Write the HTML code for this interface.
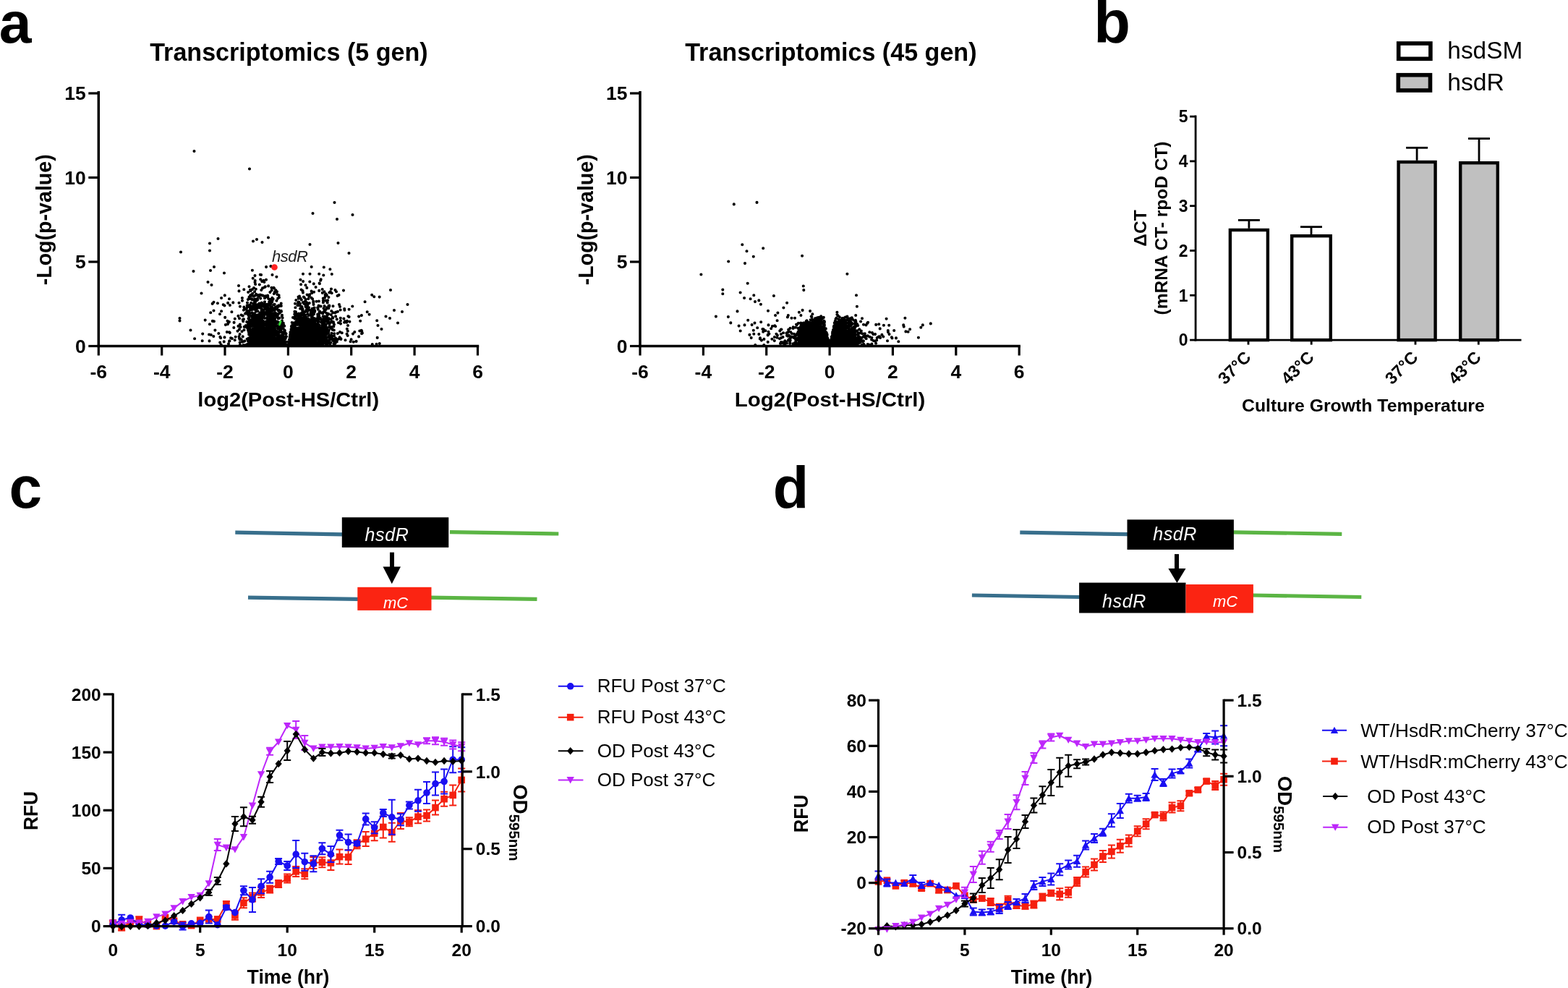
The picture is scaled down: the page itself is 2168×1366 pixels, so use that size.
<!DOCTYPE html>
<html><head><meta charset="utf-8"><style>
html,body{margin:0;padding:0;background:#fff;overflow:hidden;width:2168px;height:1366px;}
svg{display:block;font-family:"Liberation Sans",Arial,sans-serif;}
</style></head><body>
<svg width="2168" height="1366" viewBox="0 0 2168 1366">
<rect width="2168" height="1366" fill="#fff"/>
<text x="-1.2" y="58.8" font-size="80.5" font-weight="bold"  text-anchor="start" fill="#000" >a</text>
<text x="1512.2" y="58.6" font-size="83" font-weight="bold"  text-anchor="start" fill="#000" >b</text>
<text x="12.6" y="702.2" font-size="82" font-weight="bold"  text-anchor="start" fill="#000" >c</text>
<text x="1068.8" y="702.0" font-size="81" font-weight="bold"  text-anchor="start" fill="#000" >d</text>
<path d="M279.7 471.3h0M440.5 444.4h0M366.0 417.3h0M429.0 460.6h0M359.0 436.2h0M348.2 413.9h0M425.6 453.6h0M361.6 453.6h0M425.3 442.5h0M353.0 425.3h0M404.4 464.4h0M423.4 460.4h0M335.0 415.7h0M424.2 470.1h0M398.1 477.0h0M371.4 447.7h0M383.8 477.0h0M391.9 459.1h0M323.3 453.0h0M352.3 450.3h0M453.8 441.9h0M370.3 409.9h0M358.7 452.5h0M424.1 468.1h0M445.5 456.1h0M408.4 452.9h0M421.4 463.6h0M366.6 477.0h0M373.6 460.7h0M447.2 460.0h0M394.5 468.7h0M377.7 433.0h0M459.8 438.6h0M455.4 404.5h0M440.6 434.9h0M413.2 465.2h0M369.8 446.8h0M422.9 457.0h0M347.1 467.3h0M366.0 412.2h0M446.9 418.2h0M455.1 463.4h0M432.1 413.3h0M367.4 463.2h0M409.9 461.7h0M385.6 474.7h0M393.7 466.1h0M414.5 458.5h0M383.9 471.9h0M440.9 416.5h0M401.1 463.5h0M422.9 449.3h0M383.0 427.5h0M456.2 466.0h0M379.2 464.5h0M387.1 467.9h0M411.6 435.9h0M407.4 430.9h0M426.6 469.2h0M380.0 442.5h0M346.1 469.9h0M354.5 425.1h0M457.0 453.0h0M414.4 459.3h0M417.7 462.9h0M388.7 419.5h0M371.8 476.0h0M435.1 450.3h0M437.1 454.1h0M449.4 455.0h0M362.0 462.8h0M372.9 462.5h0M427.3 472.4h0M357.4 408.1h0M423.3 449.7h0M393.2 450.7h0M423.1 441.6h0M442.3 430.8h0M444.0 452.9h0M406.9 446.3h0M429.0 473.5h0M376.0 459.5h0M405.7 472.0h0M356.4 458.5h0M406.2 471.0h0M353.1 464.3h0M401.8 460.0h0M353.9 467.3h0M353.5 457.6h0M374.2 466.5h0M416.0 450.8h0M306.1 412.0h0M362.9 448.6h0M378.1 456.6h0M390.1 476.1h0M378.1 421.5h0M353.5 438.1h0M434.2 458.1h0M362.9 473.6h0M497.3 457.5h0M446.8 415.7h0M370.2 458.7h0M449.6 473.2h0M443.0 459.4h0M438.9 441.1h0M387.0 469.6h0M427.4 407.7h0M381.1 427.4h0M437.2 442.3h0M345.7 468.7h0M365.7 397.2h0M343.5 440.8h0M372.0 458.7h0M479.9 443.7h0M444.1 472.8h0M387.2 474.0h0M353.2 442.2h0M352.1 469.3h0M414.4 468.5h0M365.5 468.2h0M413.9 448.3h0M455.0 466.6h0M432.4 469.3h0M364.3 445.3h0M345.0 453.8h0M355.7 477.0h0M377.3 442.8h0M348.2 456.9h0M353.5 462.8h0M378.7 475.8h0M365.4 472.2h0M446.3 455.1h0M416.1 470.4h0M433.3 418.4h0M415.9 456.1h0M450.5 408.9h0M431.5 470.9h0M451.9 408.1h0M409.1 432.6h0M362.5 461.4h0M370.8 449.0h0M365.6 462.4h0M345.0 446.4h0M377.1 465.1h0M378.2 465.9h0M434.1 403.7h0M360.5 474.1h0M445.8 404.9h0M412.6 453.3h0M351.4 461.7h0M408.0 446.6h0M367.3 409.4h0M391.2 466.5h0M424.7 423.3h0M369.7 458.1h0M422.5 460.0h0M373.4 472.6h0M361.4 473.9h0M346.0 427.1h0M425.4 471.2h0M373.7 463.4h0M450.0 449.4h0M445.1 473.8h0M414.1 474.1h0M412.7 469.9h0M380.4 454.7h0M371.9 476.2h0M432.7 439.2h0M373.4 473.5h0M406.9 472.7h0M407.9 475.4h0M387.0 450.5h0M416.9 457.6h0M352.2 440.5h0M344.4 468.4h0M386.8 456.1h0M363.1 457.9h0M356.2 448.4h0M422.2 452.8h0M351.1 436.5h0M441.3 473.2h0M380.8 445.2h0M362.3 434.9h0M427.8 419.0h0M369.2 448.9h0M369.9 431.1h0M434.2 426.9h0M383.1 468.4h0M423.1 449.9h0M461.5 475.3h0M406.7 469.4h0M410.8 466.7h0M419.0 378.7h0M362.9 462.3h0M289.5 471.4h0M346.7 426.9h0M369.9 468.4h0M345.3 467.0h0M371.8 446.4h0M443.6 423.5h0M365.1 468.1h0M407.2 465.8h0M444.5 454.3h0M414.0 471.3h0M399.7 475.4h0M448.0 468.1h0M348.0 457.1h0M430.6 455.8h0M370.1 473.8h0M356.5 477.0h0M446.7 473.4h0M421.1 474.1h0M420.6 439.0h0M402.7 476.3h0M447.0 461.5h0M345.8 462.0h0M356.6 444.9h0M419.8 467.8h0M408.7 477.0h0M373.5 467.8h0M422.4 460.4h0M352.6 427.9h0M365.8 457.8h0M446.8 449.3h0M359.2 468.4h0M345.2 456.7h0M317.0 471.7h0M352.6 437.0h0M363.8 462.1h0M446.8 451.3h0M356.1 472.2h0M413.9 477.0h0M426.2 461.4h0M402.5 455.2h0M440.4 463.5h0M420.9 469.0h0M410.9 474.0h0M381.3 474.4h0M383.9 438.6h0M334.9 412.0h0M354.6 475.5h0M420.9 467.7h0M359.4 446.3h0M388.7 452.5h0M352.1 452.4h0M360.4 445.5h0M440.7 475.9h0M411.4 455.1h0M441.1 471.5h0M331.9 423.7h0M346.5 402.2h0M422.5 468.4h0M349.3 448.4h0M365.6 460.8h0M348.9 426.5h0M351.0 447.4h0M360.8 447.1h0M377.1 464.5h0M343.1 456.8h0M441.4 459.4h0M371.6 442.8h0M360.1 475.4h0M451.5 444.6h0M354.0 456.5h0M365.3 436.5h0M423.3 458.0h0M443.2 387.7h0M365.5 453.3h0M393.0 470.4h0M297.4 456.6h0M372.7 432.1h0M417.5 456.7h0M373.7 469.4h0M390.8 449.5h0M431.7 436.8h0M428.4 466.0h0M359.1 466.6h0M361.2 469.6h0M387.5 465.5h0M343.6 467.9h0M498.2 443.7h0M461.2 447.1h0M361.9 427.3h0M407.0 461.2h0M430.7 477.0h0M403.1 472.7h0M464.1 467.6h0M445.0 475.1h0M379.1 459.9h0M343.2 404.0h0M349.4 434.5h0M449.1 411.5h0M422.5 424.1h0M417.7 455.0h0M348.5 442.2h0M467.0 430.7h0M348.0 476.0h0M382.6 459.0h0M372.9 442.2h0M409.8 445.6h0M438.8 476.9h0M378.8 473.2h0M358.5 473.1h0M427.1 425.3h0M439.2 458.1h0M374.8 459.9h0M406.8 461.4h0M376.2 417.7h0M344.3 469.7h0M445.9 465.6h0M405.9 465.6h0M347.8 458.8h0M315.5 446.7h0M482.6 438.1h0M414.6 471.0h0M466.3 469.6h0M352.2 473.2h0M371.7 460.4h0M382.9 469.0h0M375.2 456.4h0M418.4 457.2h0M339.6 477.0h0M316.9 445.0h0M346.1 461.9h0M420.1 438.5h0M387.8 469.5h0M365.6 472.7h0M387.0 455.3h0M371.9 442.1h0M436.2 462.6h0M416.8 414.5h0M366.0 467.7h0M389.4 473.3h0M426.4 475.6h0M424.4 426.9h0M375.9 427.6h0M424.3 397.9h0M457.4 473.7h0M342.9 455.1h0M416.5 464.2h0M379.1 455.8h0M388.8 473.8h0M353.4 473.1h0M416.2 463.3h0M373.2 458.0h0M416.3 438.9h0M342.7 471.2h0M417.5 462.9h0M374.0 441.0h0M422.7 452.6h0M370.0 442.5h0M364.0 450.8h0M358.8 460.8h0M375.5 428.0h0M377.0 472.5h0M452.1 477.0h0M384.2 454.6h0M472.8 460.2h0M380.0 403.4h0M445.4 449.7h0M414.4 457.7h0M408.8 463.2h0M399.8 477.0h0M351.4 457.2h0M346.2 462.9h0M351.3 446.0h0M412.6 439.1h0M356.5 430.3h0M446.5 464.4h0M364.4 456.1h0M357.2 424.7h0M410.0 463.4h0M348.6 432.2h0M357.4 457.5h0M415.7 468.4h0M445.0 466.6h0M424.2 458.3h0M343.4 435.6h0M411.7 460.3h0M400.9 470.4h0M402.8 471.4h0M365.1 435.9h0M359.4 425.3h0M344.0 471.7h0M414.7 454.8h0M372.7 460.4h0M352.4 467.8h0M353.8 426.7h0M419.3 454.4h0M369.7 459.8h0M420.4 464.9h0M358.2 435.7h0M360.4 447.9h0M439.2 425.4h0M365.8 468.0h0M356.3 408.1h0M369.8 440.4h0M479.6 461.8h0M441.4 451.8h0M428.1 407.2h0M358.1 425.4h0M425.0 451.9h0M347.4 445.9h0M370.3 445.5h0M435.2 452.5h0M373.3 457.8h0M354.2 438.9h0M437.3 448.4h0M386.2 477.0h0M408.4 425.3h0M362.2 408.4h0M359.6 423.3h0M392.0 448.8h0M417.6 424.9h0M452.4 470.7h0M419.6 465.2h0M392.1 474.2h0M434.1 444.5h0M368.7 470.1h0M377.3 452.4h0M418.7 432.9h0M390.9 447.7h0M348.3 448.5h0M340.0 450.1h0M349.7 423.0h0M420.5 466.4h0M346.0 442.5h0M360.2 412.6h0M386.3 439.7h0M356.4 425.3h0M425.2 462.3h0M437.0 452.2h0M418.6 474.6h0M409.5 473.6h0M364.2 474.5h0M350.5 450.5h0M346.8 409.5h0M381.3 447.0h0M447.4 453.7h0M431.2 467.6h0M354.7 463.6h0M427.1 448.7h0M408.8 473.7h0M354.0 421.4h0M416.4 460.1h0M423.9 471.2h0M393.6 456.5h0M343.8 458.3h0M449.9 442.8h0M373.5 466.8h0M428.8 460.4h0M344.2 422.9h0M349.3 433.5h0M458.2 463.7h0M446.4 461.8h0M358.5 434.1h0M344.1 460.0h0M423.4 428.9h0M347.4 443.0h0M359.7 477.0h0M436.2 449.4h0M353.2 467.8h0M453.4 475.0h0M414.3 434.5h0M423.6 438.6h0M418.6 427.7h0M422.7 476.7h0M411.4 422.1h0M349.6 473.9h0M445.5 450.0h0M429.3 461.9h0M416.0 454.7h0M420.9 469.5h0M458.0 399.5h0M369.5 472.4h0M369.0 449.2h0M375.7 462.2h0M458.0 467.8h0M350.9 464.2h0M331.9 476.9h0M350.7 448.3h0M374.2 420.6h0M414.1 469.4h0M365.8 460.6h0M377.6 446.6h0M355.2 426.1h0M431.2 474.5h0M384.5 466.2h0M433.4 466.8h0M367.7 433.4h0M413.2 437.5h0M446.5 455.1h0M445.8 443.5h0M411.0 447.1h0M362.0 474.6h0M454.3 460.6h0M412.5 465.5h0M365.5 463.3h0M379.8 404.7h0M413.3 467.5h0M351.7 476.8h0M364.6 472.1h0M370.1 472.9h0M451.3 455.4h0M341.6 422.2h0M356.4 471.6h0M356.2 475.7h0M348.0 407.4h0M499.7 456.7h0M352.1 403.2h0M416.5 464.0h0M408.9 458.9h0M459.0 444.2h0M417.7 476.8h0M377.3 464.7h0M357.7 454.2h0M356.9 465.3h0M429.9 462.7h0M350.9 469.7h0M386.9 458.0h0M440.7 460.2h0M361.7 441.9h0M412.2 474.0h0M383.3 407.0h0M366.4 477.0h0M429.5 450.8h0M374.4 368.1h0M459.4 464.8h0M414.3 464.7h0M345.6 421.6h0M280.2 461.6h0M400.3 474.0h0M411.5 467.8h0M447.8 442.4h0M391.5 460.7h0M438.6 462.2h0M500.1 461.2h0M443.6 476.6h0M438.8 440.3h0M412.4 459.9h0M400.6 466.1h0M504.6 417.3h0M425.0 451.8h0M315.1 418.9h0M397.1 477.0h0M354.2 447.1h0M412.5 470.7h0M436.1 467.9h0M362.0 452.1h0M431.1 456.4h0M367.2 465.2h0M441.1 463.2h0M355.4 464.1h0M364.0 467.3h0M346.8 469.9h0M352.5 390.3h0M355.0 423.1h0M369.8 436.4h0M343.8 451.8h0M429.2 435.8h0M349.2 458.2h0M392.1 475.3h0M413.1 433.9h0M481.4 437.2h0M347.1 469.8h0M351.5 418.4h0M427.9 471.4h0M344.1 474.0h0M392.6 473.0h0M415.1 467.2h0M380.6 477.0h0M462.4 472.8h0M393.0 469.8h0M408.3 473.8h0M289.9 448.2h0M431.6 426.8h0M377.4 472.6h0M435.5 441.0h0M411.2 458.1h0M450.8 473.6h0M448.3 443.7h0M425.1 468.2h0M476.4 428.7h0M409.9 453.6h0M348.3 462.9h0M442.7 477.0h0M291.8 463.0h0M344.4 458.0h0M333.8 469.7h0M433.1 458.1h0M364.5 460.8h0M426.6 445.2h0M357.4 477.0h0M346.5 449.3h0M348.1 457.9h0M380.7 467.8h0M375.9 440.8h0M412.7 455.0h0M438.5 457.6h0M330.9 455.4h0M372.1 469.2h0M356.0 471.6h0M354.3 415.7h0M436.1 472.3h0M370.1 455.4h0M419.2 430.6h0M439.3 474.2h0M459.1 467.8h0M455.1 464.6h0M401.5 459.3h0M419.8 475.1h0M383.5 476.2h0M331.0 440.2h0M360.9 467.9h0M420.7 444.2h0M402.9 451.6h0M376.4 462.7h0M344.2 438.9h0M305.7 476.5h0M427.5 447.9h0M369.4 426.6h0M385.2 477.0h0M372.1 450.8h0M455.7 468.4h0M423.0 457.5h0M351.6 471.8h0M404.6 449.9h0M471.1 468.3h0M363.0 476.1h0M433.4 448.0h0M415.5 439.5h0M386.5 458.7h0M363.6 455.7h0M371.4 454.4h0M356.4 472.8h0M422.5 441.7h0M450.5 406.2h0M372.1 417.6h0M356.5 460.6h0M464.1 437.4h0M300.9 419.2h0M366.9 456.0h0M446.2 467.9h0M425.0 431.0h0M416.1 462.5h0M445.3 445.5h0M376.2 467.9h0M369.0 424.6h0M344.2 445.6h0M371.1 467.8h0M418.3 470.7h0M343.8 477.0h0M416.0 447.9h0M431.1 405.2h0M355.4 474.1h0M430.6 432.0h0M411.8 469.5h0M431.2 465.9h0M361.3 475.7h0M407.3 434.4h0M447.5 460.4h0M356.1 439.3h0M377.1 464.9h0M445.7 400.0h0M357.9 454.9h0M370.7 453.8h0M418.9 465.0h0M354.5 459.9h0M355.1 426.7h0M345.0 460.6h0M431.5 441.1h0M449.1 429.6h0M441.1 466.5h0M392.3 469.3h0M425.1 477.0h0M480.8 457.7h0M438.5 451.2h0M304.2 473.6h0M455.2 464.8h0M359.3 451.5h0M359.6 459.9h0M420.4 477.0h0M463.5 401.1h0M470.8 439.7h0M384.5 476.8h0M373.0 464.6h0M432.1 471.0h0M462.0 448.8h0M424.1 448.8h0M304.4 465.9h0M447.5 426.3h0M370.1 445.7h0M354.0 476.4h0M358.6 421.6h0M409.2 476.0h0M418.4 477.0h0M353.4 468.6h0M348.3 449.8h0M424.6 474.1h0M373.0 461.7h0M343.8 422.4h0M362.3 453.3h0M463.4 474.9h0M385.4 471.9h0M391.7 464.6h0M448.9 448.2h0M345.0 452.9h0M422.8 442.7h0M346.2 408.2h0M384.8 429.6h0M364.9 459.2h0M370.2 466.5h0M380.1 467.1h0M430.2 457.8h0M441.4 451.5h0M365.9 448.8h0M428.9 464.1h0M450.5 475.3h0M412.1 461.5h0M433.5 459.8h0M362.9 476.9h0M366.9 474.0h0M452.7 453.2h0M418.3 467.1h0M356.2 443.4h0M443.1 468.8h0M507.7 431.3h0M373.9 460.4h0M380.8 474.0h0M354.7 467.7h0M368.5 468.3h0M375.1 457.4h0M500.9 460.6h0M420.4 470.0h0M449.7 408.5h0M362.3 469.3h0M455.4 448.3h0M424.4 465.5h0M390.5 467.9h0M411.3 462.4h0M419.9 474.2h0M371.1 471.2h0M438.5 476.8h0M453.9 472.6h0M405.5 451.6h0M448.6 423.1h0M384.6 454.6h0M404.4 462.8h0M458.3 430.1h0M330.5 418.8h0M413.7 454.8h0M353.6 423.9h0M430.4 475.0h0M411.5 455.1h0M479.2 445.7h0M356.7 477.0h0M364.8 470.3h0M448.2 469.6h0M373.7 441.7h0M362.7 438.0h0M425.3 472.3h0M424.9 420.4h0M357.7 470.5h0M434.7 425.5h0M379.5 447.4h0M424.1 452.3h0M414.6 471.4h0M320.9 468.1h0M371.5 457.2h0M340.4 451.3h0M439.3 463.0h0M425.5 464.8h0M337.9 427.1h0M412.5 443.2h0M353.3 427.6h0M357.0 450.8h0M374.0 426.2h0M430.5 411.8h0M434.0 434.3h0M364.3 471.2h0M371.9 456.7h0M428.3 447.2h0M366.0 440.0h0M359.0 421.6h0M351.7 433.5h0M433.9 466.4h0M433.7 459.2h0M310.5 466.4h0M425.7 465.6h0M428.8 466.7h0M362.1 440.9h0M430.7 453.4h0M444.6 443.5h0M416.8 475.4h0M375.5 437.5h0M358.7 472.2h0M454.4 458.5h0M521.7 466.9h0M358.8 474.8h0M368.1 421.5h0M428.7 450.2h0M460.5 432.3h0M349.0 477.0h0M356.5 463.5h0M476.2 427.0h0M432.9 432.7h0M423.5 476.9h0M361.2 469.6h0M375.7 466.4h0M386.1 467.3h0M451.4 457.2h0M372.4 420.9h0M369.1 454.3h0M386.7 468.6h0M408.9 472.7h0M463.3 432.4h0M366.7 447.9h0M401.3 462.2h0M342.9 414.1h0M448.2 469.3h0M432.5 464.1h0M371.0 454.8h0M361.4 461.9h0M421.7 473.8h0M432.3 451.8h0M426.7 436.3h0M436.7 450.4h0M435.2 429.4h0M433.8 462.4h0M350.3 465.7h0M373.1 448.3h0M377.4 474.6h0M374.5 427.0h0M363.2 445.2h0M366.5 433.9h0M330.5 465.2h0M359.3 441.9h0M354.8 465.2h0M416.6 400.5h0M447.8 441.4h0M414.5 459.7h0M372.4 433.6h0M449.9 461.1h0M443.8 461.6h0M358.1 472.2h0M381.2 462.7h0M418.4 447.2h0M371.6 460.2h0M309.7 472.4h0M347.1 444.4h0M373.8 440.6h0M380.6 473.9h0M357.6 471.7h0M348.8 468.1h0M357.4 468.5h0M379.2 463.4h0M348.6 444.5h0M385.0 471.0h0M442.7 455.8h0M390.6 453.4h0M415.4 449.4h0M405.1 448.0h0M388.7 471.1h0M359.4 460.3h0M418.5 469.7h0M348.7 436.7h0M381.0 471.1h0M442.1 463.1h0M415.5 474.3h0M362.2 448.1h0M393.6 471.7h0M435.3 467.3h0M416.6 470.9h0M350.5 466.0h0M421.1 462.0h0M435.8 463.8h0M399.2 476.8h0M346.7 451.6h0M372.5 474.0h0M435.9 463.4h0M414.6 462.9h0M415.0 449.9h0M418.4 457.1h0M481.0 450.0h0M388.4 471.5h0M452.3 453.3h0M403.4 461.1h0M467.9 468.7h0M434.3 473.3h0M344.8 475.9h0M454.8 456.5h0M361.3 421.8h0M362.1 457.2h0M342.2 423.1h0M417.8 444.3h0M365.2 434.6h0M441.0 452.9h0M370.2 466.9h0M356.6 455.2h0M426.9 459.4h0M358.3 460.9h0M428.2 461.7h0M403.4 476.9h0M347.0 423.2h0M354.2 455.7h0M375.2 477.0h0M417.6 472.6h0M394.3 473.8h0M383.7 444.8h0M329.5 450.9h0M421.2 431.8h0M371.3 437.7h0M387.6 476.2h0M442.9 473.7h0M407.6 440.6h0M353.8 399.7h0M370.8 466.3h0M342.3 476.1h0M369.1 475.4h0M440.6 422.6h0M414.0 468.7h0M422.9 477.0h0M462.3 461.3h0M412.7 468.4h0M412.7 474.2h0M430.9 461.6h0M425.0 473.6h0M379.0 448.7h0M451.2 432.8h0M351.4 421.3h0M470.0 424.0h0M372.8 459.8h0M367.9 462.7h0M433.5 421.1h0M376.8 459.4h0M421.4 420.6h0M370.9 463.5h0M376.2 463.1h0M454.2 472.1h0M404.5 450.6h0M389.4 475.7h0M360.1 436.6h0M408.8 436.7h0M426.3 440.5h0M419.0 453.3h0M374.3 458.9h0M343.4 422.8h0M412.5 410.6h0M417.1 464.8h0M406.4 458.4h0M354.2 467.2h0M389.6 444.5h0M448.2 448.8h0M353.5 440.1h0M435.7 467.4h0M356.1 463.6h0M412.1 465.1h0M352.0 414.1h0M364.1 431.4h0M433.6 426.4h0M368.6 460.5h0M329.4 436.9h0M415.5 461.9h0M429.0 461.4h0M422.9 440.0h0M386.0 463.5h0M404.9 451.8h0M357.1 469.9h0M291.2 432.3h0M457.3 465.8h0M411.8 463.6h0M360.9 433.7h0M373.6 428.6h0M364.0 466.5h0M419.1 439.2h0M350.6 477.0h0M389.4 449.3h0M411.1 470.6h0M350.6 477.0h0M499.9 436.1h0M406.7 462.4h0M370.2 421.0h0M373.8 470.7h0M416.2 453.4h0M357.4 464.7h0M351.0 469.4h0M412.6 466.9h0M415.1 426.7h0M349.1 448.0h0M464.7 431.5h0M411.3 469.6h0M428.6 463.8h0M428.8 444.2h0M440.9 464.7h0M455.3 422.6h0M372.7 466.5h0M380.1 476.1h0M412.3 459.9h0M345.3 474.3h0M418.2 472.5h0M356.4 455.0h0M445.8 448.9h0M410.6 457.5h0M360.1 455.7h0M337.3 400.3h0M365.1 471.2h0M374.4 465.6h0M471.0 447.6h0M410.2 455.0h0M424.9 468.0h0M434.6 461.9h0M375.5 426.5h0M423.0 468.0h0M373.0 459.9h0M380.0 442.6h0M436.3 468.6h0M378.4 397.9h0M392.0 467.6h0M421.2 472.1h0M351.2 421.4h0M358.1 471.9h0M420.3 436.5h0M368.0 386.8h0M470.0 459.1h0M393.1 477.0h0M346.0 400.7h0M372.2 455.9h0M348.2 438.2h0M413.8 453.2h0M423.3 467.6h0M341.2 445.1h0M412.7 447.2h0M386.5 449.2h0M429.9 472.2h0M354.4 451.6h0M412.6 458.0h0M402.3 466.6h0M412.5 446.1h0M363.2 475.6h0M368.2 458.4h0M373.4 468.6h0M453.2 415.2h0M432.9 443.5h0M409.9 475.4h0M351.9 427.1h0M431.2 469.2h0M414.5 469.7h0M391.9 471.3h0M358.7 464.5h0M364.6 430.3h0M431.3 474.3h0M355.5 435.6h0M451.2 442.4h0M440.9 467.8h0M427.5 456.3h0M428.5 472.7h0M374.1 431.9h0M370.1 408.6h0M346.9 469.4h0M342.1 475.9h0M349.8 465.0h0M466.8 461.1h0M367.9 467.0h0M385.8 449.6h0M353.1 393.0h0M378.1 471.6h0M461.0 445.2h0M402.9 467.1h0M343.7 477.0h0M360.3 474.5h0M380.7 432.5h0M403.7 467.6h0M432.1 470.3h0M426.7 459.9h0M434.1 463.9h0M521.2 443.3h0M432.9 440.0h0M389.6 463.4h0M366.1 427.5h0M422.5 472.5h0M415.6 476.3h0M357.2 454.0h0M422.9 448.5h0M439.9 477.0h0M368.9 430.5h0M412.7 417.5h0M357.7 461.7h0M343.4 448.0h0M365.2 477.0h0M433.5 449.8h0M423.9 464.9h0M439.2 434.6h0M366.8 396.4h0M425.8 454.6h0M393.6 460.1h0M349.2 470.3h0M423.8 470.6h0M470.9 443.6h0M438.4 462.8h0M430.5 442.6h0M429.6 470.8h0M434.7 463.9h0M410.0 469.2h0M420.7 466.7h0M372.1 453.8h0M404.0 457.4h0M371.3 445.0h0M425.2 459.5h0M355.6 466.9h0M423.8 474.5h0M363.1 467.0h0M354.9 425.9h0M391.5 454.6h0M389.0 430.7h0M348.5 469.2h0M374.6 469.4h0M447.7 464.1h0M451.6 455.2h0M388.9 466.9h0M371.1 470.9h0M363.3 473.9h0M430.0 444.2h0M430.5 462.7h0M375.3 461.9h0M450.9 460.8h0M406.8 458.5h0M359.7 407.6h0M444.6 458.8h0M375.9 451.8h0M425.7 426.2h0M421.8 435.7h0M372.6 437.8h0M409.5 444.4h0M462.1 470.5h0M416.5 467.9h0M369.5 434.6h0M420.6 475.2h0M390.3 477.0h0M366.2 477.0h0M456.6 466.1h0M365.0 445.1h0M372.4 457.7h0M355.1 415.2h0M375.8 424.4h0M345.3 469.3h0M374.9 470.8h0M483.4 444.7h0M449.8 472.5h0M367.5 470.4h0M364.5 461.3h0M423.6 448.0h0M377.2 475.6h0M488.0 461.6h0M423.7 455.6h0M334.5 458.3h0M367.8 421.2h0M351.5 456.6h0M347.0 472.0h0M433.5 472.2h0M404.5 468.2h0M415.9 442.7h0M351.0 446.5h0M356.9 408.9h0M364.4 461.6h0M415.6 473.9h0M446.8 437.6h0M452.6 442.2h0M460.5 423.2h0M449.7 469.1h0M352.9 418.0h0M378.1 438.2h0M482.6 427.8h0M440.7 474.1h0M395.2 476.3h0M431.8 462.7h0M449.6 463.5h0M385.5 475.2h0M269.1 468.2h0M436.8 463.6h0M434.3 455.5h0M350.1 450.7h0M403.7 446.0h0M411.0 474.7h0M417.8 460.1h0M454.8 440.3h0M295.9 444.3h0M387.6 446.1h0M417.6 476.0h0M423.0 471.0h0M433.0 474.5h0M353.1 408.4h0M348.8 476.4h0M370.6 470.4h0M410.0 472.5h0M355.5 469.1h0M432.9 464.2h0M421.5 457.7h0M458.7 405.3h0M430.9 447.3h0M365.2 473.2h0M331.5 469.3h0M437.9 467.2h0M356.0 467.4h0M374.2 452.1h0M368.4 464.8h0M419.8 453.3h0M448.4 403.2h0M369.8 436.7h0M342.7 449.4h0M447.8 431.0h0M358.4 409.6h0M374.5 463.7h0M377.6 467.3h0M366.8 455.7h0M393.2 460.9h0M398.5 477.0h0M420.7 454.5h0M405.4 453.1h0M407.1 462.8h0M431.0 438.0h0M363.1 431.1h0M436.0 470.6h0M435.9 450.2h0M377.7 460.9h0M413.2 433.5h0M370.3 450.4h0M414.8 447.9h0M475.0 401.6h0M422.4 475.3h0M450.3 449.0h0M415.3 475.0h0M415.6 442.5h0M413.8 436.8h0M416.2 446.6h0M456.6 465.7h0M384.5 463.4h0M365.6 460.3h0M362.1 465.1h0M353.3 467.0h0M386.2 451.4h0M435.0 453.9h0M357.6 456.3h0M431.0 453.4h0M447.9 449.8h0M416.8 470.9h0M426.5 442.8h0M374.0 475.0h0M426.6 463.3h0M414.4 469.3h0M387.0 475.3h0M370.0 466.1h0M377.5 443.3h0M401.4 470.6h0M378.5 443.6h0M417.8 452.6h0M392.1 476.7h0M310.5 422.5h0M433.9 473.8h0M360.0 456.4h0M383.3 423.2h0M344.4 424.1h0M353.4 449.3h0M347.8 443.4h0M385.6 450.1h0M358.0 468.0h0M361.4 460.9h0M371.6 473.8h0M358.7 471.5h0M363.8 423.8h0M360.3 459.1h0M355.3 466.7h0M418.5 450.6h0M428.3 389.5h0M346.9 457.6h0M344.3 469.3h0M352.2 446.9h0M366.8 465.0h0M395.0 465.3h0M471.4 469.0h0M418.7 468.8h0M432.7 472.8h0M446.5 476.3h0M402.0 467.0h0M427.0 469.9h0M428.2 461.9h0M369.4 452.1h0M336.9 428.7h0M389.1 476.4h0M431.6 466.7h0M443.8 459.9h0M349.5 414.3h0M418.9 430.5h0M415.1 420.1h0M369.9 463.1h0M419.1 389.1h0M408.1 465.5h0M366.9 470.0h0M358.2 476.4h0M350.5 434.7h0M377.1 433.2h0M366.1 474.6h0M345.1 413.0h0M364.9 476.1h0M399.8 473.7h0M413.6 448.9h0M417.7 441.2h0M433.3 467.0h0M439.2 451.3h0M430.9 477.0h0M408.0 419.8h0M362.1 441.0h0M378.8 452.6h0M343.3 430.5h0M360.5 432.8h0M302.3 461.0h0M439.5 469.7h0M422.3 443.2h0M431.2 451.8h0M350.6 472.1h0M379.2 459.2h0M364.7 446.6h0M388.8 429.9h0M428.8 457.7h0M278.5 405.5h0M437.1 463.0h0M308.7 421.3h0M356.1 414.6h0M374.8 451.6h0M450.9 454.2h0M422.0 451.9h0M469.6 466.2h0M433.5 458.5h0M393.3 470.1h0M419.9 410.6h0M451.7 472.1h0M345.7 477.0h0M354.2 471.7h0M351.2 462.5h0M418.1 401.8h0M403.7 458.1h0M449.3 438.5h0M437.0 475.7h0M345.7 471.3h0M383.3 450.2h0M434.0 470.4h0M380.3 476.4h0M460.5 470.9h0M381.3 461.7h0M378.0 474.2h0M436.8 443.1h0M441.6 449.8h0M520.6 475.7h0M383.1 427.4h0M344.7 432.1h0M345.9 409.7h0M353.2 470.6h0M376.8 468.5h0M344.3 451.4h0M423.3 463.0h0M368.9 475.4h0M362.2 451.2h0M341.1 431.6h0M422.8 469.2h0M468.0 446.2h0M439.7 452.7h0M347.0 460.5h0M364.2 457.4h0M423.4 468.4h0M438.0 466.6h0M402.4 463.8h0M369.5 440.6h0M349.4 465.8h0M351.3 450.3h0M317.1 459.3h0M386.0 468.7h0M451.2 469.6h0M355.2 443.3h0M353.7 454.3h0M363.6 450.1h0M376.0 474.5h0M369.2 420.9h0M428.2 455.9h0M374.3 453.1h0M293.7 419.9h0M452.7 418.5h0M477.1 444.4h0M344.5 476.6h0M407.0 461.5h0M432.3 459.0h0M390.0 435.8h0M387.1 453.4h0M441.2 435.8h0M412.5 456.9h0M346.9 469.3h0M408.4 434.3h0M382.4 382.7h0M435.1 463.2h0M430.1 468.7h0M379.3 453.9h0M365.6 435.5h0M337.5 456.2h0M411.0 442.6h0M359.5 469.9h0M447.1 468.5h0M405.3 477.0h0M413.1 448.2h0M379.7 469.8h0M412.0 469.0h0M379.0 464.9h0M378.0 426.2h0M477.5 470.3h0M357.9 440.6h0M410.3 463.4h0M351.9 459.6h0M423.3 477.0h0M345.5 433.4h0M373.0 446.0h0M353.7 424.2h0M420.9 473.6h0M404.4 457.2h0M351.8 418.6h0M443.7 386.3h0M387.3 475.4h0M363.8 457.5h0M401.2 466.2h0M344.5 410.9h0M440.3 471.9h0M387.3 456.5h0M349.2 457.0h0M435.2 430.8h0M364.1 453.8h0M417.9 458.0h0M381.4 445.1h0M380.8 445.0h0M377.6 413.4h0M436.9 463.1h0M378.8 467.0h0M374.6 440.3h0M341.6 468.7h0M461.3 451.4h0M364.9 456.1h0M366.0 432.6h0M430.1 445.9h0M369.7 454.7h0M488.8 472.7h0M393.1 472.5h0M461.8 456.5h0M349.9 448.9h0M362.4 452.9h0M383.8 464.4h0M427.3 409.6h0M479.8 454.7h0M421.3 447.4h0M449.6 456.3h0M374.9 435.5h0M431.8 476.2h0M387.4 476.5h0M365.8 457.7h0M372.3 453.7h0M432.6 452.9h0M383.8 434.0h0M450.9 452.5h0M355.1 461.1h0M451.1 467.7h0M368.1 467.0h0M428.7 458.1h0M465.8 441.4h0M358.9 457.9h0M414.1 440.6h0M514.8 476.0h0M373.4 434.4h0M448.7 451.8h0M295.5 429.5h0M369.4 475.1h0M484.6 472.2h0M422.5 394.3h0M345.2 470.5h0M347.0 475.1h0M424.4 456.1h0M434.4 432.2h0M372.4 449.0h0M435.7 474.5h0M428.9 473.1h0M419.3 470.1h0M450.5 475.2h0M439.4 450.8h0M442.1 470.4h0M438.2 466.6h0M361.4 419.7h0M407.2 460.1h0M462.0 464.4h0M415.1 444.6h0M355.4 472.6h0M432.9 435.1h0M412.1 472.5h0M336.2 444.3h0M359.2 469.6h0M365.2 472.1h0M386.0 458.9h0M354.0 456.0h0M355.1 455.4h0M446.4 457.6h0M448.7 444.6h0M372.0 471.9h0M359.7 473.2h0M351.8 436.1h0M354.5 448.1h0M360.1 454.7h0M425.6 448.8h0M403.8 471.1h0M350.3 420.6h0M427.8 472.1h0M386.5 459.5h0M444.4 443.1h0M420.3 453.3h0M439.7 439.5h0M428.4 448.6h0M435.6 447.4h0M380.5 450.1h0M408.2 459.8h0M360.2 386.3h0M450.8 471.5h0M319.1 467.3h0M442.2 432.0h0M389.8 473.0h0M385.7 473.9h0M374.6 443.5h0M418.6 464.9h0M403.5 470.1h0M369.4 474.6h0M372.1 469.9h0M413.3 458.5h0M348.7 463.4h0M384.2 412.6h0M373.4 472.6h0M500.3 458.0h0M421.5 457.2h0M441.9 473.1h0M343.7 454.9h0M344.5 396.3h0M391.7 450.5h0M415.3 456.3h0M375.1 464.3h0M386.0 449.8h0M374.5 423.8h0M368.7 451.6h0M436.2 449.1h0M354.0 446.3h0M356.7 421.0h0M417.9 469.5h0M444.1 432.3h0M363.0 439.2h0M435.4 473.9h0M432.6 471.5h0M440.6 458.3h0M430.9 477.0h0M435.2 475.3h0M348.0 467.5h0M371.3 428.2h0M361.8 418.5h0M437.0 458.6h0M408.0 448.2h0M454.4 411.0h0M353.3 468.7h0M413.5 471.8h0M426.2 476.1h0M401.8 458.9h0M415.1 453.4h0M432.2 459.4h0M402.3 458.7h0M345.0 475.3h0M345.6 466.8h0M417.1 455.6h0M415.4 386.7h0M496.1 465.4h0M417.1 432.6h0M348.9 373.7h0M419.3 476.3h0M343.1 451.0h0M295.5 417.8h0M415.3 446.6h0M344.7 441.9h0M453.4 446.4h0M448.5 474.2h0M368.5 450.7h0M355.0 477.0h0M438.9 450.7h0M392.1 476.6h0M351.0 398.0h0M368.1 474.0h0M362.2 477.0h0M433.1 449.2h0M357.4 474.9h0M452.1 437.0h0M377.4 441.0h0M415.6 473.1h0M371.9 474.5h0M352.5 413.5h0M384.9 466.9h0M369.2 462.4h0M347.9 464.0h0M441.2 378.8h0M441.5 455.5h0M361.4 464.9h0M389.2 451.4h0M388.1 456.2h0M351.8 477.0h0M359.2 452.4h0M356.9 448.9h0M368.0 432.7h0M361.5 466.2h0M369.8 449.2h0M443.7 471.1h0M373.5 438.8h0M469.0 421.1h0M332.7 468.7h0M438.0 467.2h0M428.1 465.4h0M440.2 452.7h0M434.5 449.7h0M414.2 422.5h0M440.6 437.6h0M418.5 427.2h0M353.9 468.6h0M397.4 477.0h0M357.3 460.1h0M361.5 427.3h0M378.4 466.0h0M363.9 420.6h0M425.6 475.5h0M451.9 442.6h0M451.2 471.5h0M424.7 463.5h0M427.3 461.8h0M374.8 453.5h0M436.4 472.6h0M399.9 469.6h0M358.4 446.3h0M387.9 475.9h0M431.1 428.6h0M364.3 475.7h0M457.8 435.1h0M355.8 445.6h0M426.1 470.7h0M410.2 471.9h0M400.9 467.1h0M380.6 462.5h0M420.7 431.1h0M379.3 447.8h0M406.9 464.6h0M352.2 463.7h0M348.9 466.5h0M524.8 475.0h0M356.2 460.1h0M360.9 449.8h0M465.2 470.6h0M422.3 449.5h0M386.1 471.3h0M387.0 464.8h0M425.7 476.6h0M466.6 409.0h0M459.7 468.2h0M389.3 459.2h0M417.5 460.3h0M387.1 471.6h0M421.4 459.6h0M357.2 457.8h0M359.8 464.6h0M367.8 476.0h0M414.4 467.3h0M446.8 456.1h0M371.6 430.1h0M451.2 462.4h0M360.1 466.3h0M429.1 458.6h0M371.7 463.6h0M373.1 416.7h0M374.5 418.0h0M375.8 460.4h0M375.1 460.6h0M437.1 443.7h0M335.8 436.6h0M423.7 460.3h0M320.4 431.3h0M376.5 415.6h0M438.3 476.8h0M378.4 470.0h0M388.7 454.4h0M313.8 459.1h0M348.9 441.2h0M351.2 433.6h0M402.4 470.4h0M358.3 468.5h0M385.5 428.8h0M410.8 436.9h0M345.4 477.0h0M408.9 465.5h0M431.9 472.0h0M421.0 461.4h0M448.6 429.0h0M317.4 471.4h0M339.0 433.6h0M371.1 453.4h0M371.7 453.9h0M368.9 476.9h0M418.8 458.6h0M344.5 471.1h0M382.4 470.1h0M412.8 412.7h0M348.6 465.8h0M454.6 474.1h0M356.9 444.6h0M351.2 464.0h0M351.9 453.1h0M379.1 398.6h0M429.6 461.5h0M361.3 423.1h0M375.1 465.7h0M367.9 473.7h0M417.5 465.5h0M456.4 477.0h0M405.0 471.4h0M353.4 463.5h0M354.5 455.2h0M485.6 469.4h0M342.0 418.5h0M413.0 470.3h0M426.4 413.1h0M455.2 475.0h0M454.3 426.2h0M422.6 455.2h0M425.2 455.3h0M369.2 423.6h0M358.7 452.8h0M447.8 369.5h0M380.9 424.8h0M407.4 477.0h0M358.7 459.2h0M374.8 459.7h0M372.7 468.0h0M344.1 436.4h0M385.0 445.7h0M414.4 446.0h0M423.5 459.2h0M378.8 476.7h0M441.9 392.3h0M423.8 441.3h0M447.8 458.9h0M348.6 426.3h0M330.5 402.4h0M424.5 445.2h0M456.8 403.2h0M413.5 417.9h0M350.6 463.9h0M283.7 442.6h0M355.8 464.4h0M359.7 454.4h0M449.5 460.4h0M347.8 463.4h0M449.6 450.6h0M370.8 475.1h0M417.5 466.4h0M370.7 458.7h0M453.3 440.0h0M450.8 449.0h0M370.8 470.5h0M432.1 469.1h0M331.7 469.0h0M428.6 474.0h0M331.6 462.1h0M328.5 457.8h0M364.1 457.1h0M413.6 473.1h0M461.8 476.9h0M381.0 477.0h0M430.6 402.6h0M430.8 461.5h0M458.6 460.7h0M354.5 462.4h0M352.1 415.8h0M418.1 429.0h0M448.8 466.7h0M368.7 476.8h0M374.2 462.5h0M405.3 459.9h0M385.0 464.6h0M410.8 460.2h0M311.9 449.1h0M449.8 463.9h0M387.2 465.7h0M440.8 449.0h0M374.1 445.5h0M348.3 460.1h0M451.8 458.3h0M450.4 449.8h0M355.0 475.6h0M363.7 475.0h0M455.3 469.1h0M423.2 473.9h0M374.2 464.2h0M367.5 466.5h0M352.4 456.8h0M348.1 413.3h0M452.1 466.3h0M426.0 462.1h0M426.3 476.0h0M423.5 468.2h0M362.5 477.0h0M375.4 397.8h0M413.5 471.0h0M434.8 472.1h0M459.8 455.9h0M355.7 466.8h0M351.4 448.4h0M450.6 462.4h0M356.8 477.0h0M386.5 471.6h0M366.8 432.7h0M365.4 466.4h0M436.6 397.0h0M355.0 463.8h0M444.0 467.6h0M453.3 425.6h0M447.0 431.7h0M348.6 467.3h0M412.8 447.3h0M363.7 443.9h0M358.1 463.4h0M370.2 424.3h0M443.2 470.3h0M403.1 451.7h0M433.2 416.6h0M429.7 442.0h0M454.0 433.9h0M425.9 425.7h0M385.0 476.7h0M380.0 451.0h0M355.6 456.9h0M363.9 471.3h0M413.7 477.0h0M349.3 472.1h0M356.8 474.1h0M343.0 470.6h0M414.3 473.7h0M431.5 475.2h0M375.2 447.4h0M437.5 462.9h0M363.2 473.5h0M436.6 476.5h0M349.2 458.7h0M447.7 470.8h0M434.6 463.3h0M293.9 443.9h0M438.7 467.6h0M380.8 458.9h0M361.3 452.6h0M411.8 461.3h0M419.2 477.0h0M350.9 462.8h0M386.8 467.9h0M448.6 458.8h0M370.1 472.4h0M424.9 472.9h0M385.0 466.6h0M446.2 466.0h0M376.5 440.9h0M354.9 460.2h0M435.5 454.7h0M402.7 459.2h0M377.9 444.4h0M457.2 441.5h0M450.4 441.5h0M378.6 434.3h0M427.9 467.6h0M424.4 466.6h0M417.9 463.8h0M350.2 460.0h0M356.4 460.5h0M405.5 463.9h0M384.8 440.5h0M373.9 468.2h0M517.3 410.2h0M379.3 470.0h0M352.7 443.1h0M422.2 465.7h0M354.1 460.4h0M349.5 471.0h0M448.6 429.3h0M417.4 474.6h0M395.2 461.5h0M433.5 463.7h0M374.2 414.5h0M450.0 442.1h0M347.1 458.0h0M421.3 445.1h0M425.2 461.0h0M393.9 457.5h0M430.4 446.4h0M374.0 423.3h0M372.6 467.2h0M405.3 455.7h0M453.8 434.8h0M430.9 476.0h0M425.0 472.5h0M496.2 437.6h0M366.5 465.1h0M332.6 452.1h0M373.8 428.9h0M381.9 450.7h0M380.9 472.7h0M362.8 474.1h0M409.1 431.4h0M335.7 442.1h0M419.7 462.1h0M434.5 461.3h0M465.8 472.4h0M336.5 477.0h0M384.7 424.0h0M359.8 438.2h0M425.5 421.4h0M419.7 476.6h0M353.4 468.5h0M439.4 455.7h0M437.3 474.5h0M417.1 471.8h0M436.0 455.5h0M369.2 461.7h0M311.2 438.9h0M369.6 469.7h0M396.0 465.3h0M430.5 463.4h0M366.8 475.1h0M441.7 431.6h0M430.0 430.6h0M363.8 408.7h0M403.3 450.4h0M432.0 463.2h0M376.9 448.9h0M448.6 447.9h0M360.6 456.8h0M346.7 455.6h0M382.9 461.3h0M420.8 411.5h0M350.8 459.7h0M371.5 456.8h0M436.4 460.4h0M426.0 449.9h0M490.3 459.0h0M437.5 416.8h0M363.7 420.7h0M323.6 445.9h0M371.0 459.4h0M411.0 434.3h0M429.6 464.9h0M417.5 470.9h0M362.2 464.5h0M350.6 469.2h0M475.4 440.6h0M419.0 418.0h0M383.0 403.3h0M357.7 474.9h0M424.7 474.5h0M450.1 415.6h0M367.2 474.4h0M364.3 387.8h0M349.1 473.6h0M354.5 447.6h0M430.2 462.1h0M351.3 476.8h0M350.7 409.8h0M421.2 476.0h0M374.4 472.0h0M411.5 457.7h0M439.7 446.2h0M422.2 437.1h0M356.9 444.7h0M367.9 467.1h0M369.5 410.6h0M442.0 423.5h0M416.4 451.7h0M418.3 444.2h0M367.0 475.1h0M357.0 450.7h0M407.8 448.4h0M416.9 458.3h0M371.0 473.8h0M386.1 473.8h0M372.1 457.7h0M368.0 469.3h0M384.5 476.4h0M342.3 432.7h0M420.8 443.1h0M377.0 429.5h0M385.3 465.1h0M358.9 463.2h0M417.0 423.8h0M444.1 456.5h0M378.4 466.7h0M441.5 463.1h0M417.1 473.3h0M430.3 470.4h0M364.6 469.4h0M359.4 471.5h0M376.8 451.7h0M452.7 434.8h0M429.2 461.7h0M407.1 459.4h0M362.8 464.0h0M354.6 407.7h0M409.6 446.4h0M455.3 452.1h0M350.4 446.8h0M362.3 449.1h0M447.9 469.3h0M421.7 470.2h0M361.3 401.0h0M376.7 442.7h0M350.7 414.2h0M449.0 459.5h0M415.2 439.1h0M449.5 457.6h0M373.2 415.7h0M382.6 473.0h0M383.1 444.5h0M365.2 434.2h0M428.8 471.1h0M424.6 407.5h0M344.9 447.7h0M426.6 473.0h0M385.2 468.9h0M408.2 449.0h0M388.0 454.3h0M446.2 433.5h0M344.4 477.0h0M360.1 472.7h0M423.4 450.7h0M389.7 436.9h0M365.4 446.8h0M379.6 420.7h0M380.0 475.9h0M357.6 449.0h0M437.2 458.0h0M379.7 428.9h0M432.7 442.9h0M371.0 437.4h0M433.5 460.3h0M375.4 447.0h0M354.1 406.7h0M459.3 469.7h0M384.7 445.9h0M445.2 453.5h0M355.5 463.8h0M460.9 468.9h0M445.2 472.2h0M347.8 474.3h0M423.5 461.9h0M380.5 474.0h0M364.2 449.7h0M391.8 454.6h0M418.1 475.7h0M420.8 472.8h0M468.5 407.9h0M351.1 463.5h0M376.1 476.5h0M428.6 475.5h0M371.5 431.8h0M353.7 469.5h0M382.0 461.1h0M349.1 464.7h0M424.2 418.3h0M376.3 411.9h0M420.0 474.8h0M385.6 460.2h0M427.7 459.7h0M369.7 452.3h0M440.9 475.7h0M360.7 475.0h0M476.1 445.8h0M431.0 461.5h0M400.0 472.2h0M443.4 461.5h0M382.2 473.9h0M420.0 419.6h0M375.0 465.5h0M317.9 422.0h0M374.4 418.8h0M353.7 456.7h0M365.3 459.1h0M424.9 455.9h0M434.8 441.7h0M374.5 465.0h0M375.4 448.1h0M432.0 468.4h0M438.6 459.0h0M364.5 434.8h0M390.9 447.0h0M353.3 471.2h0M354.5 455.8h0M364.7 473.4h0M388.2 454.4h0M444.1 445.7h0M352.5 381.1h0M349.4 469.9h0M317.0 413.3h0M380.7 469.3h0M363.0 398.4h0M363.6 463.9h0M405.2 472.9h0M425.9 450.5h0M448.4 465.2h0M414.0 465.1h0M454.3 444.9h0M416.7 462.2h0M448.8 459.8h0M374.5 413.8h0M439.4 475.8h0M431.4 443.9h0M364.5 467.3h0M362.8 466.4h0M431.9 429.2h0M359.2 450.2h0M365.9 464.8h0M350.9 473.8h0M357.7 468.5h0M432.9 470.9h0M426.0 468.9h0M356.6 462.3h0M348.5 461.7h0M357.5 474.7h0M386.9 449.0h0M377.3 477.0h0M388.0 473.3h0M347.2 418.8h0M382.6 451.1h0M340.7 428.0h0M346.8 446.3h0M431.5 473.0h0M360.7 465.2h0M382.2 471.7h0M414.2 459.3h0M436.5 457.2h0M443.8 463.9h0M348.1 446.8h0M371.8 477.0h0M353.6 448.5h0M344.2 462.6h0M358.8 393.5h0M337.3 424.5h0M435.5 475.6h0M331.7 473.5h0M382.9 472.5h0M348.0 461.4h0M426.4 427.2h0M403.1 455.8h0M410.1 455.8h0M363.7 458.9h0M434.2 476.0h0M346.6 428.5h0M408.4 449.4h0M436.8 457.7h0M420.1 465.9h0M373.7 458.3h0M428.0 408.6h0M360.6 470.2h0M445.6 461.6h0M446.8 412.5h0M402.6 457.7h0M369.8 477.0h0M369.6 476.1h0M434.7 470.5h0M359.3 454.5h0M361.5 465.7h0M385.6 408.2h0M404.1 452.5h0M418.9 404.6h0M412.0 418.7h0M420.7 451.7h0M422.7 451.8h0M460.2 439.8h0M429.3 473.9h0M450.9 444.6h0M359.7 444.9h0M420.0 468.5h0M343.5 450.8h0M425.8 474.6h0M414.5 477.0h0M377.4 435.5h0M366.7 427.2h0M470.7 428.5h0M352.1 434.3h0M414.0 466.3h0M347.5 459.9h0M403.0 454.5h0M431.2 450.6h0M363.3 469.6h0M492.6 471.9h0M420.3 469.9h0M343.7 454.9h0M410.0 459.4h0M429.4 433.1h0M429.9 458.2h0M353.4 457.7h0M361.5 446.2h0M385.6 422.3h0M353.9 430.7h0M304.0 434.3h0M355.7 450.6h0M351.6 444.0h0M373.8 467.4h0M349.0 455.3h0M385.1 450.0h0M397.2 472.7h0M351.9 469.4h0M416.4 472.9h0M362.2 465.4h0M425.1 451.5h0M415.8 439.8h0M447.0 454.6h0M434.8 465.6h0M451.1 471.5h0M446.2 471.0h0M350.6 425.8h0M366.0 412.0h0M372.6 452.7h0M404.2 464.5h0M395.2 466.6h0M375.0 472.7h0M361.1 380.0h0M401.5 459.9h0M437.4 451.2h0M423.5 462.1h0M427.8 461.8h0M324.7 470.2h0M408.7 436.4h0M352.7 453.5h0M346.6 456.6h0M428.6 457.6h0M427.8 471.8h0M433.6 442.5h0M445.3 476.8h0M382.3 475.0h0M349.0 400.0h0M419.8 475.2h0M427.8 468.9h0M432.7 456.2h0M351.4 469.0h0M428.6 464.4h0M425.0 471.0h0M355.1 440.2h0M424.7 466.8h0M433.3 460.7h0M452.1 460.1h0M426.7 471.9h0M431.2 464.6h0M341.2 452.8h0M449.7 407.4h0M445.7 450.9h0M366.9 457.0h0M310.8 408.4h0M364.0 472.3h0M405.4 475.2h0M411.4 449.0h0M365.7 423.6h0M356.5 448.2h0M433.8 392.4h0M425.3 466.3h0M360.7 463.3h0M514.2 407.8h0M371.2 413.1h0M377.6 441.7h0M377.3 476.0h0M364.7 450.1h0M433.6 470.0h0M389.5 445.9h0M457.4 445.8h0M444.5 469.5h0M362.4 476.8h0M352.4 423.2h0M366.6 464.3h0M354.6 468.7h0M391.8 446.8h0M446.6 444.2h0M373.2 467.5h0M425.6 467.4h0M407.1 457.0h0M409.2 467.3h0M432.6 440.3h0M442.2 467.3h0M362.6 453.9h0M392.8 474.9h0M388.8 453.7h0M351.6 453.7h0M380.0 464.6h0M376.2 470.0h0M306.1 430.3h0M354.9 442.7h0M367.5 473.4h0M352.5 468.8h0M348.7 460.3h0M343.1 445.3h0M388.6 469.1h0M369.8 449.8h0M377.3 368.9h0M422.1 416.2h0M439.4 438.0h0M407.4 473.7h0M420.7 471.2h0M455.6 450.9h0M386.2 423.3h0M422.5 448.3h0M363.5 454.9h0M471.4 468.3h0M371.1 395.4h0M401.1 472.3h0M420.2 465.5h0M357.0 455.2h0M348.3 414.3h0M378.1 467.3h0M394.7 460.7h0M354.9 474.8h0M337.8 451.9h0M377.1 470.7h0M335.3 472.6h0M439.8 427.8h0M382.1 474.3h0M366.7 460.4h0M432.9 458.6h0M434.5 471.0h0M356.0 412.7h0M424.3 473.2h0M431.5 457.2h0M455.8 470.1h0M368.6 468.7h0M390.6 439.4h0M349.0 428.0h0M419.4 433.8h0M379.9 451.8h0M437.0 448.0h0M305.1 467.3h0M295.3 465.0h0M378.1 448.1h0M289.1 462.5h0M430.7 439.5h0M370.3 473.4h0M365.4 390.0h0M351.6 451.3h0M352.3 439.2h0M361.7 419.3h0M417.3 465.1h0M428.5 477.0h0M425.5 473.5h0M345.1 445.9h0M338.3 471.6h0M353.4 422.9h0M433.4 472.6h0M355.4 469.2h0M375.4 472.7h0M389.9 443.6h0M453.1 471.7h0M455.1 445.3h0M388.8 422.9h0M352.0 456.8h0M345.0 462.6h0M434.5 442.3h0M389.1 465.5h0M364.3 438.9h0M444.0 441.4h0M351.5 442.9h0M337.3 472.0h0M362.0 442.0h0M407.3 448.1h0M341.4 425.4h0M385.9 411.3h0M382.9 473.9h0M448.8 437.6h0M371.7 458.3h0M416.0 446.9h0M412.1 477.0h0M422.2 454.2h0M457.2 453.7h0M374.5 463.1h0M417.3 468.6h0M364.8 455.2h0M372.9 452.5h0M360.3 470.9h0M421.9 473.3h0M360.7 456.3h0M440.3 456.6h0M402.7 462.5h0M420.6 441.8h0M356.2 442.2h0M345.7 477.0h0M335.7 465.4h0M415.1 471.0h0M360.1 460.4h0M428.5 378.7h0M434.5 467.8h0M380.0 472.1h0M409.3 415.0h0M360.7 455.8h0M428.1 472.4h0M375.6 401.4h0M450.7 428.0h0M412.9 460.2h0M417.8 465.0h0M370.7 464.0h0M351.2 445.0h0M430.0 449.8h0M413.5 473.5h0M358.5 419.6h0M411.0 461.6h0M450.5 451.9h0M359.0 471.3h0M420.1 463.3h0M440.0 473.8h0M351.3 462.5h0M420.2 437.2h0M419.5 474.5h0M351.2 420.6h0M353.0 426.8h0M337.0 441.2h0M414.1 470.5h0M409.5 440.7h0M369.6 458.4h0M371.8 441.7h0M456.4 372.2h0M428.7 451.3h0M425.3 434.3h0M367.4 444.5h0M388.7 458.4h0M353.4 450.9h0M352.9 468.0h0M429.5 435.5h0M361.6 429.6h0M416.9 471.6h0M409.4 471.6h0M386.6 458.1h0M324.8 440.8h0M442.8 439.6h0M357.4 463.9h0M380.3 440.0h0M394.7 461.1h0M379.0 473.3h0M374.2 441.9h0M418.6 402.6h0M367.3 446.5h0M346.6 464.3h0M361.5 423.1h0M524.7 410.6h0M377.1 445.9h0M369.8 472.5h0M448.7 470.3h0M379.4 468.2h0M439.4 435.8h0M395.6 461.3h0M380.8 433.4h0M363.6 459.0h0M367.5 423.2h0M413.2 464.4h0M373.2 444.5h0M366.9 476.7h0M423.3 476.8h0M435.3 467.6h0M431.9 452.4h0M376.0 458.4h0M388.0 471.2h0M450.3 438.5h0M384.5 434.9h0M316.0 475.4h0M416.5 461.9h0M363.6 455.0h0M375.2 461.7h0M425.0 451.5h0M440.9 463.8h0M314.5 443.8h0M349.9 454.6h0M428.5 476.8h0M454.5 422.7h0M384.3 459.0h0M366.1 455.7h0M442.1 457.7h0M371.5 426.9h0M441.3 463.3h0M403.7 473.4h0M418.5 469.7h0M450.8 473.0h0M347.6 451.3h0M350.4 449.2h0M348.5 459.4h0M435.0 440.2h0M374.8 454.5h0M389.3 463.7h0M440.9 459.9h0M480.7 464.0h0M372.5 455.7h0M349.2 406.1h0M437.7 462.8h0M361.9 433.5h0M347.2 465.5h0M439.4 467.6h0M369.9 470.3h0M433.2 470.5h0M354.3 424.3h0M344.9 459.5h0M350.4 460.1h0M369.5 427.4h0M445.9 404.9h0M426.8 467.8h0M366.3 425.4h0M352.8 461.6h0M349.9 476.0h0M427.5 428.5h0M375.6 456.6h0M375.5 439.2h0M438.5 450.6h0M364.2 469.4h0M347.8 436.8h0M510.6 434.7h0M432.8 464.5h0M376.7 440.4h0M331.8 448.6h0M351.5 436.8h0M430.4 471.8h0M408.3 456.7h0M450.4 453.9h0M352.3 447.5h0M440.1 469.8h0M348.0 470.2h0M414.5 442.6h0M352.3 474.8h0M364.4 452.6h0M412.0 467.6h0M384.0 452.8h0M407.6 438.0h0M446.6 441.2h0M443.5 467.5h0M410.8 466.8h0M357.3 439.6h0M375.4 450.7h0M363.3 429.8h0M352.7 472.6h0M322.3 418.4h0M420.9 475.9h0M333.6 435.6h0M341.6 433.8h0M447.3 380.5h0M420.8 450.8h0M375.6 453.7h0M352.8 447.1h0M420.8 476.3h0M348.8 455.5h0M370.6 462.5h0M433.6 475.6h0M434.3 462.6h0M430.7 369.0h0M358.8 458.8h0M449.5 459.2h0M349.7 384.7h0M401.4 475.0h0M409.3 465.1h0M414.3 456.9h0M405.3 451.8h0M407.2 465.3h0M362.8 430.5h0M421.4 440.4h0M345.3 470.3h0M421.9 452.1h0M411.7 461.1h0M465.0 403.2h0M447.2 473.6h0M416.2 441.8h0M358.1 472.8h0M416.8 473.7h0M354.2 447.0h0M381.9 467.9h0M421.4 458.2h0M357.4 424.7h0M330.9 467.5h0M380.8 436.1h0M431.3 467.4h0M428.7 477.0h0M434.9 457.7h0M419.0 471.2h0M368.0 474.7h0M379.4 421.2h0M378.8 406.1h0M416.1 393.2h0M380.3 433.3h0M439.8 476.4h0M422.8 470.8h0M402.8 466.7h0M421.9 464.3h0M384.2 470.7h0M352.5 441.2h0M357.8 476.7h0M382.5 437.3h0M358.0 446.6h0M346.7 457.2h0M376.8 438.5h0M450.7 475.6h0M417.5 456.0h0M359.7 432.6h0M355.4 447.0h0M366.7 449.1h0M314.8 448.3h0M377.8 468.6h0M377.0 467.3h0M381.4 401.4h0M427.4 443.4h0M451.7 425.4h0M438.1 469.1h0M445.7 473.3h0M362.7 428.0h0M434.1 460.7h0M350.4 473.7h0M371.1 474.7h0M446.0 454.2h0M428.6 465.8h0M362.6 458.6h0M393.6 466.1h0M369.2 439.6h0M371.1 474.6h0M383.0 467.7h0M417.0 473.3h0M369.6 445.8h0M441.2 401.9h0M390.7 472.3h0M352.7 388.1h0M413.7 466.9h0M353.4 455.1h0M462.0 472.1h0M362.8 436.4h0M359.8 379.8h0M405.0 439.0h0M415.3 467.1h0M418.9 451.5h0M401.9 476.0h0M437.8 464.9h0M351.4 475.4h0M375.8 450.9h0M349.0 477.0h0M370.7 435.3h0M455.3 423.6h0M414.1 448.1h0M403.9 466.8h0M440.6 441.6h0M354.7 471.8h0M438.1 457.8h0M348.9 470.1h0M415.5 412.4h0M451.2 469.0h0M360.5 456.9h0M344.6 468.1h0M416.5 436.0h0M409.9 468.0h0M349.2 476.2h0M423.5 472.6h0M428.5 453.4h0M354.6 466.3h0M379.1 459.5h0M347.1 473.0h0M427.1 459.5h0M369.7 434.4h0M412.3 465.9h0M378.0 477.0h0M382.4 415.8h0M362.4 452.3h0M407.6 440.7h0M449.7 469.9h0M437.8 448.8h0M375.3 443.7h0M376.6 413.5h0M416.5 446.0h0M440.9 472.4h0M487.3 423.5h0M357.1 476.4h0M376.5 380.0h0M349.7 457.4h0M407.7 456.6h0M408.4 466.4h0M430.6 475.2h0M411.4 474.1h0M373.4 404.1h0M369.5 472.2h0M388.9 473.8h0M354.7 462.1h0M378.2 439.0h0M458.8 379.0h0M378.4 467.4h0M317.8 460.1h0M386.8 432.7h0M439.7 465.5h0M355.0 467.7h0M349.6 472.4h0M372.2 475.4h0M459.3 452.1h0M417.5 474.9h0M374.1 425.5h0M408.6 458.4h0M409.3 463.4h0M369.4 468.3h0M366.0 420.1h0M415.6 473.2h0M408.6 477.0h0M354.9 437.3h0M441.6 391.5h0M422.8 414.1h0M414.3 477.0h0M436.9 454.6h0M438.7 466.7h0M422.6 450.7h0M414.0 409.6h0M366.1 470.4h0M368.1 369.1h0M361.2 440.8h0M382.4 458.0h0M348.5 439.3h0M381.8 447.3h0M362.2 389.1h0M373.3 454.9h0M369.7 440.9h0M344.3 429.9h0M441.2 467.3h0M325.7 465.8h0M446.9 472.7h0M421.7 470.7h0M268.5 209.0h0M345.0 233.5h0M462.5 280.0h0M432.5 295.0h0M487.5 297.0h0M466.0 303.0h0M371.0 328.5h0M350.0 333.5h0M355.0 331.0h0M362.5 335.0h0M428.5 338.0h0M467.5 336.0h0M301.5 330.0h0M290.0 336.5h0M290.0 346.5h0M250.0 348.5h0M482.5 350.0h0M267.5 375.0h0M291.0 374.0h0M296.0 369.0h0M310.0 377.5h0M248.5 443.5h0M248.5 440.0h0M263.5 456.5h0M287.5 390.0h0M292.5 394.0h0M330.0 395.0h0M540.0 401.0h0M563.5 421.0h0M545.0 429.0h0M556.0 431.0h0M533.5 437.5h0M539.0 440.0h0M550.0 446.5h0M527.5 455.0h0M522.5 450.0h0" stroke="#000" stroke-width="4.1" stroke-linecap="round" fill="none"/>
<line x1="136.3" y1="126.0" x2="136.3" y2="480.0" stroke="#000" stroke-width="3.5" />
<line x1="134.6" y1="478.5" x2="662.2" y2="478.5" stroke="#000" stroke-width="3.5" />
<line x1="122.3" y1="478.5" x2="136.3" y2="478.5" stroke="#000" stroke-width="3.2" />
<text x="118.8" y="487.8" font-size="26.5" font-weight="bold"  text-anchor="end" fill="#000" >0</text>
<line x1="122.3" y1="362.0" x2="136.3" y2="362.0" stroke="#000" stroke-width="3.2" />
<text x="118.8" y="371.3" font-size="26.5" font-weight="bold"  text-anchor="end" fill="#000" >5</text>
<line x1="122.3" y1="245.5" x2="136.3" y2="245.5" stroke="#000" stroke-width="3.2" />
<text x="118.8" y="254.8" font-size="26.5" font-weight="bold"  text-anchor="end" fill="#000" >10</text>
<line x1="122.3" y1="129.0" x2="136.3" y2="129.0" stroke="#000" stroke-width="3.2" />
<text x="118.8" y="138.3" font-size="26.5" font-weight="bold"  text-anchor="end" fill="#000" >15</text>
<line x1="136.3" y1="478.5" x2="136.3" y2="491.5" stroke="#000" stroke-width="3.2" />
<text x="136.3" y="522.5" font-size="26.5" font-weight="bold"  text-anchor="middle" fill="#000" >-6</text>
<line x1="223.7" y1="478.5" x2="223.7" y2="491.5" stroke="#000" stroke-width="3.2" />
<text x="223.7" y="522.5" font-size="26.5" font-weight="bold"  text-anchor="middle" fill="#000" >-4</text>
<line x1="311.0" y1="478.5" x2="311.0" y2="491.5" stroke="#000" stroke-width="3.2" />
<text x="311.0" y="522.5" font-size="26.5" font-weight="bold"  text-anchor="middle" fill="#000" >-2</text>
<line x1="398.4" y1="478.5" x2="398.4" y2="491.5" stroke="#000" stroke-width="3.2" />
<text x="398.4" y="522.5" font-size="26.5" font-weight="bold"  text-anchor="middle" fill="#000" >0</text>
<line x1="485.7" y1="478.5" x2="485.7" y2="491.5" stroke="#000" stroke-width="3.2" />
<text x="485.7" y="522.5" font-size="26.5" font-weight="bold"  text-anchor="middle" fill="#000" >2</text>
<line x1="573.1" y1="478.5" x2="573.1" y2="491.5" stroke="#000" stroke-width="3.2" />
<text x="573.1" y="522.5" font-size="26.5" font-weight="bold"  text-anchor="middle" fill="#000" >4</text>
<line x1="660.5" y1="478.5" x2="660.5" y2="491.5" stroke="#000" stroke-width="3.2" />
<text x="660.5" y="522.5" font-size="26.5" font-weight="bold"  text-anchor="middle" fill="#000" >6</text>
<text x="207.2" y="83.6" font-size="35.6" font-weight="bold" textLength="384.4" lengthAdjust="spacingAndGlyphs">Transcriptomics (5 gen)</text>
<text x="273.3" y="561.7" font-size="27.5" font-weight="bold" textLength="250.8" lengthAdjust="spacingAndGlyphs">log2(Post-HS/Ctrl)</text>
<text transform="translate(71.00000000000001,303.8) rotate(-90)" font-size="28.6" font-weight="bold" text-anchor="middle">-Log(p-value)</text>
<circle cx="379.5" cy="369.5" r="4.3" fill="#f22"/>
<ellipse cx="387.2" cy="446.6" rx="1.6" ry="4" transform="rotate(20 387.2 446.6)" fill="#33d433"/>
<text x="376.0" y="362.0" font-size="22"  font-style="italic" text-anchor="start" fill="#222" letter-spacing="-0.5">hsdR</text>
<path d="M1123.5 447.1h0M1138.8 471.1h0M1154.0 469.5h0M1111.6 468.2h0M1182.1 465.6h0M1186.6 461.4h0M1119.0 474.5h0M1109.8 459.4h0M1140.0 474.9h0M1191.6 477.0h0M1172.8 469.1h0M1118.0 473.2h0M1123.8 444.0h0M1167.1 472.9h0M1120.0 475.9h0M1167.9 473.4h0M1165.4 473.2h0M1169.3 448.6h0M1106.4 468.2h0M1124.8 463.7h0M1115.8 469.7h0M1155.4 475.9h0M1166.0 444.5h0M1161.9 455.5h0M1097.9 461.7h0M1169.0 448.8h0M1087.4 460.6h0M1181.6 471.9h0M1123.0 462.9h0M1115.3 463.0h0M1114.8 461.9h0M1150.2 476.8h0M1166.0 450.5h0M1166.6 463.1h0M1165.4 460.3h0M1115.3 475.9h0M1157.9 470.4h0M1165.0 465.2h0M1155.7 465.5h0M1141.8 454.4h0M1150.5 474.1h0M1172.5 472.1h0M1151.0 468.9h0M1128.2 467.1h0M1154.8 468.9h0M1126.6 458.4h0M1181.4 464.7h0M1119.7 469.9h0M1103.9 446.9h0M1118.7 455.8h0M1175.3 457.1h0M1142.3 472.3h0M1169.7 469.5h0M1167.1 467.0h0M1127.5 449.6h0M1149.1 472.7h0M1162.9 465.9h0M1171.0 446.7h0M1126.8 476.9h0M1125.1 471.6h0M1127.4 471.7h0M1146.5 476.3h0M1160.9 455.6h0M1061.7 463.5h0M1128.4 471.3h0M1158.6 464.5h0M1129.8 471.0h0M1132.1 451.9h0M1115.6 477.0h0M1161.8 472.7h0M1172.8 466.1h0M1159.8 459.9h0M1179.1 463.3h0M1150.2 471.2h0M1161.2 470.4h0M1159.7 476.5h0M1165.0 476.4h0M1116.0 468.2h0M1166.2 475.7h0M1152.2 467.3h0M1123.1 476.6h0M1117.6 472.8h0M1153.2 454.8h0M1178.8 454.9h0M1126.9 458.1h0M1117.9 460.4h0M1145.8 474.7h0M1156.8 469.4h0M1138.4 472.6h0M1114.1 477.0h0M1172.7 453.2h0M1116.4 461.9h0M1116.6 455.9h0M1116.9 475.5h0M1122.0 472.1h0M1133.8 466.7h0M1156.8 440.3h0M1123.1 441.9h0M1125.4 466.2h0M1114.1 465.3h0M1107.4 457.3h0M1126.7 474.0h0M1159.5 460.6h0M1121.0 446.2h0M1159.5 467.1h0M1158.3 462.1h0M1115.0 470.9h0M1126.5 475.3h0M1151.4 467.5h0M1173.9 472.2h0M1112.3 464.4h0M1141.3 473.8h0M1144.1 467.3h0M1169.7 467.0h0M1162.2 448.0h0M1162.9 458.0h0M1148.3 477.0h0M1131.2 471.1h0M1154.6 463.6h0M1174.0 464.9h0M1131.2 457.3h0M1122.0 450.8h0M1155.6 469.7h0M1128.8 473.0h0M1146.0 474.2h0M1179.7 473.4h0M1157.1 476.5h0M1164.3 475.9h0M1159.9 470.8h0M1131.0 475.4h0M1153.0 450.9h0M1155.8 472.3h0M1152.1 461.8h0M1137.9 466.6h0M1163.4 472.5h0M1161.8 457.9h0M1170.3 470.6h0M1134.2 477.0h0M1157.4 469.2h0M1121.2 458.8h0M1132.4 460.8h0M1134.8 467.6h0M1193.9 471.4h0M1164.7 446.2h0M1139.8 448.5h0M1124.6 458.0h0M1143.6 469.0h0M1166.0 476.3h0M1120.6 477.0h0M1151.5 465.2h0M1175.0 455.0h0M1143.5 464.1h0M1169.2 466.1h0M1139.2 459.0h0M1172.9 470.5h0M1114.6 475.8h0M1141.3 466.5h0M1178.9 447.6h0M1181.6 476.5h0M1167.2 455.5h0M1167.0 460.8h0M1115.8 463.4h0M1121.2 466.9h0M1131.1 470.8h0M1167.1 467.1h0M1164.2 465.3h0M1150.2 471.8h0M1163.2 445.6h0M1168.5 474.5h0M1130.0 449.4h0M1112.7 466.9h0M1124.4 464.7h0M1092.3 473.5h0M1165.3 453.2h0M1173.6 475.4h0M1119.8 459.0h0M1160.1 469.7h0M1169.0 463.6h0M1114.4 447.8h0M1153.4 460.9h0M1207.4 462.1h0M1185.3 475.4h0M1090.8 463.5h0M1111.8 455.3h0M1118.5 467.6h0M1175.0 463.3h0M1176.7 455.9h0M1096.4 475.4h0M1165.0 474.6h0M1166.2 469.0h0M1151.1 477.0h0M1098.1 467.2h0M1158.5 477.0h0M1125.6 465.6h0M1144.5 469.8h0M1153.6 467.1h0M1126.9 459.5h0M1182.2 470.6h0M1126.0 468.2h0M1120.8 460.2h0M1190.1 444.5h0M1099.8 452.8h0M1117.0 470.3h0M1123.2 471.7h0M1132.3 458.4h0M1136.0 463.5h0M1114.9 466.0h0M1165.5 460.0h0M1158.1 473.4h0M1115.5 443.4h0M1150.3 465.4h0M1111.0 459.2h0M1156.1 465.4h0M1170.7 458.7h0M1136.3 470.9h0M1144.4 474.7h0M1162.5 472.9h0M1182.9 442.9h0M1108.1 456.5h0M1112.4 460.6h0M1126.2 467.3h0M1155.9 470.7h0M1148.7 475.3h0M1160.7 463.8h0M1157.5 455.6h0M1063.4 461.6h0M1172.9 476.2h0M1120.9 451.9h0M1138.0 476.3h0M1104.4 470.8h0M1118.0 474.1h0M1126.8 475.0h0M1125.5 459.8h0M1138.7 462.3h0M1121.7 463.4h0M1154.3 468.1h0M1134.2 467.8h0M1143.1 471.4h0M1148.2 475.6h0M1138.0 452.0h0M1171.0 475.5h0M1173.9 471.9h0M1111.3 461.8h0M1159.7 459.3h0M1120.9 475.2h0M1161.9 458.3h0M1152.0 456.0h0M1138.1 439.6h0M1116.9 465.2h0M1133.0 468.9h0M1130.7 463.9h0M1136.4 469.5h0M1173.6 468.1h0M1144.9 473.3h0M1128.8 465.8h0M1061.7 462.8h0M1090.3 458.0h0M1150.0 467.4h0M1139.0 459.4h0M1129.8 465.3h0M1135.4 451.2h0M1117.1 467.3h0M1170.3 476.5h0M1115.3 475.9h0M1085.1 476.8h0M1112.4 448.6h0M1171.9 467.8h0M1141.0 463.7h0M1155.8 460.6h0M1133.1 448.2h0M1109.9 464.4h0M1134.4 463.4h0M1158.5 468.8h0M1155.8 475.3h0M1135.7 477.0h0M1155.5 454.2h0M1092.7 467.8h0M1167.0 468.3h0M1122.0 475.9h0M1142.0 459.8h0M1106.7 475.4h0M1147.4 477.0h0M1055.7 455.3h0M1149.9 469.7h0M1127.4 462.6h0M1115.4 470.2h0M1130.4 469.9h0M1162.2 471.0h0M1129.3 462.4h0M1136.3 475.5h0M1110.1 475.0h0M1127.4 463.4h0M1149.3 476.9h0M1142.1 471.9h0M1144.4 469.2h0M1129.3 469.1h0M1125.6 461.1h0M1121.0 466.8h0M1165.5 468.2h0M1180.3 466.7h0M1129.1 475.8h0M1138.1 468.5h0M1172.3 446.6h0M1166.2 461.2h0M1192.9 472.1h0M1162.2 474.2h0M1120.5 462.0h0M1161.5 470.2h0M1151.1 469.4h0M1125.4 454.3h0M1132.5 467.2h0M1160.7 472.8h0M1183.0 451.6h0M1158.1 448.0h0M1116.3 463.3h0M1167.4 464.3h0M1154.4 468.8h0M1142.9 471.6h0M1149.1 474.0h0M1157.0 472.6h0M1159.3 465.0h0M1127.5 475.7h0M1111.1 461.0h0M1137.0 472.3h0M1110.9 469.0h0M1126.0 456.3h0M1164.3 474.1h0M1151.6 477.0h0M1173.2 474.8h0M1175.6 443.7h0M1155.7 467.2h0M1101.1 448.5h0M1168.6 450.9h0M1136.2 446.3h0M1162.3 459.8h0M1138.7 454.7h0M1132.6 458.2h0M1158.0 473.6h0M1145.3 474.9h0M1200.1 445.7h0M1134.9 452.9h0M1148.9 471.1h0M1135.3 443.4h0M1157.1 449.9h0M1189.6 473.4h0M1115.6 448.6h0M1178.7 458.6h0M1107.8 461.0h0M1133.8 447.1h0M1121.1 464.1h0M1150.3 470.2h0M1116.5 466.9h0M1119.5 461.3h0M1179.2 469.3h0M1149.7 477.0h0M1129.9 476.7h0M1108.6 456.6h0M1158.2 477.0h0M1134.1 446.8h0M1120.9 473.7h0M1147.3 477.0h0M1124.8 458.6h0M1169.1 472.2h0M1154.8 468.5h0M1183.4 444.8h0M1155.3 472.2h0M1168.6 474.1h0M1172.1 465.0h0M1179.4 468.7h0M1124.2 463.0h0M1134.5 446.7h0M1170.1 473.6h0M1112.2 473.7h0M1127.1 462.3h0M1168.3 450.9h0M1185.7 473.3h0M1252.4 458.4h0M1188.5 469.2h0M1121.0 469.8h0M1172.4 473.0h0M1171.8 473.2h0M1161.0 474.2h0M1110.7 464.5h0M1106.5 452.6h0M1117.0 461.3h0M1176.4 455.2h0M1072.2 451.3h0M1117.5 453.9h0M1175.9 472.8h0M1127.1 468.8h0M1180.7 464.8h0M1176.8 446.3h0M1154.1 450.9h0M1137.6 447.7h0M1168.7 474.7h0M1117.1 466.5h0M1184.0 469.6h0M1111.3 466.3h0M1173.4 443.0h0M1121.1 456.0h0M1154.3 474.8h0M1153.7 473.9h0M1166.2 458.8h0M1139.8 464.3h0M1166.1 460.3h0M1173.6 477.0h0M1164.3 453.9h0M1143.4 477.0h0M1058.4 457.3h0M1126.5 460.6h0M1161.9 462.1h0M1115.6 464.5h0M1102.8 467.4h0M1182.5 472.3h0M1176.7 466.2h0M1143.2 474.3h0M1167.0 475.8h0M1129.6 453.1h0M1132.6 452.6h0M1132.6 477.0h0M1136.8 457.4h0M1144.5 468.2h0M1106.7 471.7h0M1168.4 475.4h0M1162.2 456.5h0M1110.9 460.9h0M1115.8 464.9h0M1199.8 464.4h0M1116.8 463.4h0M1111.1 470.3h0M1130.1 439.3h0M1157.3 465.5h0M1163.2 469.2h0M1159.7 459.9h0M1094.4 465.6h0M1157.2 448.2h0M1171.2 475.8h0M1158.0 451.4h0M1160.9 461.2h0M1106.9 460.4h0M1125.8 459.3h0M1178.9 456.0h0M1116.4 466.7h0M1136.9 467.5h0M1123.7 465.1h0M1109.7 451.3h0M1137.4 454.4h0M1160.1 459.8h0M1128.2 443.0h0M1153.5 466.8h0M1164.0 462.7h0M1128.3 471.0h0M1123.4 473.1h0M1157.6 472.2h0M1157.3 467.0h0M1118.6 448.9h0M1152.1 471.6h0M1143.3 474.3h0M1109.9 474.1h0M1169.9 457.0h0M1166.4 466.2h0M1179.9 463.2h0M1155.2 467.2h0M1134.4 463.4h0M1161.1 471.8h0M1117.1 463.3h0M1165.4 466.9h0M1113.2 452.1h0M1180.2 472.8h0M1169.1 457.1h0M1133.3 452.3h0M1100.6 471.5h0M1155.5 441.1h0M1164.3 446.5h0M1111.3 460.7h0M1153.8 470.0h0M1117.3 472.8h0M1168.0 454.6h0M1125.7 443.0h0M1138.1 476.8h0M1166.4 444.9h0M1171.1 477.0h0M1150.7 464.4h0M1157.4 474.2h0M1156.8 472.1h0M1153.9 460.7h0M1126.2 466.9h0M1169.3 474.8h0M1120.6 471.5h0M1172.5 460.6h0M1131.8 447.1h0M1179.1 467.4h0M1116.5 459.3h0M1159.0 475.5h0M1166.4 454.6h0M1167.3 455.4h0M1126.4 449.7h0M1162.0 474.6h0M1123.3 464.8h0M1114.4 471.6h0M1166.0 471.6h0M1162.6 459.2h0M1120.6 464.8h0M1110.7 468.0h0M1174.3 465.4h0M1119.6 462.0h0M1169.9 468.3h0M1148.4 475.9h0M1107.8 466.6h0M1139.2 460.3h0M1128.4 445.8h0M1110.3 474.6h0M1149.7 468.5h0M1122.4 459.2h0M1085.3 471.2h0M1128.5 473.1h0M1150.0 465.6h0M1124.5 467.5h0M1141.3 460.9h0M1121.0 474.4h0M1166.4 450.7h0M1112.9 466.1h0M1187.0 473.6h0M1137.8 465.1h0M1126.7 477.0h0M1107.0 459.1h0M1159.0 462.8h0M1158.5 436.3h0M1156.4 464.7h0M1140.6 460.0h0M1161.1 460.6h0M1148.5 477.0h0M1169.1 465.0h0M1156.0 463.2h0M1154.0 474.4h0M1122.9 463.6h0M1121.8 459.2h0M1150.3 470.5h0M1165.4 453.5h0M1173.0 474.4h0M1164.1 476.6h0M1107.3 446.6h0M1168.5 461.7h0M1161.3 457.4h0M1113.2 476.2h0M1207.8 471.1h0M1156.7 462.7h0M1134.5 462.1h0M1172.6 468.8h0M1177.2 475.4h0M1108.6 466.9h0M1109.1 457.3h0M1138.0 455.9h0M1162.3 475.2h0M1115.5 464.1h0M1169.7 464.9h0M1195.8 461.4h0M1121.1 475.3h0M1114.6 456.5h0M1091.5 464.6h0M1153.4 473.9h0M1119.9 456.9h0M1119.2 460.7h0M1165.2 456.2h0M1157.1 470.6h0M1081.9 473.4h0M1169.5 447.7h0M1159.7 470.6h0M1113.0 461.9h0M1127.5 477.0h0M1165.3 450.6h0M1125.0 471.9h0M1160.8 447.7h0M1181.9 476.0h0M1194.5 476.6h0M1153.1 460.6h0M1156.6 445.1h0M1044.3 477.0h0M1147.5 477.0h0M1138.9 470.2h0M1181.4 460.4h0M1161.3 459.6h0M1134.6 469.0h0M1114.3 470.2h0M1167.0 466.9h0M1161.7 469.3h0M1134.6 472.3h0M1180.4 469.7h0M1139.4 476.4h0M1135.9 470.9h0M1150.3 477.0h0M1160.2 447.5h0M1160.2 464.2h0M1120.0 463.7h0M1163.9 471.5h0M1181.1 468.3h0M1132.1 438.8h0M1126.0 456.9h0M1142.1 477.0h0M1155.7 455.6h0M1108.9 465.3h0M1131.5 461.6h0M1167.6 461.3h0M1178.1 466.4h0M1158.0 473.9h0M1116.6 456.3h0M1172.7 446.0h0M1150.3 468.2h0M1212.1 470.4h0M1164.2 476.1h0M1164.0 461.4h0M1158.8 451.1h0M1158.7 469.5h0M1119.9 475.3h0M1125.1 462.4h0M1159.2 453.7h0M1153.2 474.1h0M1169.7 457.1h0M1129.9 457.1h0M1087.9 474.5h0M1155.9 446.4h0M1170.2 476.6h0M1166.1 457.5h0M1138.1 469.2h0M1175.5 471.2h0M1152.9 465.8h0M1151.8 465.2h0M1122.0 454.9h0M1163.1 458.4h0M1113.0 458.5h0M1160.5 447.8h0M1160.4 473.2h0M1163.2 470.4h0M1159.8 462.2h0M1140.7 463.7h0M1148.8 476.0h0M1123.0 463.9h0M1154.5 472.3h0M1154.1 474.3h0M1110.1 462.3h0M1130.2 469.7h0M1159.8 477.0h0M1156.1 458.6h0M1139.5 475.3h0M1110.4 471.0h0M1163.0 466.3h0M1106.7 465.7h0M1158.8 460.0h0M1151.7 472.7h0M1159.3 464.0h0M1182.0 477.0h0M1126.8 469.6h0M1186.4 474.8h0M1169.3 452.3h0M1090.2 455.9h0M1156.0 459.1h0M1156.2 476.8h0M1126.4 471.5h0M1113.5 470.4h0M1132.8 467.4h0M1158.0 461.3h0M1113.6 466.9h0M1108.7 475.8h0M1117.7 473.8h0M1112.5 468.9h0M1170.6 466.5h0M1172.1 467.1h0M1116.1 457.6h0M1169.0 444.2h0M1166.5 466.3h0M1140.6 461.8h0M1111.4 477.0h0M1169.4 469.9h0M1121.7 474.7h0M1132.4 470.1h0M1152.5 473.2h0M1174.4 447.7h0M1122.3 471.8h0M1106.4 474.9h0M1166.8 451.7h0M1129.1 474.8h0M1113.9 476.1h0M1166.2 448.2h0M1171.3 468.2h0M1140.6 469.8h0M1117.9 459.5h0M1151.5 472.8h0M1147.9 476.6h0M1186.9 464.3h0M1185.1 458.2h0M1151.9 470.2h0M1113.1 458.9h0M1078.3 457.4h0M1133.7 462.7h0M1127.3 470.2h0M1119.7 471.4h0M1155.8 444.8h0M1214.9 465.6h0M1135.5 477.0h0M1114.6 466.3h0M1167.4 447.8h0M1143.9 476.1h0M1129.7 468.5h0M1127.2 471.8h0M1161.0 474.4h0M1146.0 477.0h0M1181.1 467.1h0M1105.7 473.4h0M1151.5 465.1h0M1170.8 464.1h0M1135.0 469.1h0M1130.8 462.0h0M1140.3 467.4h0M1129.3 464.1h0M1136.6 472.1h0M1122.5 465.7h0M1181.5 447.8h0M1167.8 471.6h0M1115.7 462.1h0M1130.2 466.2h0M1151.0 460.4h0M1155.7 468.0h0M1136.6 441.0h0M1145.4 477.0h0M1110.3 463.4h0M1107.7 468.0h0M1121.1 453.1h0M1156.1 474.4h0M1156.0 471.2h0M1126.6 460.3h0M1157.2 450.2h0M1153.8 477.0h0M1164.9 442.5h0M1185.4 462.7h0M1149.2 471.5h0M1169.3 447.2h0M1123.3 470.3h0M1155.6 460.3h0M1171.9 476.2h0M1119.7 470.3h0M1121.9 460.3h0M1150.5 468.7h0M1127.1 456.8h0M1159.2 459.2h0M1127.0 464.4h0M1160.8 477.0h0M1182.7 477.0h0M1128.7 456.2h0M1129.6 477.0h0M1127.7 472.0h0M1119.3 474.1h0M1137.0 454.2h0M1108.1 475.0h0M1151.5 476.5h0M1138.6 468.1h0M1162.5 475.4h0M1080.4 455.5h0M1137.5 472.6h0M1122.3 450.0h0M1167.0 467.6h0M1139.0 476.8h0M1162.8 474.5h0M1159.3 470.8h0M1164.4 451.3h0M1162.1 456.5h0M1126.1 477.0h0M1109.4 452.7h0M1149.3 474.4h0M1166.9 469.3h0M1111.5 448.3h0M1052.9 470.6h0M1137.9 472.6h0M1142.3 474.1h0M1118.6 450.7h0M1181.6 443.8h0M1105.8 474.1h0M1113.5 456.8h0M1070.9 466.1h0M1127.9 466.3h0M1119.4 452.9h0M1153.1 477.0h0M1117.2 449.3h0M1084.6 476.2h0M1151.5 477.0h0M1149.5 469.7h0M1137.6 459.2h0M1192.3 461.2h0M1166.6 471.6h0M1166.0 467.6h0M1166.4 465.8h0M1183.5 474.8h0M1134.1 473.5h0M1167.7 463.7h0M1176.8 449.7h0M1114.9 469.7h0M1141.5 460.0h0M1158.5 472.9h0M1177.4 457.8h0M1111.6 455.8h0M1155.1 471.6h0M1149.5 475.8h0M1128.2 472.4h0M1136.8 469.6h0M1169.3 472.7h0M1126.4 477.0h0M1158.2 477.0h0M1112.6 454.4h0M1124.1 469.6h0M1151.7 472.9h0M1117.2 468.7h0M1161.5 467.7h0M1161.0 470.3h0M1149.9 473.4h0M1133.9 475.4h0M1117.2 448.4h0M1172.6 464.9h0M1161.1 463.8h0M1124.6 453.5h0M1156.0 461.3h0M1070.8 471.1h0M1116.4 445.1h0M1128.7 471.5h0M1154.9 446.3h0M1159.7 469.6h0M1171.7 461.7h0M1179.2 470.9h0M1147.3 477.0h0M1166.0 460.4h0M1122.4 473.7h0M1144.6 472.0h0M1122.0 464.3h0M1169.9 459.6h0M1088.0 464.0h0M1080.0 473.1h0M1164.1 471.5h0M1119.7 472.2h0M1108.5 475.5h0M1172.8 468.7h0M1151.3 476.5h0M1153.0 469.7h0M1156.6 439.5h0M1121.2 467.7h0M1158.3 464.5h0M1129.9 446.2h0M1135.9 446.6h0M1144.4 473.4h0M1108.7 471.7h0M1164.4 468.9h0M1108.3 467.3h0M1119.0 454.8h0M1066.2 454.3h0M1171.9 465.2h0M1152.8 457.4h0M1129.2 466.5h0M1163.2 471.5h0M1157.2 472.4h0M1122.3 468.1h0M1133.9 476.1h0M1160.4 474.4h0M1152.4 472.1h0M1137.0 472.4h0M1125.8 451.5h0M1174.1 464.1h0M1157.7 467.8h0M1183.8 467.4h0M1128.7 473.4h0M1157.4 475.9h0M1114.7 471.5h0M1161.1 463.2h0M1205.4 475.6h0M1162.3 467.2h0M1143.0 474.4h0M1167.1 477.0h0M1108.8 477.0h0M1119.6 472.6h0M1133.0 465.7h0M1166.7 472.2h0M1124.1 462.2h0M1130.5 464.6h0M1145.1 472.5h0M1211.1 474.7h0M1142.8 460.0h0M1168.0 473.8h0M1110.2 472.5h0M1148.6 472.2h0M1107.6 477.0h0M1188.2 471.8h0M1167.0 474.6h0M1111.5 473.6h0M1050.8 468.4h0M1117.2 470.4h0M1141.6 475.1h0M1174.9 444.3h0M1138.5 470.1h0M1166.7 465.8h0M1158.4 456.5h0M1112.2 471.0h0M1125.2 468.6h0M1166.1 477.0h0M1128.4 451.8h0M1079.0 474.9h0M1156.7 462.0h0M1158.1 448.0h0M1117.8 445.5h0M1164.6 464.6h0M1162.2 470.3h0M1151.0 472.2h0M1116.2 458.7h0M1162.1 453.7h0M1115.3 466.0h0M1158.4 464.7h0M1157.3 461.1h0M1109.8 470.7h0M1183.4 471.9h0M1151.1 462.1h0M1162.0 476.4h0M1178.3 468.6h0M1107.8 476.6h0M1165.2 470.0h0M1142.6 469.6h0M1196.0 466.4h0M1154.5 446.2h0M1153.1 458.0h0M1168.5 458.0h0M1168.7 472.9h0M1128.9 449.0h0M1137.4 472.8h0M1162.6 458.6h0M1125.5 467.2h0M1164.9 456.5h0M1130.5 456.4h0M1116.7 473.0h0M1117.5 465.7h0M1089.7 470.8h0M1116.2 470.2h0M1131.5 461.3h0M1132.2 462.0h0M1099.5 464.9h0M1124.7 464.1h0M1107.5 472.8h0M1089.3 464.7h0M1158.1 462.1h0M1118.3 464.2h0M1176.5 469.0h0M1169.6 465.8h0M1107.3 471.7h0M1126.6 470.4h0M1162.9 468.3h0M1163.2 459.4h0M1122.8 467.8h0M1183.4 476.6h0M1138.4 471.4h0M1183.6 473.5h0M1150.0 473.0h0M1132.9 465.1h0M1116.3 465.8h0M1144.4 468.1h0M1131.2 467.3h0M1162.9 444.3h0M1172.5 460.6h0M1156.0 472.0h0M1129.4 473.1h0M1171.9 466.6h0M1152.4 467.1h0M1109.4 459.4h0M1152.1 466.2h0M1168.8 447.9h0M1128.4 472.5h0M1138.1 460.6h0M1113.1 465.7h0M1121.8 446.3h0M1187.1 474.7h0M1104.9 476.5h0M1108.0 469.7h0M1177.2 472.8h0M1151.7 467.9h0M1092.5 453.9h0M1129.2 463.2h0M1083.0 460.3h0M1162.5 476.8h0M1127.1 473.4h0M1167.7 454.4h0M1183.8 475.6h0M1134.8 460.1h0M1114.0 473.9h0M1126.7 462.1h0M1132.1 465.2h0M1170.7 469.7h0M1147.6 477.0h0M1155.7 460.0h0M1121.0 457.6h0M1119.6 477.0h0M1143.8 467.0h0M1152.5 472.7h0M1115.7 452.2h0M1104.6 457.3h0M1160.4 475.1h0M1172.3 462.5h0M1205.4 467.1h0M1156.6 445.9h0M1153.8 446.4h0M1129.7 471.4h0M1118.3 464.6h0M1131.4 455.4h0M1158.3 469.3h0M1158.7 469.3h0M1153.5 451.5h0M1107.7 457.9h0M1178.4 474.2h0M1164.1 472.2h0M1150.8 468.5h0M1168.1 466.0h0M1178.4 471.6h0M1124.1 464.1h0M1169.1 456.7h0M1139.7 453.5h0M1159.2 471.1h0M1114.1 475.9h0M1177.7 474.1h0M1129.0 452.9h0M1174.6 474.0h0M1174.0 460.2h0M1124.5 475.2h0M1164.0 465.0h0M1135.3 456.1h0M1151.1 470.9h0M1166.3 472.6h0M1160.7 475.7h0M1124.1 456.3h0M1172.1 439.7h0M1154.5 463.7h0M1116.3 467.0h0M1160.5 460.5h0M1119.0 468.8h0M1115.2 476.8h0M1107.3 465.2h0M1163.9 475.0h0M1096.6 453.9h0M1136.9 473.6h0M1136.6 467.6h0M1114.7 444.0h0M1158.7 464.1h0M1111.3 472.9h0M1130.0 471.5h0M1155.1 464.5h0M1173.1 457.2h0M1169.3 467.8h0M1156.6 475.1h0M1147.5 477.0h0M1165.4 468.3h0M1176.9 469.7h0M1152.1 464.4h0M1139.5 443.7h0M1130.1 471.6h0M1149.3 469.7h0M1108.1 474.6h0M1134.0 472.7h0M1173.8 454.2h0M1124.4 470.8h0M1124.1 470.7h0M1141.7 461.0h0M1154.0 462.4h0M1124.5 468.7h0M1165.6 475.2h0M1181.0 451.7h0M1141.5 458.9h0M1128.4 472.2h0M1120.4 462.7h0M1132.0 468.5h0M1162.7 471.9h0M1156.3 447.1h0M1138.7 475.7h0M1149.2 475.2h0M1148.6 473.9h0M1165.8 464.1h0M1115.5 449.3h0M1233.5 467.5h0M1147.2 477.0h0M1130.3 466.6h0M1112.0 475.7h0M1106.3 465.5h0M1158.5 468.7h0M1133.9 472.2h0M1168.4 475.9h0M1117.2 461.0h0M1165.5 474.9h0M1130.6 465.6h0M1131.0 472.4h0M1125.0 468.5h0M1176.2 467.4h0M1110.5 466.9h0M1152.9 465.3h0M1158.3 472.8h0M1145.4 477.0h0M1162.6 473.3h0M1162.6 475.0h0M1151.1 470.8h0M1115.2 472.5h0M1120.7 442.3h0M1169.7 454.7h0M1135.7 470.4h0M1129.2 458.3h0M1166.0 454.5h0M1158.3 467.0h0M1186.2 466.4h0M1168.7 447.7h0M1119.1 473.9h0M1171.3 442.1h0M1117.8 460.9h0M1183.1 458.5h0M1167.0 473.0h0M1176.2 464.7h0M1174.4 472.0h0M1195.0 477.0h0M1128.2 469.7h0M1157.2 454.5h0M1112.3 477.0h0M1176.0 473.2h0M1151.4 466.8h0M1162.6 471.1h0M1137.7 468.4h0M1167.6 449.5h0M1162.7 471.6h0M1138.8 451.4h0M1123.4 463.6h0M1144.5 477.0h0M1138.4 471.8h0M1158.9 445.5h0M1129.9 462.3h0M1165.1 477.0h0M1157.8 467.2h0M1158.9 465.3h0M1120.5 473.1h0M1194.0 448.7h0M1201.3 476.5h0M1110.7 473.4h0M1140.4 467.9h0M1161.1 461.4h0M1130.7 442.4h0M1103.5 453.9h0M1125.9 473.5h0M1135.6 462.6h0M1150.3 472.3h0M1145.0 474.6h0M1197.7 468.3h0M1162.5 475.1h0M1152.2 460.3h0M1158.1 458.6h0M1125.8 466.6h0M1121.5 472.5h0M1129.7 476.6h0M1097.1 477.0h0M1157.3 466.3h0M1165.3 465.6h0M1128.8 474.8h0M1153.5 471.8h0M1169.8 462.1h0M1136.9 468.2h0M1184.1 467.8h0M1139.1 473.7h0M1172.4 475.5h0M1162.8 474.5h0M1122.5 446.5h0M1157.1 461.2h0M1151.2 471.7h0M1165.2 473.8h0M1155.5 471.2h0M1159.4 457.4h0M1155.7 462.1h0M1154.0 469.1h0M1180.8 473.1h0M1128.4 459.2h0M1121.8 464.0h0M1124.6 467.4h0M1122.7 460.5h0M1116.9 474.0h0M1156.7 475.5h0M1123.2 445.6h0M1108.4 466.8h0M1107.4 450.4h0M1157.3 462.7h0M1136.5 459.0h0M1132.5 462.9h0M1190.1 468.1h0M1174.7 467.7h0M1153.1 468.8h0M1130.4 477.0h0M1189.0 460.5h0M1110.4 470.7h0M1155.1 469.1h0M1161.0 462.7h0M1172.3 471.7h0M1127.5 471.5h0M1139.5 448.2h0M1136.1 459.7h0M1151.6 461.1h0M1125.6 468.5h0M1132.4 470.0h0M1172.1 474.6h0M1155.0 458.9h0M1108.6 461.8h0M1131.0 464.7h0M1171.1 474.5h0M1114.4 473.3h0M1131.7 472.3h0M1132.3 464.3h0M1108.4 468.8h0M1153.2 451.1h0M1148.0 477.0h0M1149.9 470.8h0M1174.8 462.3h0M1117.3 475.5h0M1102.1 461.4h0M1154.1 449.4h0M1118.9 473.7h0M1183.5 450.0h0M1171.1 473.5h0M1109.6 468.2h0M1106.4 468.1h0M1154.0 467.0h0M1142.6 469.1h0M1163.8 464.5h0M1177.5 469.0h0M1145.6 472.4h0M1116.7 476.2h0M1142.0 477.0h0M1108.3 451.4h0M1123.7 474.5h0M1151.1 472.1h0M1087.0 472.9h0M1160.7 450.7h0M1171.6 474.1h0M1164.7 469.1h0M1143.0 470.7h0M1136.7 464.8h0M1163.2 468.5h0M1109.8 466.8h0M1137.3 474.1h0M1202.3 459.3h0M1167.2 452.7h0M1139.2 473.9h0M1116.5 470.7h0M1177.0 472.6h0M1110.5 467.6h0M1137.1 472.4h0M1174.2 474.2h0M1134.6 450.9h0M1165.8 468.5h0M1110.8 466.5h0M1131.6 475.5h0M1141.1 471.0h0M1159.3 477.0h0M1158.1 466.7h0M1110.1 475.5h0M1124.9 475.6h0M1155.5 460.1h0M1151.5 472.4h0M1112.8 461.6h0M1124.9 471.3h0M1122.1 449.4h0M1136.5 463.6h0M1176.8 467.6h0M1168.5 447.7h0M1151.1 463.9h0M1159.4 475.2h0M1133.3 465.7h0M1106.9 471.0h0M1162.6 456.0h0M1166.7 469.7h0M1163.8 476.4h0M1130.2 452.0h0M1177.4 468.5h0M1110.9 446.6h0M1165.1 474.3h0M1154.2 457.5h0M1117.9 466.4h0M1117.6 457.6h0M1169.8 454.9h0M1148.6 474.1h0M1174.2 471.6h0M1133.2 441.9h0M1156.8 450.4h0M1179.0 460.9h0M1111.6 463.2h0M1125.7 474.4h0M1155.4 471.6h0M1154.6 469.3h0M1137.5 467.7h0M1128.1 451.5h0M1143.3 464.0h0M1180.3 472.0h0M1135.4 474.4h0M1151.3 471.5h0M1149.1 470.1h0M1149.5 470.1h0M1168.9 477.0h0M1122.8 456.5h0M1148.9 471.7h0M1159.1 448.9h0M1078.0 468.3h0M1149.4 472.2h0M1176.8 472.0h0M1151.7 473.7h0M1194.4 476.5h0M1141.3 475.7h0M1096.1 465.9h0M1130.7 452.8h0M1130.0 473.3h0M1113.0 477.0h0M1153.9 471.6h0M1119.6 465.5h0M1157.9 462.3h0M1173.2 471.1h0M1154.6 464.3h0M1173.1 464.6h0M1121.9 458.7h0M1140.2 460.4h0M1116.5 464.1h0M1153.1 473.9h0M1124.3 450.2h0M1129.2 475.6h0M1181.6 461.4h0M1185.9 471.2h0M1140.7 477.0h0M1116.0 470.6h0M1133.9 467.0h0M1174.9 477.0h0M1168.0 457.3h0M1136.5 454.6h0M1168.8 451.3h0M1153.2 475.7h0M1191.7 466.9h0M1171.3 466.4h0M1156.9 474.7h0M1168.8 459.8h0M1109.6 475.7h0M1111.1 453.6h0M1161.8 472.9h0M1128.9 457.9h0M1142.2 473.2h0M1178.4 473.1h0M1154.6 477.0h0M1121.8 457.6h0M1171.4 468.4h0M1167.7 467.5h0M1205.1 469.6h0M1124.1 466.2h0M1191.8 471.3h0M1122.2 463.1h0M1165.3 464.5h0M1156.9 461.6h0M1164.6 455.0h0M1127.9 476.0h0M1113.9 470.5h0M1123.1 468.9h0M1116.4 469.7h0M1153.2 467.0h0M1157.3 466.4h0M1135.9 460.1h0M1168.2 444.7h0M1126.5 477.0h0M1127.7 447.7h0M1143.6 462.7h0M1131.4 473.6h0M1103.1 462.7h0M1134.2 450.6h0M1136.8 474.5h0M1150.4 477.0h0M1129.7 472.2h0M1149.9 471.6h0M1157.9 458.8h0M1131.9 474.9h0M1114.2 445.6h0M1157.6 472.8h0M1182.5 457.1h0M1128.4 459.9h0M1176.9 445.7h0M1163.8 475.1h0M1159.3 469.5h0M1116.2 470.8h0M1121.1 465.8h0M1202.1 477.0h0M1164.0 471.4h0M1113.4 474.6h0M1113.8 468.7h0M1130.7 474.7h0M1123.2 469.7h0M1168.0 464.9h0M1150.3 477.0h0M1168.9 438.5h0M1155.3 461.2h0M1152.2 469.8h0M1128.8 441.5h0M1175.1 451.3h0M1153.6 469.1h0M1163.3 462.3h0M1118.6 476.4h0M1154.1 467.9h0M1123.6 465.5h0M1156.7 470.7h0M1130.6 476.8h0M1125.6 448.1h0M1172.0 470.3h0M1152.5 475.2h0M1150.0 476.6h0M1144.0 468.7h0M1119.3 462.0h0M1160.2 466.3h0M1148.3 477.0h0M1168.9 463.5h0M1135.5 474.4h0M1154.0 466.9h0M1111.2 467.7h0M1159.3 469.7h0M1154.2 447.2h0M1159.4 474.3h0M1143.8 467.5h0M1133.9 453.6h0M1185.1 448.1h0M1175.5 470.8h0M1153.3 459.3h0M1178.6 453.3h0M1152.4 477.0h0M1166.1 473.7h0M1163.2 454.2h0M1133.2 473.2h0M1166.8 473.7h0M1167.4 449.8h0M1117.8 475.6h0M1126.5 475.5h0M1154.5 462.2h0M1179.8 459.4h0M1150.7 474.0h0M1136.0 451.7h0M1123.1 467.9h0M1161.8 447.8h0M1112.5 459.8h0M1122.4 473.9h0M1130.4 462.2h0M1171.5 470.7h0M1109.6 458.8h0M1109.5 474.9h0M1171.7 464.9h0M1166.4 467.4h0M1124.4 445.2h0M1125.0 473.9h0M1123.1 466.7h0M1174.7 473.2h0M1109.5 467.5h0M1116.8 454.3h0M1160.4 460.2h0M1123.1 470.1h0M1180.5 456.5h0M1171.5 465.3h0M1151.2 458.7h0M1097.5 477.0h0M1132.0 459.1h0M1164.0 461.4h0M1163.9 444.2h0M1154.1 465.6h0M1166.7 473.9h0M1140.3 466.0h0M1166.2 462.4h0M1112.4 465.5h0M1126.8 474.3h0M1119.6 466.4h0M1155.8 464.0h0M1130.1 460.3h0M1127.4 465.7h0M1110.1 472.8h0M1117.9 470.3h0M1178.1 466.9h0M1107.8 460.8h0M1125.2 469.0h0M1143.1 473.1h0M1147.8 477.0h0M1147.7 476.1h0M1161.7 470.8h0M1154.8 459.2h0M1109.5 465.0h0M1177.8 439.4h0M1107.3 473.1h0M1113.3 474.1h0M1128.7 454.2h0M1167.6 470.4h0M1159.1 457.3h0M1171.5 472.3h0M1166.1 459.1h0M1170.4 476.4h0M1169.5 472.1h0M1167.8 475.8h0M1163.3 464.4h0M1147.6 477.0h0M1123.4 470.0h0M1123.9 460.8h0M1166.5 473.0h0M1150.9 473.5h0M1217.1 466.9h0M1129.5 461.1h0M1112.2 458.2h0M1167.2 471.6h0M1133.1 443.3h0M1175.1 475.7h0M1115.3 457.6h0M1113.6 474.5h0M1134.3 472.6h0M1137.9 472.4h0M1173.7 465.6h0M1126.4 471.6h0M1121.3 472.1h0M1169.2 472.3h0M1169.2 459.5h0M1160.8 451.5h0M1194.0 475.6h0M1122.1 476.3h0M1143.8 474.9h0M1163.4 446.5h0M1140.0 445.1h0M1118.6 462.1h0M1121.8 465.9h0M1137.6 460.0h0M1170.0 470.1h0M1116.4 463.2h0M1157.0 475.4h0M1112.9 475.4h0M1159.3 475.9h0M1159.1 476.6h0M1127.7 440.6h0M1109.0 453.5h0M1149.2 469.6h0M1133.8 469.3h0M1121.1 466.3h0M1173.1 460.2h0M1131.0 474.6h0M1118.7 470.9h0M1134.9 457.1h0M1176.3 457.7h0M1216.7 454.4h0M1135.3 451.3h0M1130.7 471.7h0M1130.5 457.0h0M1126.9 464.4h0M1172.6 464.0h0M1119.1 472.4h0M1143.7 471.9h0M1171.0 459.7h0M1123.9 466.4h0M1140.6 473.5h0M1186.8 465.3h0M1119.8 447.3h0M1105.6 476.4h0M1134.1 451.8h0M1165.3 473.5h0M1152.6 473.6h0M1126.4 468.4h0M1123.4 468.0h0M1129.7 477.0h0M1135.5 458.7h0M1129.0 474.1h0M1168.2 468.9h0M1156.7 470.3h0M1171.1 477.0h0M1138.8 454.7h0M1152.6 477.0h0M1116.6 467.6h0M1114.4 461.3h0M1139.9 450.2h0M1162.1 454.8h0M1128.4 473.3h0M1163.9 471.8h0M1168.2 465.5h0M1130.5 444.5h0M1167.7 472.7h0M1169.1 458.7h0M1162.3 450.2h0M1151.5 463.1h0M1134.1 456.6h0M1181.0 462.9h0M1101.6 474.5h0M1135.2 470.0h0M1147.3 477.0h0M1113.8 474.4h0M1094.7 465.9h0M1140.0 445.2h0M1125.7 460.2h0M1125.1 447.1h0M1128.5 460.2h0M1156.1 477.0h0M1128.6 462.4h0M1143.6 462.3h0M1173.7 477.0h0M1120.3 468.0h0M1170.4 457.7h0M1141.4 476.9h0M1161.9 464.3h0M1159.0 471.8h0M1172.3 475.3h0M1160.1 473.9h0M1172.2 473.9h0M1118.9 458.6h0M1150.3 467.6h0M1162.0 458.9h0M1134.8 465.4h0M1242.3 472.3h0M1128.4 477.0h0M1149.8 465.8h0M1154.8 457.2h0M1113.3 460.8h0M1135.0 440.5h0M1130.4 472.7h0M1119.4 456.9h0M1144.2 474.4h0M1174.8 456.6h0M1187.2 465.9h0M1126.1 467.7h0M1128.8 458.3h0M1160.9 472.8h0M1121.4 464.0h0M1132.6 456.6h0M1172.6 460.6h0M1130.7 447.3h0M1190.7 470.2h0M1150.1 472.3h0M1151.7 473.5h0M1188.2 455.4h0M1137.5 461.3h0M1175.7 476.3h0M1118.8 477.0h0M1159.9 474.9h0M1139.9 455.2h0M1136.4 445.0h0M1108.4 461.4h0M1187.3 460.5h0M1160.1 464.0h0M1175.3 455.2h0M1122.1 461.9h0M1128.1 465.4h0M1167.7 469.5h0M1132.0 472.1h0M1133.1 458.1h0M1135.7 474.7h0M1163.1 468.7h0M1138.5 471.2h0M1154.1 458.7h0M1168.2 470.9h0M1161.7 458.9h0M1123.4 472.7h0M1174.2 459.3h0M1113.2 471.0h0M1141.4 466.8h0M1164.7 447.5h0M1114.2 453.5h0M1176.3 470.6h0M1128.5 466.9h0M1118.0 446.4h0M1183.6 462.7h0M1124.8 466.2h0M1140.1 463.1h0M1133.0 440.2h0M1136.6 477.0h0M1155.2 473.6h0M1113.0 468.7h0M1123.9 477.0h0M1121.3 448.4h0M1169.0 476.7h0M1180.9 467.6h0M1152.8 475.3h0M1134.9 462.9h0M1178.6 468.5h0M1140.5 472.1h0M1128.7 476.6h0M1121.4 464.1h0M1121.5 468.8h0M1115.8 465.0h0M1179.9 477.0h0M1172.6 451.9h0M1073.4 461.7h0M1150.3 475.8h0M1102.1 475.7h0M1126.8 477.0h0M1109.2 468.3h0M1171.3 458.3h0M1149.8 471.7h0M1169.4 452.6h0M1108.1 460.7h0M1120.9 465.1h0M1124.8 473.3h0M1186.2 450.1h0M1147.6 477.0h0M1150.6 475.7h0M1186.1 462.7h0M1158.2 452.6h0M1152.8 462.6h0M1178.1 467.7h0M1122.0 473.4h0M1129.3 459.8h0M1138.3 471.7h0M1176.1 472.9h0M1150.4 469.7h0M1120.5 463.7h0M1139.1 474.2h0M1131.5 458.2h0M1170.1 464.2h0M1164.2 471.7h0M1171.8 450.5h0M1155.9 466.6h0M1123.4 449.7h0M1122.4 474.7h0M1144.3 468.0h0M1168.8 470.1h0M1172.0 460.6h0M1173.7 458.3h0M1107.5 463.9h0M1149.9 468.3h0M1173.7 443.0h0M1170.7 467.1h0M1111.5 465.1h0M1133.9 467.5h0M1171.0 466.3h0M1122.6 473.9h0M1171.1 472.7h0M1186.5 468.1h0M1154.2 470.5h0M1156.0 448.0h0M1166.8 475.4h0M1165.3 472.7h0M1147.7 476.9h0M1127.3 464.4h0M1105.6 472.3h0M1122.5 445.7h0M1133.6 475.8h0M1164.4 473.8h0M1111.9 448.6h0M1106.4 477.0h0M1125.0 456.5h0M1173.9 471.5h0M1167.0 474.1h0M1175.8 462.5h0M1169.7 457.0h0M1163.8 464.5h0M1176.8 477.0h0M1132.8 466.3h0M1056.4 468.9h0M1172.7 476.2h0M1130.2 449.0h0M1145.9 473.5h0M1186.1 466.7h0M1175.9 467.4h0M1112.3 460.1h0M1117.7 462.2h0M1156.0 445.5h0M1163.3 451.1h0M1121.5 449.1h0M1131.3 468.8h0M1119.4 468.0h0M1151.8 470.1h0M1148.9 473.0h0M1152.9 470.0h0M1114.8 475.6h0M1130.7 466.2h0M1175.9 464.4h0M1149.6 470.3h0M1107.4 456.1h0M1079.9 455.5h0M1188.3 465.7h0M1160.0 465.8h0M1168.9 444.0h0M1149.4 473.0h0M1108.9 460.7h0M1107.3 454.5h0M1154.1 458.5h0M1129.3 443.9h0M1176.7 468.3h0M1140.4 477.0h0M1163.7 448.7h0M1129.3 474.3h0M1156.3 440.2h0M1160.9 461.1h0M1165.4 459.2h0M1154.3 470.5h0M1171.4 476.4h0M1173.3 475.0h0M1122.8 462.1h0M1174.3 451.1h0M1136.8 463.0h0M1135.6 474.4h0M1160.0 468.0h0M1113.1 469.5h0M1134.5 447.7h0M1117.9 468.7h0M1161.5 459.8h0M1125.1 464.4h0M1182.2 471.9h0M1107.8 449.4h0M1158.6 471.2h0M1115.6 472.6h0M1159.1 462.5h0M1164.0 465.6h0M1159.3 468.6h0M1181.3 471.6h0M1149.5 469.0h0M1124.1 463.7h0M1120.9 450.8h0M1167.5 471.8h0M1170.1 446.3h0M1116.6 463.1h0M1136.7 472.8h0M1178.6 463.7h0M1145.0 471.5h0M1131.3 446.0h0M1096.7 452.4h0M1122.4 438.2h0M1169.6 468.6h0M1172.3 471.7h0M1153.0 455.6h0M1163.7 463.3h0M1151.2 475.8h0M1164.3 465.6h0M1155.5 471.3h0M1108.8 473.3h0M1106.8 464.7h0M1118.7 467.9h0M1157.0 477.0h0M1157.6 460.1h0M1180.9 469.3h0M1177.3 463.5h0M1155.8 465.4h0M1123.3 454.0h0M1141.4 464.9h0M1173.7 454.2h0M1119.7 446.1h0M1119.8 468.4h0M1151.4 470.9h0M1116.6 463.1h0M1137.7 467.8h0M1082.5 466.0h0M1133.6 442.0h0M1103.6 458.7h0M1127.6 462.0h0M1056.3 477.0h0M1155.0 453.3h0M1172.3 477.0h0M1175.8 470.5h0M1170.8 461.9h0M1137.1 457.8h0M1130.6 465.2h0M1151.5 475.9h0M1140.2 465.6h0M1113.1 466.6h0M1125.8 455.7h0M1165.8 473.4h0M1115.2 463.8h0M1106.4 477.0h0M1119.2 466.0h0M1160.7 438.3h0M1120.1 476.6h0M1155.9 464.0h0M1121.3 472.5h0M1120.3 462.8h0M1137.3 466.1h0M1122.9 452.1h0M1160.0 444.8h0M1141.3 470.0h0M1152.1 463.6h0M1132.5 447.0h0M1126.7 464.0h0M1135.3 473.8h0M1161.4 455.1h0M1139.0 467.6h0M1116.8 469.2h0M1113.1 474.1h0M1135.6 477.0h0M1151.7 473.2h0M1164.7 473.1h0M1119.9 464.6h0M1178.7 463.2h0M1121.9 452.6h0M1155.5 450.4h0M1125.0 468.1h0M1170.9 474.5h0M1119.2 458.6h0M1117.2 468.9h0M1119.7 472.2h0M1130.5 476.9h0M1174.2 474.0h0M1162.0 476.5h0M1110.5 469.7h0M1158.3 459.9h0M1152.5 469.1h0M1105.4 458.2h0M1132.9 450.3h0M1122.8 470.8h0M1183.8 448.5h0M1147.8 477.0h0M1163.7 476.5h0M1110.2 447.7h0M1106.2 473.9h0M1152.5 461.2h0M1111.3 446.5h0M1117.4 454.7h0M1164.5 441.1h0M1158.5 448.5h0M1164.6 474.3h0M1136.0 470.7h0M1138.5 470.7h0M1140.7 460.2h0M1164.3 440.0h0M1170.5 458.6h0M1181.9 473.0h0M1153.7 476.3h0M1085.2 473.2h0M1151.8 464.6h0M1174.6 464.4h0M1167.6 455.8h0M1116.1 476.5h0M1106.9 476.4h0M1118.4 461.9h0M1157.1 448.6h0M1131.1 467.1h0M1133.8 475.8h0M1161.8 462.4h0M1165.6 465.0h0M1067.4 468.7h0M1165.6 459.8h0M1138.8 469.6h0M1130.8 472.2h0M1143.5 470.9h0M1111.2 461.6h0M1168.3 454.1h0M1142.3 464.1h0M1134.8 455.8h0M1153.4 475.3h0M1154.8 468.9h0M1153.2 453.1h0M1151.2 464.2h0M1121.4 454.6h0M1120.4 460.1h0M1171.9 467.6h0M1092.7 470.5h0M1131.0 477.0h0M1171.9 452.2h0M1124.5 454.0h0M1118.4 467.2h0M1126.7 473.8h0M1126.1 473.4h0M1163.8 458.6h0M1115.2 445.7h0M1167.6 470.2h0M1155.3 466.7h0M1113.9 477.0h0M1156.5 471.3h0M1160.3 472.4h0M1140.9 468.9h0M1156.4 467.5h0M1160.4 473.9h0M1127.9 461.8h0M1154.3 468.8h0M1175.5 467.2h0M1107.3 465.2h0M1090.6 469.3h0M1132.4 439.5h0M1156.9 454.8h0M1094.8 461.1h0M1101.6 449.5h0M1118.6 477.0h0M1119.8 467.9h0M1162.4 469.3h0M1182.6 467.0h0M1183.1 447.3h0M1132.8 466.8h0M1112.0 470.8h0M1137.6 464.7h0M1170.0 469.1h0M1173.9 466.4h0M1117.1 454.9h0M1130.3 476.9h0M1159.0 469.5h0M1121.0 473.3h0M1129.9 464.4h0M1227.9 459.1h0M1166.1 473.9h0M1180.4 463.3h0M1173.0 463.9h0M1111.9 460.2h0M1135.4 457.8h0M1163.0 469.2h0M1183.5 462.5h0M1133.6 452.4h0M1177.3 468.8h0M1172.5 471.3h0M1128.8 463.4h0M1166.5 473.6h0M1147.6 477.0h0M1175.3 467.3h0M1160.2 477.0h0M1178.5 467.2h0M1126.6 468.6h0M1175.4 470.6h0M1187.1 465.3h0M1128.3 454.9h0M1174.9 477.0h0M1122.0 469.3h0M1129.4 469.1h0M1194.2 464.7h0M1117.5 474.9h0M1111.6 454.6h0M1156.4 460.3h0M1123.3 465.1h0M1109.6 454.6h0M1177.8 469.8h0M1158.8 463.6h0M1149.9 474.6h0M1093.1 459.1h0M1175.5 463.3h0M1116.5 468.3h0M1125.0 451.1h0M1153.9 473.2h0M1170.5 473.7h0M1152.0 466.1h0M1131.5 467.8h0M1116.0 448.1h0M1151.5 473.6h0M1151.9 464.5h0M1171.6 468.7h0M1168.1 472.7h0M1151.2 469.8h0M1171.6 462.5h0M1100.4 468.6h0M1164.4 452.5h0M1180.6 476.9h0M1136.1 473.9h0M1167.2 445.8h0M1148.0 474.9h0M1113.6 457.1h0M1149.4 469.9h0M1177.2 471.0h0M1178.2 475.8h0M1136.5 466.6h0M1122.1 470.0h0M1160.9 459.2h0M1124.8 458.8h0M1167.1 471.8h0M1173.3 470.1h0M1105.9 460.6h0M1176.5 475.8h0M1174.5 475.1h0M1155.3 457.1h0M1168.3 451.8h0M1154.9 473.0h0M1126.9 467.9h0M1111.2 467.7h0M1149.9 476.2h0M1174.3 475.0h0M1115.2 455.0h0M1124.0 467.2h0M1127.1 472.8h0M1169.5 468.3h0M1164.2 465.7h0M1138.8 438.9h0M1167.6 441.9h0M1129.8 470.9h0M1079.9 462.1h0M1106.4 474.5h0M1159.9 471.6h0M1135.5 467.8h0M1157.0 477.0h0M1172.2 453.1h0M1162.2 442.6h0M1165.0 453.0h0M1163.1 474.7h0M1171.4 462.4h0M1112.5 468.9h0M1136.6 467.9h0M1127.5 462.4h0M1138.0 460.6h0M1177.1 473.6h0M1125.1 465.1h0M1121.2 475.0h0M1108.9 467.7h0M1145.9 475.4h0M1116.6 475.3h0M1152.0 474.8h0M1139.0 477.0h0M1148.7 475.5h0M1104.7 473.8h0M1154.8 443.7h0M1097.6 477.0h0M1170.4 477.0h0M1164.5 462.4h0M1160.2 469.4h0M1163.1 468.2h0M1154.0 455.2h0M1221.3 465.5h0M1134.5 458.6h0M1108.3 476.0h0M1158.5 473.7h0M1116.6 459.4h0M1172.5 472.4h0M1143.8 477.0h0M1174.3 475.9h0M1099.8 477.0h0M1125.2 472.2h0M1135.8 452.5h0M1168.9 465.1h0M1130.4 461.3h0M1126.5 455.6h0M1109.6 459.7h0M1126.6 474.6h0M1170.9 461.1h0M1125.4 451.6h0M1164.3 463.9h0M1155.6 466.1h0M1169.9 469.5h0M1152.8 463.8h0M1174.0 467.0h0M1127.9 444.3h0M1159.6 441.8h0M1118.7 467.0h0M1135.4 443.8h0M1102.3 461.7h0M1165.6 469.2h0M1167.6 447.8h0M1168.0 473.7h0M1127.6 464.9h0M1155.0 472.4h0M1157.3 474.1h0M1107.3 476.0h0M1190.8 457.6h0M1139.9 475.5h0M1162.2 470.7h0M1129.6 465.5h0M1141.9 477.0h0M1181.6 475.6h0M1175.4 467.6h0M1129.2 477.0h0M1177.8 448.3h0M1124.8 474.0h0M1133.1 447.1h0M1089.2 459.6h0M1121.8 452.1h0M1154.7 457.2h0M1113.3 474.7h0M1153.2 451.5h0M1117.1 476.7h0M1107.8 471.1h0M1112.5 457.7h0M1128.0 474.1h0M1122.8 456.8h0M1180.0 473.2h0M1121.9 473.9h0M1179.0 465.5h0M1176.0 460.2h0M1150.1 470.4h0M1162.2 469.2h0M1116.9 473.0h0M1199.7 476.0h0M1124.7 460.3h0M1123.8 470.0h0M1119.0 457.7h0M1162.2 460.4h0M1154.8 466.3h0M1128.0 456.5h0M1158.1 470.3h0M1152.8 452.2h0M1179.4 453.7h0M1239.0 467.4h0M1127.9 476.9h0M1211.2 448.9h0M1120.7 459.5h0M1121.4 467.0h0M1156.6 468.2h0M1109.7 451.5h0M1111.7 460.5h0M1119.9 463.6h0M1150.5 472.5h0M1158.3 475.5h0M1148.7 474.8h0M1129.5 476.9h0M1136.1 469.9h0M1156.0 459.4h0M1134.0 452.9h0M1133.1 471.7h0M1153.4 467.2h0M1137.7 456.1h0M1202.4 465.8h0M1145.0 476.6h0M1155.5 467.5h0M1115.4 447.3h0M1170.1 462.0h0M1110.9 455.3h0M1120.3 472.5h0M1121.9 454.2h0M1131.3 444.4h0M1131.0 467.5h0M1142.1 468.4h0M1130.9 461.9h0M1074.9 463.5h0M1092.2 474.9h0M1164.7 455.6h0M1127.8 457.2h0M1154.5 473.3h0M1115.3 473.0h0M1158.8 474.9h0M1158.7 460.1h0M1118.9 465.6h0M1105.2 456.7h0M1126.2 468.3h0M1178.5 468.3h0M1153.2 455.1h0M1131.9 461.0h0M1124.9 462.4h0M1148.1 475.5h0M1151.7 469.2h0M1157.5 468.5h0M1166.7 439.7h0M1141.5 465.9h0M1183.2 472.0h0M1174.6 469.7h0M1106.9 477.0h0M1159.4 465.0h0M1152.8 466.5h0M1157.6 469.3h0M1122.7 452.4h0M1140.0 467.9h0M1132.2 461.1h0M1170.2 464.0h0M1114.9 468.7h0M1119.0 458.6h0M1158.3 474.0h0M1152.8 468.7h0M1115.8 460.8h0M1126.4 464.6h0M1128.6 455.5h0M1158.4 469.2h0M1143.5 467.5h0M1151.2 470.0h0M1166.5 463.1h0M1129.6 450.0h0M1153.1 474.3h0M1125.6 463.0h0M1109.0 471.5h0M1161.4 476.9h0M1148.4 473.1h0M1165.6 460.5h0M1116.4 449.2h0M1130.4 471.7h0M1164.3 466.5h0M1132.6 471.0h0M1158.7 469.6h0M1159.5 466.8h0M1151.8 473.2h0M1100.1 470.1h0M1116.6 474.3h0M1153.6 472.8h0M1122.5 474.4h0M1101.4 463.1h0M1151.3 477.0h0M1139.5 466.4h0M1116.1 469.5h0M1128.4 440.0h0M1106.0 462.7h0M1153.5 468.9h0M1123.4 460.5h0M1151.4 477.0h0M1138.2 457.8h0M1111.2 456.2h0M1154.3 456.1h0M1133.6 463.1h0M1127.0 474.4h0M1121.6 468.5h0M1131.6 463.8h0M1153.2 476.7h0M1151.4 459.7h0M1174.3 454.9h0M1154.4 466.7h0M1131.2 452.1h0M1117.2 464.3h0M1174.0 476.3h0M1109.1 476.4h0M1154.3 470.2h0M1129.3 463.7h0M1153.6 471.1h0M1162.0 444.4h0M1180.3 464.9h0M1182.4 468.0h0M1163.5 449.1h0M1158.0 458.0h0M1132.3 469.8h0M1155.5 474.1h0M1166.5 470.5h0M1126.0 452.6h0M1118.8 449.7h0M1159.6 444.7h0M1107.3 466.0h0M1149.5 474.8h0M1156.3 476.7h0M1175.3 473.8h0M1122.1 474.4h0M1159.2 477.0h0M1165.0 460.0h0M1118.8 460.6h0M1118.9 473.6h0M1147.8 477.0h0M1124.6 472.3h0M1152.0 475.7h0M1158.3 462.0h0M1108.8 471.6h0M1139.6 466.8h0M1171.3 462.9h0M1117.1 461.8h0M1164.7 460.0h0M1127.4 477.0h0M1151.5 476.0h0M1074.5 466.7h0M1124.0 470.6h0M1160.9 469.3h0M1121.0 471.5h0M1080.2 467.1h0M1143.3 469.0h0M1161.6 470.6h0M1142.3 472.1h0M1147.4 477.0h0M1134.2 444.2h0M1099.2 473.8h0M1154.3 469.4h0M1140.3 460.5h0M1126.7 465.3h0M1127.4 468.8h0M1118.7 469.7h0M1137.5 469.0h0M1166.5 457.2h0M1142.3 464.9h0M1104.0 470.0h0M1136.3 465.8h0M1118.6 462.4h0M1136.8 466.6h0M1164.8 476.3h0M1154.5 461.1h0M1172.4 474.9h0M1104.9 464.8h0M1163.9 460.7h0M1124.5 452.7h0M1149.2 471.7h0M1162.5 474.7h0M1153.8 450.8h0M1137.2 472.7h0M1171.6 476.4h0M1151.4 461.8h0M1185.2 457.4h0M1114.1 446.0h0M1177.0 456.2h0M1145.3 470.3h0M1127.4 462.1h0M1148.0 477.0h0M1170.9 474.5h0M1181.7 454.1h0M1111.4 468.3h0M1129.3 470.8h0M1163.7 462.7h0M1124.2 442.9h0M1165.1 455.8h0M1181.0 470.8h0M1132.2 472.2h0M1162.1 472.0h0M1163.8 473.3h0M1119.7 467.7h0M1126.9 440.2h0M1179.9 456.0h0M1081.1 474.5h0M1109.7 465.9h0M1061.7 472.9h0M1149.2 472.9h0M1129.0 471.6h0M1171.8 458.1h0M1159.9 473.1h0M1161.7 465.0h0M1120.3 471.4h0M1119.3 468.2h0M1178.3 472.3h0M1161.7 462.1h0M1131.3 448.2h0M1150.4 476.7h0M1110.0 449.5h0M1136.8 456.5h0M1125.8 471.3h0M1152.0 475.5h0M1115.1 462.6h0M1197.1 464.9h0M1140.7 455.5h0M1158.9 470.5h0M1156.6 475.0h0M1180.4 467.9h0M1172.4 471.1h0M1116.1 457.5h0M1123.0 476.3h0M1114.8 470.9h0M1159.0 472.9h0M1131.9 474.9h0M1164.6 464.7h0M1175.8 458.2h0M1118.6 468.3h0M1174.7 471.9h0M1133.2 471.5h0M1119.1 465.6h0M1161.5 457.5h0M1175.5 473.0h0M1119.0 461.7h0M1170.5 469.1h0M1129.3 454.3h0M1135.1 455.8h0M1164.3 473.2h0M1113.3 476.0h0M1168.9 465.5h0M1156.3 472.9h0M1130.0 473.0h0M1161.5 465.4h0M1150.8 476.4h0M1122.3 472.5h0M1115.9 449.8h0M1138.7 473.4h0M1156.8 458.0h0M1140.6 457.2h0M1118.3 474.7h0M1123.8 472.5h0M1142.8 472.9h0M1175.7 472.7h0M1164.7 463.5h0M1154.5 472.0h0M1122.2 467.7h0M1168.5 470.6h0M1161.2 458.9h0M1166.8 471.6h0M1132.0 451.7h0M1160.0 466.5h0M1122.9 477.0h0M1111.0 471.4h0M1111.9 470.2h0M1124.9 470.1h0M1192.2 477.0h0M1161.5 461.5h0M1141.6 471.9h0M1168.5 468.2h0M1155.9 462.0h0M1149.1 475.9h0M1112.7 453.9h0M1124.1 469.1h0M1166.0 471.5h0M1014.8 282.4h0M1046.5 279.9h0M1026.3 338.3h0M1055.2 343.3h0M1032.5 347.2h0M1041.8 354.8h0M1007.2 361.5h0M1030.0 364.1h0M1109.1 353.8h0M969.4 379.5h0M1171.4 378.7h0M1033.7 391.7h0M999.3 400.6h0M999.3 406.2h0M1023.6 404.5h0M1110.8 395.5h0M1111.3 401.1h0M1042.3 408.2h0M1029.1 412.0h0M1037.6 413.2h0M1069.9 409.0h0M1044.0 417.1h0M1049.3 415.4h0M1051.9 420.8h0M1088.1 418.8h0M1184.0 408.2h0M1184.9 423.8h0M1083.4 425.5h0M1019.5 430.4h0M1062.0 429.7h0M989.9 437.6h0M1006.9 438.1h0M1010.3 446.4h0M1034.2 442.7h0M1021.6 450.6h0M1029.5 449.4h0M1023.7 457.5h0M1075.4 432.6h0M1072.1 436.0h0M1074.6 443.2h0M1043.5 446.6h0M1039.6 449.1h0M1052.2 445.2h0M1047.2 453.3h0M1041.8 456.7h0M1054.4 455.0h0M1055.2 458.7h0M1062.5 458.7h0M1036.4 462.9h0M1038.7 467.1h0M1042.3 461.7h0M1049.3 462.1h0M1051.0 467.4h0M1062.5 449.4h0M1067.9 451.1h0M1071.2 450.3h0M1225.6 440.7h0M1251.4 439.7h0M1215.2 448.2h0M1221.9 449.8h0M1229.2 449.8h0M1236.2 457.0h0M1249.2 449.4h0M1249.7 451.6h0M1258.1 455.3h0M1255.6 458.7h0M1275.8 449.4h0M1273.3 452.8h0M1286.8 447.4h0M1269.9 466.8h0M1192.0 440.2h0M1183.2 436.0h0M1157.4 431.7h0M1157.4 434.8h0M1135.2 437.3h0M1120.1 430.1h0M1123.4 434.3h0M1121.7 437.6h0M1109.6 428.9h0M1104.9 431.7h0M1107.4 436.0h0M1099.0 439.8h0M1094.5 439.8h0M1089.8 436.0h0M1088.9 438.5h0M1171.4 437.6h0M1175.6 440.2h0M1179.0 441.8h0M1199.2 446.9h0M1197.5 449.4h0M1205.9 460.0h0M1210.1 462.1h0M1212.7 467.1h0M1216.0 465.4h0M1219.4 462.9h0M1227.8 457.0h0M1229.5 462.1h0M1232.9 466.3h0M1227.0 471.3h0M1210.1 471.8h0" stroke="#000" stroke-width="4.1" stroke-linecap="round" fill="none"/>
<line x1="885.0" y1="126.0" x2="885.0" y2="480.0" stroke="#000" stroke-width="3.5" />
<line x1="883.3" y1="478.5" x2="1410.9" y2="478.5" stroke="#000" stroke-width="3.5" />
<line x1="871.0" y1="478.5" x2="885.0" y2="478.5" stroke="#000" stroke-width="3.2" />
<text x="867.5" y="487.8" font-size="26.5" font-weight="bold"  text-anchor="end" fill="#000" >0</text>
<line x1="871.0" y1="362.0" x2="885.0" y2="362.0" stroke="#000" stroke-width="3.2" />
<text x="867.5" y="371.3" font-size="26.5" font-weight="bold"  text-anchor="end" fill="#000" >5</text>
<line x1="871.0" y1="245.5" x2="885.0" y2="245.5" stroke="#000" stroke-width="3.2" />
<text x="867.5" y="254.8" font-size="26.5" font-weight="bold"  text-anchor="end" fill="#000" >10</text>
<line x1="871.0" y1="129.0" x2="885.0" y2="129.0" stroke="#000" stroke-width="3.2" />
<text x="867.5" y="138.3" font-size="26.5" font-weight="bold"  text-anchor="end" fill="#000" >15</text>
<line x1="885.0" y1="478.5" x2="885.0" y2="491.5" stroke="#000" stroke-width="3.2" />
<text x="885.0" y="522.5" font-size="26.5" font-weight="bold"  text-anchor="middle" fill="#000" >-6</text>
<line x1="972.4" y1="478.5" x2="972.4" y2="491.5" stroke="#000" stroke-width="3.2" />
<text x="972.4" y="522.5" font-size="26.5" font-weight="bold"  text-anchor="middle" fill="#000" >-4</text>
<line x1="1059.7" y1="478.5" x2="1059.7" y2="491.5" stroke="#000" stroke-width="3.2" />
<text x="1059.7" y="522.5" font-size="26.5" font-weight="bold"  text-anchor="middle" fill="#000" >-2</text>
<line x1="1147.1" y1="478.5" x2="1147.1" y2="491.5" stroke="#000" stroke-width="3.2" />
<text x="1147.1" y="522.5" font-size="26.5" font-weight="bold"  text-anchor="middle" fill="#000" >0</text>
<line x1="1234.4" y1="478.5" x2="1234.4" y2="491.5" stroke="#000" stroke-width="3.2" />
<text x="1234.4" y="522.5" font-size="26.5" font-weight="bold"  text-anchor="middle" fill="#000" >2</text>
<line x1="1321.8" y1="478.5" x2="1321.8" y2="491.5" stroke="#000" stroke-width="3.2" />
<text x="1321.8" y="522.5" font-size="26.5" font-weight="bold"  text-anchor="middle" fill="#000" >4</text>
<line x1="1409.2" y1="478.5" x2="1409.2" y2="491.5" stroke="#000" stroke-width="3.2" />
<text x="1409.2" y="522.5" font-size="26.5" font-weight="bold"  text-anchor="middle" fill="#000" >6</text>
<text x="947.2" y="83.6" font-size="35.6" font-weight="bold" textLength="403.3" lengthAdjust="spacingAndGlyphs">Transcriptomics (45 gen)</text>
<text x="1015.7" y="561.7" font-size="27.5" font-weight="bold" textLength="263.7" lengthAdjust="spacingAndGlyphs">Log2(Post-HS/Ctrl)</text>
<text transform="translate(819.7,303.8) rotate(-90)" font-size="28.6" font-weight="bold" text-anchor="middle">-Log(p-value)</text>
<line x1="1653.1" y1="159.5" x2="1653.1" y2="471.5" stroke="#000" stroke-width="2.8" />
<line x1="1651.7" y1="470.1" x2="2103.5" y2="470.1" stroke="#000" stroke-width="2.8" />
<line x1="1645.1" y1="470.1" x2="1653.1" y2="470.1" stroke="#000" stroke-width="2.8" />
<text x="1642.6" y="478.3" font-size="23" font-weight="bold"  text-anchor="end" fill="#000" >0</text>
<line x1="1645.1" y1="408.3" x2="1653.1" y2="408.3" stroke="#000" stroke-width="2.8" />
<text x="1642.6" y="416.5" font-size="23" font-weight="bold"  text-anchor="end" fill="#000" >1</text>
<line x1="1645.1" y1="346.5" x2="1653.1" y2="346.5" stroke="#000" stroke-width="2.8" />
<text x="1642.6" y="354.7" font-size="23" font-weight="bold"  text-anchor="end" fill="#000" >2</text>
<line x1="1645.1" y1="284.7" x2="1653.1" y2="284.7" stroke="#000" stroke-width="2.8" />
<text x="1642.6" y="292.9" font-size="23" font-weight="bold"  text-anchor="end" fill="#000" >3</text>
<line x1="1645.1" y1="222.9" x2="1653.1" y2="222.9" stroke="#000" stroke-width="2.8" />
<text x="1642.6" y="231.1" font-size="23" font-weight="bold"  text-anchor="end" fill="#000" >4</text>
<line x1="1645.1" y1="161.1" x2="1653.1" y2="161.1" stroke="#000" stroke-width="2.8" />
<text x="1642.6" y="169.3" font-size="23" font-weight="bold"  text-anchor="end" fill="#000" >5</text>
<line x1="1726.0" y1="470.1" x2="1726.0" y2="476.6" stroke="#000" stroke-width="2.8" />
<line x1="1813.2" y1="470.1" x2="1813.2" y2="476.6" stroke="#000" stroke-width="2.8" />
<line x1="1957.0" y1="470.1" x2="1957.0" y2="476.6" stroke="#000" stroke-width="2.8" />
<line x1="2044.3" y1="470.1" x2="2044.3" y2="476.6" stroke="#000" stroke-width="2.8" />
<line x1="1726.9" y1="304.4" x2="1726.9" y2="315.8" stroke="#000" stroke-width="2.8" />
<line x1="1711.9" y1="304.4" x2="1741.9" y2="304.4" stroke="#000" stroke-width="2.8" />
<rect x="1700.9" y="318.0" width="52.0" height="152.1" fill="#fff" stroke="#000" stroke-width="4.4"/>
<line x1="1813.0" y1="313.7" x2="1813.0" y2="324.0" stroke="#000" stroke-width="2.8" />
<line x1="1798.0" y1="313.7" x2="1828.0" y2="313.7" stroke="#000" stroke-width="2.8" />
<rect x="1786.2" y="326.2" width="53.6" height="143.9" fill="#fff" stroke="#000" stroke-width="4.4"/>
<line x1="1959.1" y1="204.3" x2="1959.1" y2="221.8" stroke="#000" stroke-width="2.8" />
<line x1="1944.1" y1="204.3" x2="1974.1" y2="204.3" stroke="#000" stroke-width="2.8" />
<rect x="1933.6" y="224.0" width="51.0" height="246.1" fill="#c0c0c0" stroke="#000" stroke-width="4.4"/>
<line x1="2045.0" y1="191.6" x2="2045.0" y2="223.0" stroke="#000" stroke-width="2.8" />
<line x1="2030.0" y1="191.6" x2="2060.0" y2="191.6" stroke="#000" stroke-width="2.8" />
<rect x="2019.2" y="225.2" width="51.6" height="244.9" fill="#c0c0c0" stroke="#000" stroke-width="4.4"/>
<text transform="translate(1731,495.6) rotate(-45)" font-size="23.5" font-weight="bold" text-anchor="end">37°C</text>
<text transform="translate(1818.2,495.6) rotate(-45)" font-size="23.5" font-weight="bold" text-anchor="end">43°C</text>
<text transform="translate(1962,495.6) rotate(-45)" font-size="23.5" font-weight="bold" text-anchor="end">37°C</text>
<text transform="translate(2049.3,495.6) rotate(-45)" font-size="23.5" font-weight="bold" text-anchor="end">43°C</text>
<text x="1717.0" y="569.4" font-size="24.8" font-weight="bold"  text-anchor="start" fill="#000" >Culture Growth Temperature</text>
<text transform="translate(1585,315.5) rotate(-90)" font-size="24.5" font-weight="bold" text-anchor="middle">ΔCT</text>
<text transform="translate(1614,315.5) rotate(-90)" font-size="24.5" font-weight="bold" text-anchor="middle">(mRNA CT- rpoD CT)</text>
<rect x="1933.7" y="60" width="44.2" height="21.3" fill="#fff" stroke="#000" stroke-width="5.6"/>
<rect x="1933.3" y="103.7" width="44.2" height="21.3" fill="#c0c0c0" stroke="#000" stroke-width="5.6"/>
<text x="2001.3" y="81.4" font-size="32.5" textLength="104" lengthAdjust="spacingAndGlyphs">hsdSM</text>
<text x="2001.3" y="124.6" font-size="32.5" textLength="78.6" lengthAdjust="spacingAndGlyphs">hsdR</text>
<line x1="325.3" y1="736.1" x2="473.0" y2="738.8" stroke="#386f8c" stroke-width="5.2" />
<line x1="622.0" y1="735.7" x2="772.3" y2="738.0" stroke="#5bb544" stroke-width="5.2" />
<rect x="472.8" y="715.3" width="147.5" height="41.6" fill="#000"/>
<text x="504.6" y="747.5" font-size="25"  font-style="italic" text-anchor="start" fill="#fff" letter-spacing="0.6">hsdR</text>
<rect x="539" y="763.7" width="6" height="22" fill="#000"/><path d="M529.5 783.4 L554 783.4 L541.8 807.2Z" fill="#000"/>
<line x1="343.0" y1="826.1" x2="495.0" y2="828.4" stroke="#386f8c" stroke-width="5.2" />
<line x1="594.6" y1="826.1" x2="742.5" y2="828.4" stroke="#5bb544" stroke-width="5.2" />
<rect x="494.3" y="811.8" width="102.2" height="32.1" fill="#fb2412"/>
<text x="530.0" y="840.5" font-size="22"  font-style="italic" text-anchor="start" fill="#fff" >mC</text>
<line x1="1410.3" y1="736.2" x2="1559.0" y2="738.7" stroke="#386f8c" stroke-width="5.2" />
<line x1="1705.0" y1="735.8" x2="1855.3" y2="738.3" stroke="#5bb544" stroke-width="5.2" />
<rect x="1558.5" y="718.4" width="147.4" height="41.5" fill="#000"/>
<text x="1594.2" y="746.6" font-size="25"  font-style="italic" text-anchor="start" fill="#fff" letter-spacing="0.6">hsdR</text>
<rect x="1624" y="766.1" width="6" height="22" fill="#000"/><path d="M1615.4 786 L1639.5 786 L1627.4 806Z" fill="#000"/>
<line x1="1343.9" y1="823.0" x2="1493.0" y2="825.5" stroke="#386f8c" stroke-width="5.2" />
<line x1="1732.0" y1="823.0" x2="1882.3" y2="825.5" stroke="#5bb544" stroke-width="5.2" />
<rect x="1492.1" y="805.6" width="147.4" height="41.9" fill="#000"/>
<rect x="1639.5" y="808" width="93.4" height="39.5" fill="#fb2412"/>
<text x="1524.1" y="840.0" font-size="25"  font-style="italic" text-anchor="start" fill="#fff" letter-spacing="0.6">hsdR</text>
<text x="1677.0" y="839.2" font-size="22"  font-style="italic" text-anchor="start" fill="#fff" >mC</text>
<polyline points="156.2,1275.9 168.2,1282.4 180.3,1275.0 192.3,1272.3 204.4,1277.8 216.4,1280.6 228.5,1268.6 240.6,1273.2 252.6,1277.8 264.6,1279.6 276.7,1272.3 288.8,1270.9 300.8,1270.9 312.9,1250.1 324.9,1265.8 336.9,1248.3 349.0,1240.4 361.1,1233.9 373.1,1229.4 385.1,1222.0 397.2,1214.6 409.2,1204.9 421.3,1208.3 433.4,1193.0 445.4,1192.2 457.4,1193.0 469.5,1184.6 481.6,1185.1 493.6,1167.2 505.7,1160.1 517.7,1152.2 529.8,1143.5 541.8,1150.8 553.9,1135.0 565.9,1136.3 578.0,1129.2 590.0,1127.6 602.0,1116.6 614.1,1104.7 626.2,1099.4 638.2,1078.4" fill="none" stroke="#f5200f" stroke-width="2" stroke-linejoin="round"/>
<path d="M156.2 1272.9V1278.9M151.2 1272.9h10M151.2 1278.9h10" stroke="#f5200f" stroke-width="2" fill="none"/>
<path d="M168.2 1278.4V1286.4M163.2 1278.4h10M163.2 1286.4h10" stroke="#f5200f" stroke-width="2" fill="none"/>
<path d="M180.3 1270.0V1280.0M175.3 1270.0h10M175.3 1280.0h10" stroke="#f5200f" stroke-width="2" fill="none"/>
<path d="M192.3 1267.3V1277.3M187.3 1267.3h10M187.3 1277.3h10" stroke="#f5200f" stroke-width="2" fill="none"/>
<path d="M312.9 1246.1V1254.1M307.9 1246.1h10M307.9 1254.1h10" stroke="#f5200f" stroke-width="2" fill="none"/>
<path d="M324.9 1259.8V1271.8M319.9 1259.8h10M319.9 1271.8h10" stroke="#f5200f" stroke-width="2" fill="none"/>
<path d="M336.9 1241.3V1255.3M331.9 1241.3h10M331.9 1255.3h10" stroke="#f5200f" stroke-width="2" fill="none"/>
<path d="M349.0 1234.4V1246.4M344.0 1234.4h10M344.0 1246.4h10" stroke="#f5200f" stroke-width="2" fill="none"/>
<path d="M361.1 1226.9V1240.9M356.1 1226.9h10M356.1 1240.9h10" stroke="#f5200f" stroke-width="2" fill="none"/>
<path d="M373.1 1224.4V1234.4M368.1 1224.4h10M368.1 1234.4h10" stroke="#f5200f" stroke-width="2" fill="none"/>
<path d="M385.1 1217.0V1227.0M380.1 1217.0h10M380.1 1227.0h10" stroke="#f5200f" stroke-width="2" fill="none"/>
<path d="M397.2 1208.6V1220.6M392.2 1208.6h10M392.2 1220.6h10" stroke="#f5200f" stroke-width="2" fill="none"/>
<path d="M409.2 1197.9V1211.9M404.2 1197.9h10M404.2 1211.9h10" stroke="#f5200f" stroke-width="2" fill="none"/>
<path d="M421.3 1201.3V1215.3M416.3 1201.3h10M416.3 1215.3h10" stroke="#f5200f" stroke-width="2" fill="none"/>
<path d="M433.4 1185.0V1201.0M428.4 1185.0h10M428.4 1201.0h10" stroke="#f5200f" stroke-width="2" fill="none"/>
<path d="M445.4 1185.2V1199.2M440.4 1185.2h10M440.4 1199.2h10" stroke="#f5200f" stroke-width="2" fill="none"/>
<path d="M457.4 1183.0V1203.0M452.4 1183.0h10M452.4 1203.0h10" stroke="#f5200f" stroke-width="2" fill="none"/>
<path d="M469.5 1174.6V1194.6M464.5 1174.6h10M464.5 1194.6h10" stroke="#f5200f" stroke-width="2" fill="none"/>
<path d="M481.6 1175.1V1195.1M476.6 1175.1h10M476.6 1195.1h10" stroke="#f5200f" stroke-width="2" fill="none"/>
<path d="M493.6 1161.2V1173.2M488.6 1161.2h10M488.6 1173.2h10" stroke="#f5200f" stroke-width="2" fill="none"/>
<path d="M505.7 1150.1V1170.1M500.7 1150.1h10M500.7 1170.1h10" stroke="#f5200f" stroke-width="2" fill="none"/>
<path d="M517.7 1142.2V1162.2M512.7 1142.2h10M512.7 1162.2h10" stroke="#f5200f" stroke-width="2" fill="none"/>
<path d="M529.8 1128.5V1158.5M524.8 1128.5h10M524.8 1158.5h10" stroke="#f5200f" stroke-width="2" fill="none"/>
<path d="M541.8 1137.8V1163.8M536.8 1137.8h10M536.8 1163.8h10" stroke="#f5200f" stroke-width="2" fill="none"/>
<path d="M553.9 1124.0V1146.0M548.9 1124.0h10M548.9 1146.0h10" stroke="#f5200f" stroke-width="2" fill="none"/>
<path d="M565.9 1130.3V1142.3M560.9 1130.3h10M560.9 1142.3h10" stroke="#f5200f" stroke-width="2" fill="none"/>
<path d="M578.0 1120.2V1138.2M573.0 1120.2h10M573.0 1138.2h10" stroke="#f5200f" stroke-width="2" fill="none"/>
<path d="M590.0 1119.6V1135.6M585.0 1119.6h10M585.0 1135.6h10" stroke="#f5200f" stroke-width="2" fill="none"/>
<path d="M602.0 1106.6V1126.6M597.0 1106.6h10M597.0 1126.6h10" stroke="#f5200f" stroke-width="2" fill="none"/>
<path d="M614.1 1094.7V1114.7M609.1 1094.7h10M609.1 1114.7h10" stroke="#f5200f" stroke-width="2" fill="none"/>
<path d="M626.2 1085.4V1113.4M621.2 1085.4h10M621.2 1113.4h10" stroke="#f5200f" stroke-width="2" fill="none"/>
<path d="M638.2 1062.4V1094.4M633.2 1062.4h10M633.2 1094.4h10" stroke="#f5200f" stroke-width="2" fill="none"/>
<rect x="151.4" y="1271.1" width="9.6" height="9.6" fill="#f5200f"/>
<rect x="163.4" y="1277.6" width="9.6" height="9.6" fill="#f5200f"/>
<rect x="175.5" y="1270.2" width="9.6" height="9.6" fill="#f5200f"/>
<rect x="187.5" y="1267.5" width="9.6" height="9.6" fill="#f5200f"/>
<rect x="199.6" y="1273.0" width="9.6" height="9.6" fill="#f5200f"/>
<rect x="211.6" y="1275.8" width="9.6" height="9.6" fill="#f5200f"/>
<rect x="223.7" y="1263.8" width="9.6" height="9.6" fill="#f5200f"/>
<rect x="235.8" y="1268.4" width="9.6" height="9.6" fill="#f5200f"/>
<rect x="247.8" y="1273.0" width="9.6" height="9.6" fill="#f5200f"/>
<rect x="259.8" y="1274.8" width="9.6" height="9.6" fill="#f5200f"/>
<rect x="271.9" y="1267.5" width="9.6" height="9.6" fill="#f5200f"/>
<rect x="283.9" y="1266.1" width="9.6" height="9.6" fill="#f5200f"/>
<rect x="296.0" y="1266.1" width="9.6" height="9.6" fill="#f5200f"/>
<rect x="308.1" y="1245.3" width="9.6" height="9.6" fill="#f5200f"/>
<rect x="320.1" y="1261.0" width="9.6" height="9.6" fill="#f5200f"/>
<rect x="332.1" y="1243.5" width="9.6" height="9.6" fill="#f5200f"/>
<rect x="344.2" y="1235.6" width="9.6" height="9.6" fill="#f5200f"/>
<rect x="356.2" y="1229.1" width="9.6" height="9.6" fill="#f5200f"/>
<rect x="368.3" y="1224.6" width="9.6" height="9.6" fill="#f5200f"/>
<rect x="380.3" y="1217.2" width="9.6" height="9.6" fill="#f5200f"/>
<rect x="392.4" y="1209.8" width="9.6" height="9.6" fill="#f5200f"/>
<rect x="404.4" y="1200.1" width="9.6" height="9.6" fill="#f5200f"/>
<rect x="416.5" y="1203.5" width="9.6" height="9.6" fill="#f5200f"/>
<rect x="428.6" y="1188.2" width="9.6" height="9.6" fill="#f5200f"/>
<rect x="440.6" y="1187.4" width="9.6" height="9.6" fill="#f5200f"/>
<rect x="452.6" y="1188.2" width="9.6" height="9.6" fill="#f5200f"/>
<rect x="464.7" y="1179.8" width="9.6" height="9.6" fill="#f5200f"/>
<rect x="476.8" y="1180.3" width="9.6" height="9.6" fill="#f5200f"/>
<rect x="488.8" y="1162.4" width="9.6" height="9.6" fill="#f5200f"/>
<rect x="500.9" y="1155.3" width="9.6" height="9.6" fill="#f5200f"/>
<rect x="512.9" y="1147.4" width="9.6" height="9.6" fill="#f5200f"/>
<rect x="525.0" y="1138.7" width="9.6" height="9.6" fill="#f5200f"/>
<rect x="537.0" y="1146.0" width="9.6" height="9.6" fill="#f5200f"/>
<rect x="549.1" y="1130.2" width="9.6" height="9.6" fill="#f5200f"/>
<rect x="561.1" y="1131.5" width="9.6" height="9.6" fill="#f5200f"/>
<rect x="573.2" y="1124.4" width="9.6" height="9.6" fill="#f5200f"/>
<rect x="585.2" y="1122.8" width="9.6" height="9.6" fill="#f5200f"/>
<rect x="597.2" y="1111.8" width="9.6" height="9.6" fill="#f5200f"/>
<rect x="609.3" y="1099.9" width="9.6" height="9.6" fill="#f5200f"/>
<rect x="621.4" y="1094.6" width="9.6" height="9.6" fill="#f5200f"/>
<rect x="633.4" y="1073.6" width="9.6" height="9.6" fill="#f5200f"/>
<polyline points="156.2,1277.8 168.2,1271.8 180.3,1269.0 192.3,1278.2 204.4,1279.2 216.4,1280.1 228.5,1280.1 240.6,1274.1 252.6,1280.6 264.6,1276.9 276.7,1276.4 288.8,1267.6 300.8,1278.7 312.9,1254.7 324.9,1261.6 336.9,1231.2 349.0,1243.9 361.1,1225.2 373.1,1212.8 385.1,1190.9 397.2,1197.0 409.2,1181.1 421.3,1191.7 433.4,1194.3 445.4,1173.2 457.4,1181.1 469.5,1154.8 481.6,1164.5 493.6,1166.1 505.7,1132.4 517.7,1144.2 529.8,1124.0 541.8,1129.8 553.9,1133.2 565.9,1113.4 578.0,1106.8 590.0,1096.0 602.0,1083.6 614.1,1080.5 626.2,1050.2 638.2,1050.2" fill="none" stroke="#1a0ff2" stroke-width="2" stroke-linejoin="round"/>
<path d="M168.2 1264.8V1278.8M163.2 1264.8h10M163.2 1278.8h10" stroke="#1a0ff2" stroke-width="2" fill="none"/>
<path d="M252.6 1275.6V1285.6M247.6 1275.6h10M247.6 1285.6h10" stroke="#1a0ff2" stroke-width="2" fill="none"/>
<path d="M288.8 1258.6V1276.6M283.8 1258.6h10M283.8 1276.6h10" stroke="#1a0ff2" stroke-width="2" fill="none"/>
<path d="M312.9 1251.7V1257.7M307.9 1251.7h10M307.9 1257.7h10" stroke="#1a0ff2" stroke-width="2" fill="none"/>
<path d="M336.9 1225.2V1237.2M331.9 1225.2h10M331.9 1237.2h10" stroke="#1a0ff2" stroke-width="2" fill="none"/>
<path d="M349.0 1226.9V1260.9M344.0 1226.9h10M344.0 1260.9h10" stroke="#1a0ff2" stroke-width="2" fill="none"/>
<path d="M361.1 1215.2V1235.2M356.1 1215.2h10M356.1 1235.2h10" stroke="#1a0ff2" stroke-width="2" fill="none"/>
<path d="M373.1 1204.8V1220.8M368.1 1204.8h10M368.1 1220.8h10" stroke="#1a0ff2" stroke-width="2" fill="none"/>
<path d="M385.1 1186.9V1194.9M380.1 1186.9h10M380.1 1194.9h10" stroke="#1a0ff2" stroke-width="2" fill="none"/>
<path d="M397.2 1191.0V1203.0M392.2 1191.0h10M392.2 1203.0h10" stroke="#1a0ff2" stroke-width="2" fill="none"/>
<path d="M409.2 1162.1V1200.1M404.2 1162.1h10M404.2 1200.1h10" stroke="#1a0ff2" stroke-width="2" fill="none"/>
<path d="M421.3 1179.7V1203.7M416.3 1179.7h10M416.3 1203.7h10" stroke="#1a0ff2" stroke-width="2" fill="none"/>
<path d="M433.4 1183.3V1205.3M428.4 1183.3h10M428.4 1205.3h10" stroke="#1a0ff2" stroke-width="2" fill="none"/>
<path d="M445.4 1165.2V1181.2M440.4 1165.2h10M440.4 1181.2h10" stroke="#1a0ff2" stroke-width="2" fill="none"/>
<path d="M457.4 1170.1V1192.1M452.4 1170.1h10M452.4 1192.1h10" stroke="#1a0ff2" stroke-width="2" fill="none"/>
<path d="M469.5 1147.8V1161.8M464.5 1147.8h10M464.5 1161.8h10" stroke="#1a0ff2" stroke-width="2" fill="none"/>
<path d="M481.6 1153.5V1175.5M476.6 1153.5h10M476.6 1175.5h10" stroke="#1a0ff2" stroke-width="2" fill="none"/>
<path d="M493.6 1163.1V1169.1M488.6 1163.1h10M488.6 1169.1h10" stroke="#1a0ff2" stroke-width="2" fill="none"/>
<path d="M505.7 1124.4V1140.4M500.7 1124.4h10M500.7 1140.4h10" stroke="#1a0ff2" stroke-width="2" fill="none"/>
<path d="M517.7 1136.2V1152.2M512.7 1136.2h10M512.7 1152.2h10" stroke="#1a0ff2" stroke-width="2" fill="none"/>
<path d="M529.8 1119.0V1129.0M524.8 1119.0h10M524.8 1129.0h10" stroke="#1a0ff2" stroke-width="2" fill="none"/>
<path d="M541.8 1105.8V1153.8M536.8 1105.8h10M536.8 1153.8h10" stroke="#1a0ff2" stroke-width="2" fill="none"/>
<path d="M553.9 1125.2V1141.2M548.9 1125.2h10M548.9 1141.2h10" stroke="#1a0ff2" stroke-width="2" fill="none"/>
<path d="M565.9 1108.4V1118.4M560.9 1108.4h10M560.9 1118.4h10" stroke="#1a0ff2" stroke-width="2" fill="none"/>
<path d="M578.0 1091.8V1121.8M573.0 1091.8h10M573.0 1121.8h10" stroke="#1a0ff2" stroke-width="2" fill="none"/>
<path d="M590.0 1081.0V1111.0M585.0 1081.0h10M585.0 1111.0h10" stroke="#1a0ff2" stroke-width="2" fill="none"/>
<path d="M602.0 1067.6V1099.6M597.0 1067.6h10M597.0 1099.6h10" stroke="#1a0ff2" stroke-width="2" fill="none"/>
<path d="M614.1 1063.5V1097.5M609.1 1063.5h10M609.1 1097.5h10" stroke="#1a0ff2" stroke-width="2" fill="none"/>
<path d="M626.2 1032.2V1068.2M621.2 1032.2h10M621.2 1068.2h10" stroke="#1a0ff2" stroke-width="2" fill="none"/>
<path d="M638.2 1033.2V1067.2M633.2 1033.2h10M633.2 1067.2h10" stroke="#1a0ff2" stroke-width="2" fill="none"/>
<circle cx="156.2" cy="1277.8" r="4.8" fill="#1a0ff2"/>
<circle cx="168.2" cy="1271.8" r="4.8" fill="#1a0ff2"/>
<circle cx="180.3" cy="1269.0" r="4.8" fill="#1a0ff2"/>
<circle cx="192.3" cy="1278.2" r="4.8" fill="#1a0ff2"/>
<circle cx="204.4" cy="1279.2" r="4.8" fill="#1a0ff2"/>
<circle cx="216.4" cy="1280.1" r="4.8" fill="#1a0ff2"/>
<circle cx="228.5" cy="1280.1" r="4.8" fill="#1a0ff2"/>
<circle cx="240.6" cy="1274.1" r="4.8" fill="#1a0ff2"/>
<circle cx="252.6" cy="1280.6" r="4.8" fill="#1a0ff2"/>
<circle cx="264.6" cy="1276.9" r="4.8" fill="#1a0ff2"/>
<circle cx="276.7" cy="1276.4" r="4.8" fill="#1a0ff2"/>
<circle cx="288.8" cy="1267.6" r="4.8" fill="#1a0ff2"/>
<circle cx="300.8" cy="1278.7" r="4.8" fill="#1a0ff2"/>
<circle cx="312.9" cy="1254.7" r="4.8" fill="#1a0ff2"/>
<circle cx="324.9" cy="1261.6" r="4.8" fill="#1a0ff2"/>
<circle cx="336.9" cy="1231.2" r="4.8" fill="#1a0ff2"/>
<circle cx="349.0" cy="1243.9" r="4.8" fill="#1a0ff2"/>
<circle cx="361.1" cy="1225.2" r="4.8" fill="#1a0ff2"/>
<circle cx="373.1" cy="1212.8" r="4.8" fill="#1a0ff2"/>
<circle cx="385.1" cy="1190.9" r="4.8" fill="#1a0ff2"/>
<circle cx="397.2" cy="1197.0" r="4.8" fill="#1a0ff2"/>
<circle cx="409.2" cy="1181.1" r="4.8" fill="#1a0ff2"/>
<circle cx="421.3" cy="1191.7" r="4.8" fill="#1a0ff2"/>
<circle cx="433.4" cy="1194.3" r="4.8" fill="#1a0ff2"/>
<circle cx="445.4" cy="1173.2" r="4.8" fill="#1a0ff2"/>
<circle cx="457.4" cy="1181.1" r="4.8" fill="#1a0ff2"/>
<circle cx="469.5" cy="1154.8" r="4.8" fill="#1a0ff2"/>
<circle cx="481.6" cy="1164.5" r="4.8" fill="#1a0ff2"/>
<circle cx="493.6" cy="1166.1" r="4.8" fill="#1a0ff2"/>
<circle cx="505.7" cy="1132.4" r="4.8" fill="#1a0ff2"/>
<circle cx="517.7" cy="1144.2" r="4.8" fill="#1a0ff2"/>
<circle cx="529.8" cy="1124.0" r="4.8" fill="#1a0ff2"/>
<circle cx="541.8" cy="1129.8" r="4.8" fill="#1a0ff2"/>
<circle cx="553.9" cy="1133.2" r="4.8" fill="#1a0ff2"/>
<circle cx="565.9" cy="1113.4" r="4.8" fill="#1a0ff2"/>
<circle cx="578.0" cy="1106.8" r="4.8" fill="#1a0ff2"/>
<circle cx="590.0" cy="1096.0" r="4.8" fill="#1a0ff2"/>
<circle cx="602.0" cy="1083.6" r="4.8" fill="#1a0ff2"/>
<circle cx="614.1" cy="1080.5" r="4.8" fill="#1a0ff2"/>
<circle cx="626.2" cy="1050.2" r="4.8" fill="#1a0ff2"/>
<circle cx="638.2" cy="1050.2" r="4.8" fill="#1a0ff2"/>
<polyline points="156.2,1275.9 168.2,1277.0 180.3,1275.0 192.3,1275.9 204.4,1274.1 216.4,1267.6 228.5,1263.9 240.6,1255.6 252.6,1246.4 264.6,1240.4 276.7,1238.1 288.8,1221.5 300.8,1168.0 312.9,1171.9 324.9,1174.6 336.9,1157.4 349.0,1113.9 361.1,1070.5 373.1,1038.8 385.1,1025.7 397.2,1003.3 409.2,1009.0 421.3,1027.0 433.4,1034.9 445.4,1032.8 457.4,1032.8 469.5,1032.2 481.6,1032.8 493.6,1033.6 505.7,1034.9 517.7,1034.1 529.8,1032.2 541.8,1033.6 553.9,1031.5 565.9,1027.5 578.0,1029.6 590.0,1024.3 602.0,1024.3 614.1,1025.7 626.2,1029.6 638.2,1032.2" fill="none" stroke="#bd26fa" stroke-width="2" stroke-linejoin="round"/>
<path d="M300.8 1160.0V1176.0M295.8 1160.0h10M295.8 1176.0h10" stroke="#bd26fa" stroke-width="2" fill="none"/>
<path d="M373.1 1033.8V1043.8M368.1 1033.8h10M368.1 1043.8h10" stroke="#bd26fa" stroke-width="2" fill="none"/>
<path d="M409.2 997.0V1021.0M404.2 997.0h10M404.2 1021.0h10" stroke="#bd26fa" stroke-width="2" fill="none"/>
<path d="M421.3 1017.0V1037.0M416.3 1017.0h10M416.3 1037.0h10" stroke="#bd26fa" stroke-width="2" fill="none"/>
<path d="M590.0 1020.3V1028.3M585.0 1020.3h10M585.0 1028.3h10" stroke="#bd26fa" stroke-width="2" fill="none"/>
<path d="M602.0 1019.3V1029.3M597.0 1019.3h10M597.0 1029.3h10" stroke="#bd26fa" stroke-width="2" fill="none"/>
<path d="M614.1 1020.7V1030.7M609.1 1020.7h10M609.1 1030.7h10" stroke="#bd26fa" stroke-width="2" fill="none"/>
<path d="M626.2 1023.6V1035.6M621.2 1023.6h10M621.2 1035.6h10" stroke="#bd26fa" stroke-width="2" fill="none"/>
<path d="M638.2 1026.2V1038.2M633.2 1026.2h10M633.2 1038.2h10" stroke="#bd26fa" stroke-width="2" fill="none"/>
<path d="M151.0 1271.6L161.4 1271.6L156.2 1280.9Z" fill="#bd26fa"/>
<path d="M163.1 1272.7L173.4 1272.7L168.2 1282.0Z" fill="#bd26fa"/>
<path d="M175.1 1270.7L185.5 1270.7L180.3 1280.0Z" fill="#bd26fa"/>
<path d="M187.2 1271.6L197.5 1271.6L192.3 1280.9Z" fill="#bd26fa"/>
<path d="M199.2 1269.8L209.6 1269.8L204.4 1279.1Z" fill="#bd26fa"/>
<path d="M211.2 1263.3L221.6 1263.3L216.4 1272.6Z" fill="#bd26fa"/>
<path d="M223.3 1259.6L233.7 1259.6L228.5 1268.9Z" fill="#bd26fa"/>
<path d="M235.4 1251.3L245.8 1251.3L240.6 1260.6Z" fill="#bd26fa"/>
<path d="M247.4 1242.1L257.8 1242.1L252.6 1251.4Z" fill="#bd26fa"/>
<path d="M259.4 1236.1L269.8 1236.1L264.6 1245.4Z" fill="#bd26fa"/>
<path d="M271.5 1233.8L281.9 1233.8L276.7 1243.1Z" fill="#bd26fa"/>
<path d="M283.6 1217.2L293.9 1217.2L288.8 1226.5Z" fill="#bd26fa"/>
<path d="M295.6 1163.7L306.0 1163.7L300.8 1173.0Z" fill="#bd26fa"/>
<path d="M307.7 1167.6L318.1 1167.6L312.9 1176.9Z" fill="#bd26fa"/>
<path d="M319.7 1170.3L330.1 1170.3L324.9 1179.6Z" fill="#bd26fa"/>
<path d="M331.8 1153.1L342.1 1153.1L336.9 1162.4Z" fill="#bd26fa"/>
<path d="M343.8 1109.6L354.2 1109.6L349.0 1118.9Z" fill="#bd26fa"/>
<path d="M355.9 1066.2L366.2 1066.2L361.1 1075.5Z" fill="#bd26fa"/>
<path d="M367.9 1034.5L378.3 1034.5L373.1 1043.8Z" fill="#bd26fa"/>
<path d="M379.9 1021.4L390.3 1021.4L385.1 1030.7Z" fill="#bd26fa"/>
<path d="M392.0 999.0L402.4 999.0L397.2 1008.3Z" fill="#bd26fa"/>
<path d="M404.1 1004.7L414.4 1004.7L409.2 1014.0Z" fill="#bd26fa"/>
<path d="M416.1 1022.7L426.5 1022.7L421.3 1032.0Z" fill="#bd26fa"/>
<path d="M428.2 1030.6L438.6 1030.6L433.4 1039.9Z" fill="#bd26fa"/>
<path d="M440.2 1028.5L450.6 1028.5L445.4 1037.8Z" fill="#bd26fa"/>
<path d="M452.2 1028.5L462.6 1028.5L457.4 1037.8Z" fill="#bd26fa"/>
<path d="M464.3 1027.9L474.7 1027.9L469.5 1037.2Z" fill="#bd26fa"/>
<path d="M476.4 1028.5L486.8 1028.5L481.6 1037.8Z" fill="#bd26fa"/>
<path d="M488.4 1029.3L498.8 1029.3L493.6 1038.6Z" fill="#bd26fa"/>
<path d="M500.5 1030.6L510.9 1030.6L505.7 1039.9Z" fill="#bd26fa"/>
<path d="M512.5 1029.8L522.9 1029.8L517.7 1039.1Z" fill="#bd26fa"/>
<path d="M524.5 1027.9L535.0 1027.9L529.8 1037.2Z" fill="#bd26fa"/>
<path d="M536.6 1029.3L547.0 1029.3L541.8 1038.6Z" fill="#bd26fa"/>
<path d="M548.6 1027.2L559.1 1027.2L553.9 1036.5Z" fill="#bd26fa"/>
<path d="M560.7 1023.2L571.1 1023.2L565.9 1032.5Z" fill="#bd26fa"/>
<path d="M572.8 1025.3L583.2 1025.3L578.0 1034.6Z" fill="#bd26fa"/>
<path d="M584.8 1020.0L595.2 1020.0L590.0 1029.3Z" fill="#bd26fa"/>
<path d="M596.8 1020.0L607.2 1020.0L602.0 1029.3Z" fill="#bd26fa"/>
<path d="M608.9 1021.4L619.3 1021.4L614.1 1030.7Z" fill="#bd26fa"/>
<path d="M621.0 1025.3L631.4 1025.3L626.2 1034.6Z" fill="#bd26fa"/>
<path d="M633.0 1027.9L643.4 1027.9L638.2 1037.2Z" fill="#bd26fa"/>
<polyline points="156.2,1280.8 168.2,1281.3 180.3,1280.8 192.3,1280.8 204.4,1280.0 216.4,1276.0 228.5,1272.6 240.6,1266.3 252.6,1258.9 264.6,1249.7 276.7,1241.2 288.8,1233.9 300.8,1218.0 312.9,1194.3 324.9,1139.0 336.9,1129.2 349.0,1133.7 361.1,1108.7 373.1,1073.9 385.1,1056.0 397.2,1038.0 409.2,1015.1 421.3,1036.2 433.4,1048.6 445.4,1040.1 457.4,1041.5 469.5,1040.9 481.6,1038.8 493.6,1039.6 505.7,1040.9 517.7,1040.9 529.8,1042.8 541.8,1045.4 553.9,1044.1 565.9,1049.4 578.0,1048.6 590.0,1052.0 602.0,1053.9 614.1,1052.0 626.2,1052.8 638.2,1052.0" fill="none" stroke="#000" stroke-width="2" stroke-linejoin="round"/>
<path d="M288.8 1229.9V1237.9M283.8 1229.9h10M283.8 1237.9h10" stroke="#000" stroke-width="2" fill="none"/>
<path d="M300.8 1213.0V1223.0M295.8 1213.0h10M295.8 1223.0h10" stroke="#000" stroke-width="2" fill="none"/>
<path d="M324.9 1129.0V1149.0M319.9 1129.0h10M319.9 1149.0h10" stroke="#000" stroke-width="2" fill="none"/>
<path d="M336.9 1116.2V1142.2M331.9 1116.2h10M331.9 1142.2h10" stroke="#000" stroke-width="2" fill="none"/>
<path d="M349.0 1128.7V1138.7M344.0 1128.7h10M344.0 1138.7h10" stroke="#000" stroke-width="2" fill="none"/>
<path d="M361.1 1101.7V1115.7M356.1 1101.7h10M356.1 1115.7h10" stroke="#000" stroke-width="2" fill="none"/>
<path d="M373.1 1065.9V1081.9M368.1 1065.9h10M368.1 1081.9h10" stroke="#000" stroke-width="2" fill="none"/>
<path d="M397.2 1025.0V1051.0M392.2 1025.0h10M392.2 1051.0h10" stroke="#000" stroke-width="2" fill="none"/>
<path d="M445.4 1035.1V1045.1M440.4 1035.1h10M440.4 1045.1h10" stroke="#000" stroke-width="2" fill="none"/>
<path d="M541.8 1042.4V1048.4M536.8 1042.4h10M536.8 1048.4h10" stroke="#000" stroke-width="2" fill="none"/>
<path d="M156.2 1275.6L160.8 1280.8L156.2 1286.0L151.6 1280.8Z" fill="#000"/>
<path d="M168.2 1276.1L172.8 1281.3L168.2 1286.5L163.7 1281.3Z" fill="#000"/>
<path d="M180.3 1275.6L184.9 1280.8L180.3 1286.0L175.7 1280.8Z" fill="#000"/>
<path d="M192.3 1275.6L196.9 1280.8L192.3 1286.0L187.8 1280.8Z" fill="#000"/>
<path d="M204.4 1274.8L209.0 1280.0L204.4 1285.2L199.8 1280.0Z" fill="#000"/>
<path d="M216.4 1270.8L221.0 1276.0L216.4 1281.2L211.8 1276.0Z" fill="#000"/>
<path d="M228.5 1267.4L233.1 1272.6L228.5 1277.8L223.9 1272.6Z" fill="#000"/>
<path d="M240.6 1261.1L245.2 1266.3L240.6 1271.5L236.0 1266.3Z" fill="#000"/>
<path d="M252.6 1253.7L257.2 1258.9L252.6 1264.1L248.0 1258.9Z" fill="#000"/>
<path d="M264.6 1244.5L269.2 1249.7L264.6 1254.9L260.0 1249.7Z" fill="#000"/>
<path d="M276.7 1236.0L281.3 1241.2L276.7 1246.4L272.1 1241.2Z" fill="#000"/>
<path d="M288.8 1228.7L293.4 1233.9L288.8 1239.1L284.1 1233.9Z" fill="#000"/>
<path d="M300.8 1212.8L305.4 1218.0L300.8 1223.2L296.2 1218.0Z" fill="#000"/>
<path d="M312.9 1189.1L317.5 1194.3L312.9 1199.5L308.2 1194.3Z" fill="#000"/>
<path d="M324.9 1133.8L329.5 1139.0L324.9 1144.2L320.3 1139.0Z" fill="#000"/>
<path d="M336.9 1124.0L341.6 1129.2L336.9 1134.4L332.3 1129.2Z" fill="#000"/>
<path d="M349.0 1128.5L353.6 1133.7L349.0 1138.9L344.4 1133.7Z" fill="#000"/>
<path d="M361.1 1103.5L365.7 1108.7L361.1 1113.9L356.4 1108.7Z" fill="#000"/>
<path d="M373.1 1068.7L377.7 1073.9L373.1 1079.1L368.5 1073.9Z" fill="#000"/>
<path d="M385.1 1050.8L389.8 1056.0L385.1 1061.2L380.5 1056.0Z" fill="#000"/>
<path d="M397.2 1032.8L401.8 1038.0L397.2 1043.2L392.6 1038.0Z" fill="#000"/>
<path d="M409.2 1009.9L413.9 1015.1L409.2 1020.3L404.6 1015.1Z" fill="#000"/>
<path d="M421.3 1031.0L425.9 1036.2L421.3 1041.4L416.7 1036.2Z" fill="#000"/>
<path d="M433.4 1043.4L438.0 1048.6L433.4 1053.8L428.8 1048.6Z" fill="#000"/>
<path d="M445.4 1034.9L450.0 1040.1L445.4 1045.3L440.8 1040.1Z" fill="#000"/>
<path d="M457.4 1036.3L462.1 1041.5L457.4 1046.7L452.8 1041.5Z" fill="#000"/>
<path d="M469.5 1035.7L474.1 1040.9L469.5 1046.1L464.9 1040.9Z" fill="#000"/>
<path d="M481.6 1033.6L486.2 1038.8L481.6 1044.0L476.9 1038.8Z" fill="#000"/>
<path d="M493.6 1034.4L498.2 1039.6L493.6 1044.8L489.0 1039.6Z" fill="#000"/>
<path d="M505.7 1035.7L510.3 1040.9L505.7 1046.1L501.1 1040.9Z" fill="#000"/>
<path d="M517.7 1035.7L522.3 1040.9L517.7 1046.1L513.1 1040.9Z" fill="#000"/>
<path d="M529.8 1037.6L534.4 1042.8L529.8 1048.0L525.1 1042.8Z" fill="#000"/>
<path d="M541.8 1040.2L546.4 1045.4L541.8 1050.6L537.2 1045.4Z" fill="#000"/>
<path d="M553.9 1038.9L558.5 1044.1L553.9 1049.3L549.2 1044.1Z" fill="#000"/>
<path d="M565.9 1044.2L570.5 1049.4L565.9 1054.6L561.3 1049.4Z" fill="#000"/>
<path d="M578.0 1043.4L582.6 1048.6L578.0 1053.8L573.4 1048.6Z" fill="#000"/>
<path d="M590.0 1046.8L594.6 1052.0L590.0 1057.2L585.4 1052.0Z" fill="#000"/>
<path d="M602.0 1048.7L606.6 1053.9L602.0 1059.1L597.4 1053.9Z" fill="#000"/>
<path d="M614.1 1046.8L618.7 1052.0L614.1 1057.2L609.5 1052.0Z" fill="#000"/>
<path d="M626.2 1047.6L630.8 1052.8L626.2 1058.0L621.6 1052.8Z" fill="#000"/>
<path d="M638.2 1046.8L642.8 1052.0L638.2 1057.2L633.6 1052.0Z" fill="#000"/>
<line x1="156.2" y1="958.4" x2="156.2" y2="1282.1" stroke="#000" stroke-width="3.2" />
<line x1="639.3" y1="958.4" x2="639.3" y2="1282.1" stroke="#000" stroke-width="3.2" />
<line x1="154.6" y1="1280.6" x2="640.9" y2="1280.6" stroke="#000" stroke-width="3.2" />
<line x1="142.7" y1="959.9" x2="156.2" y2="959.9" stroke="#000" stroke-width="3.2" />
<text x="139.7" y="968.6" font-size="24.5" font-weight="bold"  text-anchor="end" fill="#000" >200</text>
<line x1="142.7" y1="1040.1" x2="156.2" y2="1040.1" stroke="#000" stroke-width="3.2" />
<text x="139.7" y="1048.8" font-size="24.5" font-weight="bold"  text-anchor="end" fill="#000" >150</text>
<line x1="142.7" y1="1120.3" x2="156.2" y2="1120.3" stroke="#000" stroke-width="3.2" />
<text x="139.7" y="1129.0" font-size="24.5" font-weight="bold"  text-anchor="end" fill="#000" >100</text>
<line x1="142.7" y1="1200.4" x2="156.2" y2="1200.4" stroke="#000" stroke-width="3.2" />
<text x="139.7" y="1209.1" font-size="24.5" font-weight="bold"  text-anchor="end" fill="#000" >50</text>
<line x1="142.7" y1="1280.6" x2="156.2" y2="1280.6" stroke="#000" stroke-width="3.2" />
<text x="139.7" y="1289.3" font-size="24.5" font-weight="bold"  text-anchor="end" fill="#000" >0</text>
<line x1="639.3" y1="959.9" x2="652.8" y2="959.9" stroke="#000" stroke-width="3.2" />
<text x="657.8" y="968.6" font-size="24.5" font-weight="bold"  text-anchor="start" fill="#000" >1.5</text>
<line x1="639.3" y1="1066.8" x2="652.8" y2="1066.8" stroke="#000" stroke-width="3.2" />
<text x="657.8" y="1075.5" font-size="24.5" font-weight="bold"  text-anchor="start" fill="#000" >1.0</text>
<line x1="639.3" y1="1173.7" x2="652.8" y2="1173.7" stroke="#000" stroke-width="3.2" />
<text x="657.8" y="1182.4" font-size="24.5" font-weight="bold"  text-anchor="start" fill="#000" >0.5</text>
<line x1="639.3" y1="1280.6" x2="652.8" y2="1280.6" stroke="#000" stroke-width="3.2" />
<text x="657.8" y="1289.3" font-size="24.5" font-weight="bold"  text-anchor="start" fill="#000" >0.0</text>
<line x1="156.2" y1="1280.6" x2="156.2" y2="1289.6" stroke="#000" stroke-width="3.2" />
<text x="156.2" y="1321.8" font-size="24.5" font-weight="bold"  text-anchor="middle" fill="#000" >0</text>
<line x1="276.7" y1="1280.6" x2="276.7" y2="1289.6" stroke="#000" stroke-width="3.2" />
<text x="276.7" y="1321.8" font-size="24.5" font-weight="bold"  text-anchor="middle" fill="#000" >5</text>
<line x1="397.2" y1="1280.6" x2="397.2" y2="1289.6" stroke="#000" stroke-width="3.2" />
<text x="397.2" y="1321.8" font-size="24.5" font-weight="bold"  text-anchor="middle" fill="#000" >10</text>
<line x1="517.7" y1="1280.6" x2="517.7" y2="1289.6" stroke="#000" stroke-width="3.2" />
<text x="517.7" y="1321.8" font-size="24.5" font-weight="bold"  text-anchor="middle" fill="#000" >15</text>
<line x1="638.2" y1="1280.6" x2="638.2" y2="1289.6" stroke="#000" stroke-width="3.2" />
<text x="638.2" y="1321.8" font-size="24.5" font-weight="bold"  text-anchor="middle" fill="#000" >20</text>
<text transform="translate(51.9,1120.9) rotate(-90)" font-size="28" font-weight="bold" text-anchor="middle" textLength="54" lengthAdjust="spacingAndGlyphs">RFU</text>
<text transform="translate(710.3,1137.5) rotate(90)" font-size="27.5" font-weight="bold" text-anchor="middle">OD<tspan font-size="20.5" dy="6.3">595nm</tspan></text>
<text x="341.6" y="1359.7" font-size="27.5" font-weight="bold" textLength="113.8" lengthAdjust="spacingAndGlyphs">Time (hr)</text>
<line x1="771.8" y1="948.8" x2="806.4" y2="948.8" stroke="#1a0ff2" stroke-width="2" />
<circle cx="788.7" cy="948.8" r="4.8" fill="#1a0ff2"/>
<text x="825.7" y="957.4" font-size="26"   text-anchor="start" fill="#000" >RFU Post 37°C</text>
<line x1="771.8" y1="991.7" x2="806.4" y2="991.7" stroke="#f5200f" stroke-width="2" />
<rect x="783.9" y="986.9" width="9.6" height="9.6" fill="#f5200f"/>
<text x="825.7" y="1000.3" font-size="26"   text-anchor="start" fill="#000" >RFU Post 43°C</text>
<line x1="771.8" y1="1038.3" x2="806.4" y2="1038.3" stroke="#000" stroke-width="2" />
<path d="M788.7 1033.1L793.3 1038.3L788.7 1043.5L784.1 1038.3Z" fill="#000"/>
<text x="825.7" y="1046.6" font-size="26"   text-anchor="start" fill="#000" >OD Post 43°C</text>
<line x1="771.8" y1="1078.4" x2="806.4" y2="1078.4" stroke="#bd26fa" stroke-width="2" />
<path d="M783.5 1074.1L793.9 1074.1L788.7 1083.4Z" fill="#bd26fa"/>
<text x="825.7" y="1087.2" font-size="26"   text-anchor="start" fill="#000" >OD Post 37°C</text>
<polyline points="1214.5,1218.9 1226.4,1217.2 1238.4,1224.9 1250.3,1220.6 1262.3,1221.6 1274.2,1228.2 1286.1,1221.6 1298.1,1230.5 1310.0,1230.5 1322.0,1224.9 1333.9,1238.2 1345.8,1243.8 1357.8,1242.1 1369.7,1247.1 1381.7,1254.8 1393.6,1244.8 1405.5,1252.1 1417.5,1252.8 1429.4,1250.4 1441.4,1240.5 1453.3,1234.8 1465.2,1236.2 1477.2,1233.8 1489.1,1218.9 1501.1,1205.6 1513.0,1195.6 1524.9,1184.0 1536.9,1177.4 1548.8,1169.7 1560.8,1162.4 1572.7,1149.2 1584.6,1139.2 1596.6,1126.6 1608.5,1128.6 1620.5,1116.6 1632.4,1114.3 1644.3,1096.7 1656.3,1092.0 1668.2,1080.1 1680.2,1086.1 1692.1,1077.7" fill="none" stroke="#f5200f" stroke-width="2" stroke-linejoin="round"/>
<path d="M1250.3 1217.6V1223.6M1245.3 1217.6h10M1245.3 1223.6h10" stroke="#f5200f" stroke-width="2" fill="none"/>
<path d="M1262.3 1217.6V1225.6M1257.3 1217.6h10M1257.3 1225.6h10" stroke="#f5200f" stroke-width="2" fill="none"/>
<path d="M1274.2 1225.2V1231.2M1269.2 1225.2h10M1269.2 1231.2h10" stroke="#f5200f" stroke-width="2" fill="none"/>
<path d="M1298.1 1226.5V1234.5M1293.1 1226.5h10M1293.1 1234.5h10" stroke="#f5200f" stroke-width="2" fill="none"/>
<path d="M1369.7 1242.1V1252.1M1364.7 1242.1h10M1364.7 1252.1h10" stroke="#f5200f" stroke-width="2" fill="none"/>
<path d="M1381.7 1249.8V1259.8M1376.7 1249.8h10M1376.7 1259.8h10" stroke="#f5200f" stroke-width="2" fill="none"/>
<path d="M1393.6 1238.8V1250.8M1388.6 1238.8h10M1388.6 1250.8h10" stroke="#f5200f" stroke-width="2" fill="none"/>
<path d="M1405.5 1248.1V1256.1M1400.5 1248.1h10M1400.5 1256.1h10" stroke="#f5200f" stroke-width="2" fill="none"/>
<path d="M1417.5 1248.8V1256.8M1412.5 1248.8h10M1412.5 1256.8h10" stroke="#f5200f" stroke-width="2" fill="none"/>
<path d="M1429.4 1245.4V1255.4M1424.4 1245.4h10M1424.4 1255.4h10" stroke="#f5200f" stroke-width="2" fill="none"/>
<path d="M1441.4 1235.5V1245.5M1436.4 1235.5h10M1436.4 1245.5h10" stroke="#f5200f" stroke-width="2" fill="none"/>
<path d="M1453.3 1230.8V1238.8M1448.3 1230.8h10M1448.3 1238.8h10" stroke="#f5200f" stroke-width="2" fill="none"/>
<path d="M1465.2 1228.2V1244.2M1460.2 1228.2h10M1460.2 1244.2h10" stroke="#f5200f" stroke-width="2" fill="none"/>
<path d="M1477.2 1226.8V1240.8M1472.2 1226.8h10M1472.2 1240.8h10" stroke="#f5200f" stroke-width="2" fill="none"/>
<path d="M1489.1 1212.9V1224.9M1484.1 1212.9h10M1484.1 1224.9h10" stroke="#f5200f" stroke-width="2" fill="none"/>
<path d="M1501.1 1198.6V1212.6M1496.1 1198.6h10M1496.1 1212.6h10" stroke="#f5200f" stroke-width="2" fill="none"/>
<path d="M1513.0 1187.6V1203.6M1508.0 1187.6h10M1508.0 1203.6h10" stroke="#f5200f" stroke-width="2" fill="none"/>
<path d="M1524.9 1176.0V1192.0M1519.9 1176.0h10M1519.9 1192.0h10" stroke="#f5200f" stroke-width="2" fill="none"/>
<path d="M1536.9 1168.4V1186.4M1531.9 1168.4h10M1531.9 1186.4h10" stroke="#f5200f" stroke-width="2" fill="none"/>
<path d="M1548.8 1160.7V1178.7M1543.8 1160.7h10M1543.8 1178.7h10" stroke="#f5200f" stroke-width="2" fill="none"/>
<path d="M1560.8 1154.4V1170.4M1555.8 1154.4h10M1555.8 1170.4h10" stroke="#f5200f" stroke-width="2" fill="none"/>
<path d="M1572.7 1142.2V1156.2M1567.7 1142.2h10M1567.7 1156.2h10" stroke="#f5200f" stroke-width="2" fill="none"/>
<path d="M1584.6 1132.2V1146.2M1579.6 1132.2h10M1579.6 1146.2h10" stroke="#f5200f" stroke-width="2" fill="none"/>
<path d="M1596.6 1123.6V1129.6M1591.6 1123.6h10M1591.6 1129.6h10" stroke="#f5200f" stroke-width="2" fill="none"/>
<path d="M1608.5 1122.6V1134.6M1603.5 1122.6h10M1603.5 1134.6h10" stroke="#f5200f" stroke-width="2" fill="none"/>
<path d="M1620.5 1109.6V1123.6M1615.5 1109.6h10M1615.5 1123.6h10" stroke="#f5200f" stroke-width="2" fill="none"/>
<path d="M1632.4 1107.3V1121.3M1627.4 1107.3h10M1627.4 1121.3h10" stroke="#f5200f" stroke-width="2" fill="none"/>
<path d="M1644.3 1093.7V1099.7M1639.3 1093.7h10M1639.3 1099.7h10" stroke="#f5200f" stroke-width="2" fill="none"/>
<path d="M1656.3 1089.0V1095.0M1651.3 1089.0h10M1651.3 1095.0h10" stroke="#f5200f" stroke-width="2" fill="none"/>
<path d="M1668.2 1077.1V1083.1M1663.2 1077.1h10M1663.2 1083.1h10" stroke="#f5200f" stroke-width="2" fill="none"/>
<path d="M1680.2 1080.1V1092.1M1675.2 1080.1h10M1675.2 1092.1h10" stroke="#f5200f" stroke-width="2" fill="none"/>
<path d="M1692.1 1069.7V1085.7M1687.1 1069.7h10M1687.1 1085.7h10" stroke="#f5200f" stroke-width="2" fill="none"/>
<rect x="1209.7" y="1214.1" width="9.6" height="9.6" fill="#f5200f"/>
<rect x="1221.6" y="1212.4" width="9.6" height="9.6" fill="#f5200f"/>
<rect x="1233.6" y="1220.1" width="9.6" height="9.6" fill="#f5200f"/>
<rect x="1245.5" y="1215.8" width="9.6" height="9.6" fill="#f5200f"/>
<rect x="1257.5" y="1216.8" width="9.6" height="9.6" fill="#f5200f"/>
<rect x="1269.4" y="1223.4" width="9.6" height="9.6" fill="#f5200f"/>
<rect x="1281.3" y="1216.8" width="9.6" height="9.6" fill="#f5200f"/>
<rect x="1293.3" y="1225.7" width="9.6" height="9.6" fill="#f5200f"/>
<rect x="1305.2" y="1225.7" width="9.6" height="9.6" fill="#f5200f"/>
<rect x="1317.2" y="1220.1" width="9.6" height="9.6" fill="#f5200f"/>
<rect x="1329.1" y="1233.4" width="9.6" height="9.6" fill="#f5200f"/>
<rect x="1341.0" y="1239.0" width="9.6" height="9.6" fill="#f5200f"/>
<rect x="1353.0" y="1237.3" width="9.6" height="9.6" fill="#f5200f"/>
<rect x="1364.9" y="1242.3" width="9.6" height="9.6" fill="#f5200f"/>
<rect x="1376.9" y="1250.0" width="9.6" height="9.6" fill="#f5200f"/>
<rect x="1388.8" y="1240.0" width="9.6" height="9.6" fill="#f5200f"/>
<rect x="1400.7" y="1247.3" width="9.6" height="9.6" fill="#f5200f"/>
<rect x="1412.7" y="1248.0" width="9.6" height="9.6" fill="#f5200f"/>
<rect x="1424.6" y="1245.6" width="9.6" height="9.6" fill="#f5200f"/>
<rect x="1436.6" y="1235.7" width="9.6" height="9.6" fill="#f5200f"/>
<rect x="1448.5" y="1230.0" width="9.6" height="9.6" fill="#f5200f"/>
<rect x="1460.4" y="1231.4" width="9.6" height="9.6" fill="#f5200f"/>
<rect x="1472.4" y="1229.0" width="9.6" height="9.6" fill="#f5200f"/>
<rect x="1484.3" y="1214.1" width="9.6" height="9.6" fill="#f5200f"/>
<rect x="1496.3" y="1200.8" width="9.6" height="9.6" fill="#f5200f"/>
<rect x="1508.2" y="1190.8" width="9.6" height="9.6" fill="#f5200f"/>
<rect x="1520.1" y="1179.2" width="9.6" height="9.6" fill="#f5200f"/>
<rect x="1532.1" y="1172.6" width="9.6" height="9.6" fill="#f5200f"/>
<rect x="1544.0" y="1164.9" width="9.6" height="9.6" fill="#f5200f"/>
<rect x="1556.0" y="1157.6" width="9.6" height="9.6" fill="#f5200f"/>
<rect x="1567.9" y="1144.4" width="9.6" height="9.6" fill="#f5200f"/>
<rect x="1579.8" y="1134.4" width="9.6" height="9.6" fill="#f5200f"/>
<rect x="1591.8" y="1121.8" width="9.6" height="9.6" fill="#f5200f"/>
<rect x="1603.7" y="1123.8" width="9.6" height="9.6" fill="#f5200f"/>
<rect x="1615.7" y="1111.8" width="9.6" height="9.6" fill="#f5200f"/>
<rect x="1627.6" y="1109.5" width="9.6" height="9.6" fill="#f5200f"/>
<rect x="1639.5" y="1091.9" width="9.6" height="9.6" fill="#f5200f"/>
<rect x="1651.5" y="1087.2" width="9.6" height="9.6" fill="#f5200f"/>
<rect x="1663.4" y="1075.3" width="9.6" height="9.6" fill="#f5200f"/>
<rect x="1675.4" y="1081.3" width="9.6" height="9.6" fill="#f5200f"/>
<rect x="1687.3" y="1072.9" width="9.6" height="9.6" fill="#f5200f"/>
<polyline points="1214.5,1210.6 1226.4,1220.6 1238.4,1220.6 1250.3,1221.6 1262.3,1214.9 1274.2,1223.9 1286.1,1220.6 1298.1,1223.9 1310.0,1229.5 1322.0,1238.2 1333.9,1238.8 1345.8,1260.4 1357.8,1261.4 1369.7,1260.4 1381.7,1257.1 1393.6,1252.1 1405.5,1247.1 1417.5,1242.1 1429.4,1223.9 1441.4,1218.9 1453.3,1215.6 1465.2,1202.3 1477.2,1195.6 1489.1,1190.7 1501.1,1168.4 1513.0,1159.1 1524.9,1150.8 1536.9,1134.2 1548.8,1120.9 1560.8,1103.7 1572.7,1103.7 1584.6,1102.0 1596.6,1071.1 1608.5,1082.1 1620.5,1069.4 1632.4,1066.1 1644.3,1055.5 1656.3,1036.2 1668.2,1018.0 1680.2,1019.6 1692.1,1017.3" fill="none" stroke="#1a0ff2" stroke-width="2" stroke-linejoin="round"/>
<path d="M1214.5 1204.6V1216.6M1209.5 1204.6h10M1209.5 1216.6h10" stroke="#1a0ff2" stroke-width="2" fill="none"/>
<path d="M1226.4 1215.6V1225.6M1221.4 1215.6h10M1221.4 1225.6h10" stroke="#1a0ff2" stroke-width="2" fill="none"/>
<path d="M1262.3 1209.9V1219.9M1257.3 1209.9h10M1257.3 1219.9h10" stroke="#1a0ff2" stroke-width="2" fill="none"/>
<path d="M1274.2 1219.9V1227.9M1269.2 1219.9h10M1269.2 1227.9h10" stroke="#1a0ff2" stroke-width="2" fill="none"/>
<path d="M1345.8 1255.4V1265.4M1340.8 1255.4h10M1340.8 1265.4h10" stroke="#1a0ff2" stroke-width="2" fill="none"/>
<path d="M1357.8 1257.4V1265.4M1352.8 1257.4h10M1352.8 1265.4h10" stroke="#1a0ff2" stroke-width="2" fill="none"/>
<path d="M1369.7 1256.4V1264.4M1364.7 1256.4h10M1364.7 1264.4h10" stroke="#1a0ff2" stroke-width="2" fill="none"/>
<path d="M1381.7 1251.1V1263.1M1376.7 1251.1h10M1376.7 1263.1h10" stroke="#1a0ff2" stroke-width="2" fill="none"/>
<path d="M1393.6 1247.1V1257.1M1388.6 1247.1h10M1388.6 1257.1h10" stroke="#1a0ff2" stroke-width="2" fill="none"/>
<path d="M1405.5 1243.1V1251.1M1400.5 1243.1h10M1400.5 1251.1h10" stroke="#1a0ff2" stroke-width="2" fill="none"/>
<path d="M1417.5 1236.1V1248.1M1412.5 1236.1h10M1412.5 1248.1h10" stroke="#1a0ff2" stroke-width="2" fill="none"/>
<path d="M1429.4 1217.9V1229.9M1424.4 1217.9h10M1424.4 1229.9h10" stroke="#1a0ff2" stroke-width="2" fill="none"/>
<path d="M1441.4 1212.9V1224.9M1436.4 1212.9h10M1436.4 1224.9h10" stroke="#1a0ff2" stroke-width="2" fill="none"/>
<path d="M1453.3 1207.6V1223.6M1448.3 1207.6h10M1448.3 1223.6h10" stroke="#1a0ff2" stroke-width="2" fill="none"/>
<path d="M1465.2 1194.3V1210.3M1460.2 1194.3h10M1460.2 1210.3h10" stroke="#1a0ff2" stroke-width="2" fill="none"/>
<path d="M1477.2 1189.6V1201.6M1472.2 1189.6h10M1472.2 1201.6h10" stroke="#1a0ff2" stroke-width="2" fill="none"/>
<path d="M1489.1 1182.7V1198.7M1484.1 1182.7h10M1484.1 1198.7h10" stroke="#1a0ff2" stroke-width="2" fill="none"/>
<path d="M1501.1 1162.4V1174.4M1496.1 1162.4h10M1496.1 1174.4h10" stroke="#1a0ff2" stroke-width="2" fill="none"/>
<path d="M1513.0 1153.1V1165.1M1508.0 1153.1h10M1508.0 1165.1h10" stroke="#1a0ff2" stroke-width="2" fill="none"/>
<path d="M1524.9 1145.8V1155.8M1519.9 1145.8h10M1519.9 1155.8h10" stroke="#1a0ff2" stroke-width="2" fill="none"/>
<path d="M1536.9 1125.2V1143.2M1531.9 1125.2h10M1531.9 1143.2h10" stroke="#1a0ff2" stroke-width="2" fill="none"/>
<path d="M1548.8 1110.9V1130.9M1543.8 1110.9h10M1543.8 1130.9h10" stroke="#1a0ff2" stroke-width="2" fill="none"/>
<path d="M1560.8 1097.7V1109.7M1555.8 1097.7h10M1555.8 1109.7h10" stroke="#1a0ff2" stroke-width="2" fill="none"/>
<path d="M1572.7 1099.7V1107.7M1567.7 1099.7h10M1567.7 1107.7h10" stroke="#1a0ff2" stroke-width="2" fill="none"/>
<path d="M1584.6 1097.0V1107.0M1579.6 1097.0h10M1579.6 1107.0h10" stroke="#1a0ff2" stroke-width="2" fill="none"/>
<path d="M1596.6 1063.1V1079.1M1591.6 1063.1h10M1591.6 1079.1h10" stroke="#1a0ff2" stroke-width="2" fill="none"/>
<path d="M1608.5 1077.1V1087.1M1603.5 1077.1h10M1603.5 1087.1h10" stroke="#1a0ff2" stroke-width="2" fill="none"/>
<path d="M1620.5 1063.4V1075.4M1615.5 1063.4h10M1615.5 1075.4h10" stroke="#1a0ff2" stroke-width="2" fill="none"/>
<path d="M1632.4 1063.1V1069.1M1627.4 1063.1h10M1627.4 1069.1h10" stroke="#1a0ff2" stroke-width="2" fill="none"/>
<path d="M1644.3 1049.5V1061.5M1639.3 1049.5h10M1639.3 1061.5h10" stroke="#1a0ff2" stroke-width="2" fill="none"/>
<path d="M1656.3 1033.2V1039.2M1651.3 1033.2h10M1651.3 1039.2h10" stroke="#1a0ff2" stroke-width="2" fill="none"/>
<path d="M1668.2 1014.0V1022.0M1663.2 1014.0h10M1663.2 1022.0h10" stroke="#1a0ff2" stroke-width="2" fill="none"/>
<path d="M1680.2 1010.6V1028.6M1675.2 1010.6h10M1675.2 1028.6h10" stroke="#1a0ff2" stroke-width="2" fill="none"/>
<path d="M1692.1 1003.3V1031.3M1687.1 1003.3h10M1687.1 1031.3h10" stroke="#1a0ff2" stroke-width="2" fill="none"/>
<path d="M1209.3 1214.9L1219.7 1214.9L1214.5 1205.6Z" fill="#1a0ff2"/>
<path d="M1221.2 1224.9L1231.6 1224.9L1226.4 1215.6Z" fill="#1a0ff2"/>
<path d="M1233.2 1224.9L1243.6 1224.9L1238.4 1215.6Z" fill="#1a0ff2"/>
<path d="M1245.1 1225.9L1255.5 1225.9L1250.3 1216.6Z" fill="#1a0ff2"/>
<path d="M1257.1 1219.2L1267.5 1219.2L1262.3 1209.9Z" fill="#1a0ff2"/>
<path d="M1269.0 1228.2L1279.4 1228.2L1274.2 1218.9Z" fill="#1a0ff2"/>
<path d="M1280.9 1224.9L1291.3 1224.9L1286.1 1215.6Z" fill="#1a0ff2"/>
<path d="M1292.9 1228.2L1303.3 1228.2L1298.1 1218.9Z" fill="#1a0ff2"/>
<path d="M1304.8 1233.8L1315.2 1233.8L1310.0 1224.5Z" fill="#1a0ff2"/>
<path d="M1316.8 1242.5L1327.2 1242.5L1322.0 1233.2Z" fill="#1a0ff2"/>
<path d="M1328.7 1243.1L1339.1 1243.1L1333.9 1233.8Z" fill="#1a0ff2"/>
<path d="M1340.6 1264.7L1351.0 1264.7L1345.8 1255.4Z" fill="#1a0ff2"/>
<path d="M1352.6 1265.7L1363.0 1265.7L1357.8 1256.4Z" fill="#1a0ff2"/>
<path d="M1364.5 1264.7L1374.9 1264.7L1369.7 1255.4Z" fill="#1a0ff2"/>
<path d="M1376.5 1261.4L1386.9 1261.4L1381.7 1252.1Z" fill="#1a0ff2"/>
<path d="M1388.4 1256.4L1398.8 1256.4L1393.6 1247.1Z" fill="#1a0ff2"/>
<path d="M1400.3 1251.4L1410.7 1251.4L1405.5 1242.1Z" fill="#1a0ff2"/>
<path d="M1412.3 1246.4L1422.7 1246.4L1417.5 1237.1Z" fill="#1a0ff2"/>
<path d="M1424.2 1228.2L1434.6 1228.2L1429.4 1218.9Z" fill="#1a0ff2"/>
<path d="M1436.2 1223.2L1446.6 1223.2L1441.4 1213.9Z" fill="#1a0ff2"/>
<path d="M1448.1 1219.9L1458.5 1219.9L1453.3 1210.6Z" fill="#1a0ff2"/>
<path d="M1460.0 1206.6L1470.4 1206.6L1465.2 1197.3Z" fill="#1a0ff2"/>
<path d="M1472.0 1199.9L1482.4 1199.9L1477.2 1190.6Z" fill="#1a0ff2"/>
<path d="M1483.9 1195.0L1494.3 1195.0L1489.1 1185.7Z" fill="#1a0ff2"/>
<path d="M1495.9 1172.7L1506.3 1172.7L1501.1 1163.4Z" fill="#1a0ff2"/>
<path d="M1507.8 1163.4L1518.2 1163.4L1513.0 1154.1Z" fill="#1a0ff2"/>
<path d="M1519.7 1155.1L1530.1 1155.1L1524.9 1145.8Z" fill="#1a0ff2"/>
<path d="M1531.7 1138.5L1542.1 1138.5L1536.9 1129.2Z" fill="#1a0ff2"/>
<path d="M1543.6 1125.2L1554.0 1125.2L1548.8 1115.9Z" fill="#1a0ff2"/>
<path d="M1555.6 1108.0L1566.0 1108.0L1560.8 1098.7Z" fill="#1a0ff2"/>
<path d="M1567.5 1108.0L1577.9 1108.0L1572.7 1098.7Z" fill="#1a0ff2"/>
<path d="M1579.4 1106.3L1589.8 1106.3L1584.6 1097.0Z" fill="#1a0ff2"/>
<path d="M1591.4 1075.4L1601.8 1075.4L1596.6 1066.1Z" fill="#1a0ff2"/>
<path d="M1603.3 1086.4L1613.7 1086.4L1608.5 1077.1Z" fill="#1a0ff2"/>
<path d="M1615.3 1073.7L1625.7 1073.7L1620.5 1064.4Z" fill="#1a0ff2"/>
<path d="M1627.2 1070.4L1637.6 1070.4L1632.4 1061.1Z" fill="#1a0ff2"/>
<path d="M1639.1 1059.8L1649.5 1059.8L1644.3 1050.5Z" fill="#1a0ff2"/>
<path d="M1651.1 1040.5L1661.5 1040.5L1656.3 1031.2Z" fill="#1a0ff2"/>
<path d="M1663.0 1022.3L1673.4 1022.3L1668.2 1013.0Z" fill="#1a0ff2"/>
<path d="M1675.0 1023.9L1685.4 1023.9L1680.2 1014.6Z" fill="#1a0ff2"/>
<path d="M1686.9 1021.6L1697.3 1021.6L1692.1 1012.3Z" fill="#1a0ff2"/>
<polyline points="1214.5,1283.7 1226.4,1280.3 1238.4,1281.3 1250.3,1279.3 1262.3,1279.3 1274.2,1278.0 1286.1,1274.7 1298.1,1270.4 1310.0,1265.4 1322.0,1258.7 1333.9,1249.4 1345.8,1241.5 1357.8,1223.9 1369.7,1213.9 1381.7,1202.3 1393.6,1175.1 1405.5,1160.1 1417.5,1135.9 1429.4,1113.6 1441.4,1099.3 1453.3,1082.1 1465.2,1067.8 1477.2,1058.8 1489.1,1056.2 1501.1,1053.5 1513.0,1049.5 1524.9,1043.5 1536.9,1040.2 1548.8,1041.2 1560.8,1042.2 1572.7,1042.2 1584.6,1040.2 1596.6,1037.9 1608.5,1036.2 1620.5,1035.6 1632.4,1033.6 1644.3,1032.9 1656.3,1034.6 1668.2,1040.2 1680.2,1043.5 1692.1,1045.5" fill="none" stroke="#000" stroke-width="2" stroke-linejoin="round"/>
<path d="M1333.9 1245.4V1253.4M1328.9 1245.4h10M1328.9 1253.4h10" stroke="#000" stroke-width="2" fill="none"/>
<path d="M1345.8 1235.5V1247.5M1340.8 1235.5h10M1340.8 1247.5h10" stroke="#000" stroke-width="2" fill="none"/>
<path d="M1357.8 1213.9V1233.9M1352.8 1213.9h10M1352.8 1233.9h10" stroke="#000" stroke-width="2" fill="none"/>
<path d="M1369.7 1199.9V1227.9M1364.7 1199.9h10M1364.7 1227.9h10" stroke="#000" stroke-width="2" fill="none"/>
<path d="M1381.7 1188.3V1216.3M1376.7 1188.3h10M1376.7 1216.3h10" stroke="#000" stroke-width="2" fill="none"/>
<path d="M1393.6 1157.1V1193.1M1388.6 1157.1h10M1388.6 1193.1h10" stroke="#000" stroke-width="2" fill="none"/>
<path d="M1405.5 1147.1V1173.1M1400.5 1147.1h10M1400.5 1173.1h10" stroke="#000" stroke-width="2" fill="none"/>
<path d="M1417.5 1126.9V1144.9M1412.5 1126.9h10M1412.5 1144.9h10" stroke="#000" stroke-width="2" fill="none"/>
<path d="M1429.4 1103.6V1123.6M1424.4 1103.6h10M1424.4 1123.6h10" stroke="#000" stroke-width="2" fill="none"/>
<path d="M1441.4 1087.3V1111.3M1436.4 1087.3h10M1436.4 1111.3h10" stroke="#000" stroke-width="2" fill="none"/>
<path d="M1453.3 1064.1V1100.1M1448.3 1064.1h10M1448.3 1100.1h10" stroke="#000" stroke-width="2" fill="none"/>
<path d="M1465.2 1047.8V1087.8M1460.2 1047.8h10M1460.2 1087.8h10" stroke="#000" stroke-width="2" fill="none"/>
<path d="M1477.2 1043.8V1073.8M1472.2 1043.8h10M1472.2 1073.8h10" stroke="#000" stroke-width="2" fill="none"/>
<path d="M1489.1 1050.2V1062.2M1484.1 1050.2h10M1484.1 1062.2h10" stroke="#000" stroke-width="2" fill="none"/>
<path d="M1501.1 1049.5V1057.5M1496.1 1049.5h10M1496.1 1057.5h10" stroke="#000" stroke-width="2" fill="none"/>
<path d="M1668.2 1035.2V1045.2M1663.2 1035.2h10M1663.2 1045.2h10" stroke="#000" stroke-width="2" fill="none"/>
<path d="M1680.2 1036.5V1050.5M1675.2 1036.5h10M1675.2 1050.5h10" stroke="#000" stroke-width="2" fill="none"/>
<path d="M1692.1 1036.5V1054.5M1687.1 1036.5h10M1687.1 1054.5h10" stroke="#000" stroke-width="2" fill="none"/>
<path d="M1214.5 1278.5L1219.1 1283.7L1214.5 1288.9L1209.9 1283.7Z" fill="#000"/>
<path d="M1226.4 1275.1L1231.0 1280.3L1226.4 1285.5L1221.8 1280.3Z" fill="#000"/>
<path d="M1238.4 1276.1L1243.0 1281.3L1238.4 1286.5L1233.8 1281.3Z" fill="#000"/>
<path d="M1250.3 1274.1L1254.9 1279.3L1250.3 1284.5L1245.7 1279.3Z" fill="#000"/>
<path d="M1262.3 1274.1L1266.9 1279.3L1262.3 1284.5L1257.7 1279.3Z" fill="#000"/>
<path d="M1274.2 1272.8L1278.8 1278.0L1274.2 1283.2L1269.6 1278.0Z" fill="#000"/>
<path d="M1286.1 1269.5L1290.7 1274.7L1286.1 1279.9L1281.5 1274.7Z" fill="#000"/>
<path d="M1298.1 1265.2L1302.7 1270.4L1298.1 1275.6L1293.5 1270.4Z" fill="#000"/>
<path d="M1310.0 1260.2L1314.6 1265.4L1310.0 1270.6L1305.4 1265.4Z" fill="#000"/>
<path d="M1322.0 1253.5L1326.6 1258.7L1322.0 1263.9L1317.4 1258.7Z" fill="#000"/>
<path d="M1333.9 1244.2L1338.5 1249.4L1333.9 1254.6L1329.3 1249.4Z" fill="#000"/>
<path d="M1345.8 1236.3L1350.4 1241.5L1345.8 1246.7L1341.2 1241.5Z" fill="#000"/>
<path d="M1357.8 1218.7L1362.4 1223.9L1357.8 1229.1L1353.2 1223.9Z" fill="#000"/>
<path d="M1369.7 1208.7L1374.3 1213.9L1369.7 1219.1L1365.1 1213.9Z" fill="#000"/>
<path d="M1381.7 1197.1L1386.3 1202.3L1381.7 1207.5L1377.1 1202.3Z" fill="#000"/>
<path d="M1393.6 1169.9L1398.2 1175.1L1393.6 1180.3L1389.0 1175.1Z" fill="#000"/>
<path d="M1405.5 1154.9L1410.1 1160.1L1405.5 1165.3L1400.9 1160.1Z" fill="#000"/>
<path d="M1417.5 1130.7L1422.1 1135.9L1417.5 1141.1L1412.9 1135.9Z" fill="#000"/>
<path d="M1429.4 1108.4L1434.0 1113.6L1429.4 1118.8L1424.8 1113.6Z" fill="#000"/>
<path d="M1441.4 1094.1L1446.0 1099.3L1441.4 1104.5L1436.8 1099.3Z" fill="#000"/>
<path d="M1453.3 1076.9L1457.9 1082.1L1453.3 1087.3L1448.7 1082.1Z" fill="#000"/>
<path d="M1465.2 1062.6L1469.8 1067.8L1465.2 1073.0L1460.6 1067.8Z" fill="#000"/>
<path d="M1477.2 1053.6L1481.8 1058.8L1477.2 1064.0L1472.6 1058.8Z" fill="#000"/>
<path d="M1489.1 1051.0L1493.7 1056.2L1489.1 1061.4L1484.5 1056.2Z" fill="#000"/>
<path d="M1501.1 1048.3L1505.7 1053.5L1501.1 1058.7L1496.5 1053.5Z" fill="#000"/>
<path d="M1513.0 1044.3L1517.6 1049.5L1513.0 1054.7L1508.4 1049.5Z" fill="#000"/>
<path d="M1524.9 1038.3L1529.5 1043.5L1524.9 1048.7L1520.3 1043.5Z" fill="#000"/>
<path d="M1536.9 1035.0L1541.5 1040.2L1536.9 1045.4L1532.3 1040.2Z" fill="#000"/>
<path d="M1548.8 1036.0L1553.4 1041.2L1548.8 1046.4L1544.2 1041.2Z" fill="#000"/>
<path d="M1560.8 1037.0L1565.4 1042.2L1560.8 1047.4L1556.2 1042.2Z" fill="#000"/>
<path d="M1572.7 1037.0L1577.3 1042.2L1572.7 1047.4L1568.1 1042.2Z" fill="#000"/>
<path d="M1584.6 1035.0L1589.2 1040.2L1584.6 1045.4L1580.0 1040.2Z" fill="#000"/>
<path d="M1596.6 1032.7L1601.2 1037.9L1596.6 1043.1L1592.0 1037.9Z" fill="#000"/>
<path d="M1608.5 1031.0L1613.1 1036.2L1608.5 1041.4L1603.9 1036.2Z" fill="#000"/>
<path d="M1620.5 1030.4L1625.1 1035.6L1620.5 1040.8L1615.9 1035.6Z" fill="#000"/>
<path d="M1632.4 1028.4L1637.0 1033.6L1632.4 1038.8L1627.8 1033.6Z" fill="#000"/>
<path d="M1644.3 1027.7L1648.9 1032.9L1644.3 1038.1L1639.7 1032.9Z" fill="#000"/>
<path d="M1656.3 1029.4L1660.9 1034.6L1656.3 1039.8L1651.7 1034.6Z" fill="#000"/>
<path d="M1668.2 1035.0L1672.8 1040.2L1668.2 1045.4L1663.6 1040.2Z" fill="#000"/>
<path d="M1680.2 1038.3L1684.8 1043.5L1680.2 1048.7L1675.6 1043.5Z" fill="#000"/>
<path d="M1692.1 1040.3L1696.7 1045.5L1692.1 1050.7L1687.5 1045.5Z" fill="#000"/>
<polyline points="1214.5,1285.3 1226.4,1284.7 1238.4,1280.3 1250.3,1278.7 1262.3,1274.7 1274.2,1268.7 1286.1,1263.7 1298.1,1256.1 1310.0,1251.1 1322.0,1243.8 1333.9,1233.8 1345.8,1208.9 1357.8,1185.7 1369.7,1170.7 1381.7,1154.1 1393.6,1135.9 1405.5,1109.3 1417.5,1076.1 1429.4,1047.9 1441.4,1029.6 1453.3,1019.6 1465.2,1017.0 1477.2,1023.0 1489.1,1027.9 1501.1,1032.3 1513.0,1028.9 1524.9,1028.9 1536.9,1027.9 1548.8,1026.3 1560.8,1024.6 1572.7,1024.6 1584.6,1023.0 1596.6,1021.3 1608.5,1021.3 1620.5,1021.3 1632.4,1023.0 1644.3,1024.6 1656.3,1026.3 1668.2,1025.6 1680.2,1026.3 1692.1,1026.3" fill="none" stroke="#bd26fa" stroke-width="2" stroke-linejoin="round"/>
<path d="M1333.9 1226.8V1240.8M1328.9 1226.8h10M1328.9 1240.8h10" stroke="#bd26fa" stroke-width="2" fill="none"/>
<path d="M1345.8 1197.9V1219.9M1340.8 1197.9h10M1340.8 1219.9h10" stroke="#bd26fa" stroke-width="2" fill="none"/>
<path d="M1357.8 1176.7V1194.7M1352.8 1176.7h10M1352.8 1194.7h10" stroke="#bd26fa" stroke-width="2" fill="none"/>
<path d="M1369.7 1163.7V1177.7M1364.7 1163.7h10M1364.7 1177.7h10" stroke="#bd26fa" stroke-width="2" fill="none"/>
<path d="M1381.7 1148.1V1160.1M1376.7 1148.1h10M1376.7 1160.1h10" stroke="#bd26fa" stroke-width="2" fill="none"/>
<path d="M1393.6 1125.9V1145.9M1388.6 1125.9h10M1388.6 1145.9h10" stroke="#bd26fa" stroke-width="2" fill="none"/>
<path d="M1405.5 1099.3V1119.3M1400.5 1099.3h10M1400.5 1119.3h10" stroke="#bd26fa" stroke-width="2" fill="none"/>
<path d="M1417.5 1067.1V1085.1M1412.5 1067.1h10M1412.5 1085.1h10" stroke="#bd26fa" stroke-width="2" fill="none"/>
<path d="M1429.4 1040.9V1054.9M1424.4 1040.9h10M1424.4 1054.9h10" stroke="#bd26fa" stroke-width="2" fill="none"/>
<path d="M1441.4 1024.6V1034.6M1436.4 1024.6h10M1436.4 1034.6h10" stroke="#bd26fa" stroke-width="2" fill="none"/>
<path d="M1453.3 1014.6V1024.6M1448.3 1014.6h10M1448.3 1024.6h10" stroke="#bd26fa" stroke-width="2" fill="none"/>
<path d="M1209.3 1281.0L1219.7 1281.0L1214.5 1290.3Z" fill="#bd26fa"/>
<path d="M1221.2 1280.4L1231.6 1280.4L1226.4 1289.7Z" fill="#bd26fa"/>
<path d="M1233.2 1276.0L1243.6 1276.0L1238.4 1285.3Z" fill="#bd26fa"/>
<path d="M1245.1 1274.4L1255.5 1274.4L1250.3 1283.7Z" fill="#bd26fa"/>
<path d="M1257.1 1270.4L1267.5 1270.4L1262.3 1279.7Z" fill="#bd26fa"/>
<path d="M1269.0 1264.4L1279.4 1264.4L1274.2 1273.7Z" fill="#bd26fa"/>
<path d="M1280.9 1259.4L1291.3 1259.4L1286.1 1268.7Z" fill="#bd26fa"/>
<path d="M1292.9 1251.8L1303.3 1251.8L1298.1 1261.1Z" fill="#bd26fa"/>
<path d="M1304.8 1246.8L1315.2 1246.8L1310.0 1256.1Z" fill="#bd26fa"/>
<path d="M1316.8 1239.5L1327.2 1239.5L1322.0 1248.8Z" fill="#bd26fa"/>
<path d="M1328.7 1229.5L1339.1 1229.5L1333.9 1238.8Z" fill="#bd26fa"/>
<path d="M1340.6 1204.6L1351.0 1204.6L1345.8 1213.9Z" fill="#bd26fa"/>
<path d="M1352.6 1181.4L1363.0 1181.4L1357.8 1190.7Z" fill="#bd26fa"/>
<path d="M1364.5 1166.4L1374.9 1166.4L1369.7 1175.7Z" fill="#bd26fa"/>
<path d="M1376.5 1149.8L1386.9 1149.8L1381.7 1159.1Z" fill="#bd26fa"/>
<path d="M1388.4 1131.6L1398.8 1131.6L1393.6 1140.9Z" fill="#bd26fa"/>
<path d="M1400.3 1105.0L1410.7 1105.0L1405.5 1114.3Z" fill="#bd26fa"/>
<path d="M1412.3 1071.8L1422.7 1071.8L1417.5 1081.1Z" fill="#bd26fa"/>
<path d="M1424.2 1043.6L1434.6 1043.6L1429.4 1052.9Z" fill="#bd26fa"/>
<path d="M1436.2 1025.3L1446.6 1025.3L1441.4 1034.6Z" fill="#bd26fa"/>
<path d="M1448.1 1015.3L1458.5 1015.3L1453.3 1024.6Z" fill="#bd26fa"/>
<path d="M1460.0 1012.7L1470.4 1012.7L1465.2 1022.0Z" fill="#bd26fa"/>
<path d="M1472.0 1018.7L1482.4 1018.7L1477.2 1028.0Z" fill="#bd26fa"/>
<path d="M1483.9 1023.6L1494.3 1023.6L1489.1 1032.9Z" fill="#bd26fa"/>
<path d="M1495.9 1028.0L1506.3 1028.0L1501.1 1037.3Z" fill="#bd26fa"/>
<path d="M1507.8 1024.6L1518.2 1024.6L1513.0 1033.9Z" fill="#bd26fa"/>
<path d="M1519.7 1024.6L1530.1 1024.6L1524.9 1033.9Z" fill="#bd26fa"/>
<path d="M1531.7 1023.6L1542.1 1023.6L1536.9 1032.9Z" fill="#bd26fa"/>
<path d="M1543.6 1022.0L1554.0 1022.0L1548.8 1031.3Z" fill="#bd26fa"/>
<path d="M1555.6 1020.3L1566.0 1020.3L1560.8 1029.6Z" fill="#bd26fa"/>
<path d="M1567.5 1020.3L1577.9 1020.3L1572.7 1029.6Z" fill="#bd26fa"/>
<path d="M1579.4 1018.7L1589.8 1018.7L1584.6 1028.0Z" fill="#bd26fa"/>
<path d="M1591.4 1017.0L1601.8 1017.0L1596.6 1026.3Z" fill="#bd26fa"/>
<path d="M1603.3 1017.0L1613.7 1017.0L1608.5 1026.3Z" fill="#bd26fa"/>
<path d="M1615.3 1017.0L1625.7 1017.0L1620.5 1026.3Z" fill="#bd26fa"/>
<path d="M1627.2 1018.7L1637.6 1018.7L1632.4 1028.0Z" fill="#bd26fa"/>
<path d="M1639.1 1020.3L1649.5 1020.3L1644.3 1029.6Z" fill="#bd26fa"/>
<path d="M1651.1 1022.0L1661.5 1022.0L1656.3 1031.3Z" fill="#bd26fa"/>
<path d="M1663.0 1021.3L1673.4 1021.3L1668.2 1030.6Z" fill="#bd26fa"/>
<path d="M1675.0 1022.0L1685.4 1022.0L1680.2 1031.3Z" fill="#bd26fa"/>
<path d="M1686.9 1022.0L1697.3 1022.0L1692.1 1031.3Z" fill="#bd26fa"/>
<line x1="1214.5" y1="966.7" x2="1214.5" y2="1285.2" stroke="#000" stroke-width="3.2" />
<line x1="1692.1" y1="966.7" x2="1692.1" y2="1285.2" stroke="#000" stroke-width="3.2" />
<line x1="1212.9" y1="1283.7" x2="1693.7" y2="1283.7" stroke="#000" stroke-width="3.2" />
<line x1="1201.0" y1="968.2" x2="1214.5" y2="968.2" stroke="#000" stroke-width="3.2" />
<text x="1198.0" y="976.9" font-size="24.5" font-weight="bold"  text-anchor="end" fill="#000" >80</text>
<line x1="1201.0" y1="1031.3" x2="1214.5" y2="1031.3" stroke="#000" stroke-width="3.2" />
<text x="1198.0" y="1040.0" font-size="24.5" font-weight="bold"  text-anchor="end" fill="#000" >60</text>
<line x1="1201.0" y1="1094.4" x2="1214.5" y2="1094.4" stroke="#000" stroke-width="3.2" />
<text x="1198.0" y="1103.1" font-size="24.5" font-weight="bold"  text-anchor="end" fill="#000" >40</text>
<line x1="1201.0" y1="1157.5" x2="1214.5" y2="1157.5" stroke="#000" stroke-width="3.2" />
<text x="1198.0" y="1166.2" font-size="24.5" font-weight="bold"  text-anchor="end" fill="#000" >20</text>
<line x1="1201.0" y1="1220.6" x2="1214.5" y2="1220.6" stroke="#000" stroke-width="3.2" />
<text x="1198.0" y="1229.3" font-size="24.5" font-weight="bold"  text-anchor="end" fill="#000" >0</text>
<line x1="1201.0" y1="1283.7" x2="1214.5" y2="1283.7" stroke="#000" stroke-width="3.2" />
<text x="1198.0" y="1292.4" font-size="24.5" font-weight="bold"  text-anchor="end" fill="#000" >-20</text>
<line x1="1692.1" y1="968.2" x2="1705.6" y2="968.2" stroke="#000" stroke-width="3.2" />
<text x="1710.6" y="976.9" font-size="24.5" font-weight="bold"  text-anchor="start" fill="#000" >1.5</text>
<line x1="1692.1" y1="1073.3" x2="1705.6" y2="1073.3" stroke="#000" stroke-width="3.2" />
<text x="1710.6" y="1082.0" font-size="24.5" font-weight="bold"  text-anchor="start" fill="#000" >1.0</text>
<line x1="1692.1" y1="1178.5" x2="1705.6" y2="1178.5" stroke="#000" stroke-width="3.2" />
<text x="1710.6" y="1187.2" font-size="24.5" font-weight="bold"  text-anchor="start" fill="#000" >0.5</text>
<line x1="1692.1" y1="1283.7" x2="1705.6" y2="1283.7" stroke="#000" stroke-width="3.2" />
<text x="1710.6" y="1292.4" font-size="24.5" font-weight="bold"  text-anchor="start" fill="#000" >0.0</text>
<line x1="1214.5" y1="1283.7" x2="1214.5" y2="1292.7" stroke="#000" stroke-width="3.2" />
<text x="1214.5" y="1321.8" font-size="24.5" font-weight="bold"  text-anchor="middle" fill="#000" >0</text>
<line x1="1333.9" y1="1283.7" x2="1333.9" y2="1292.7" stroke="#000" stroke-width="3.2" />
<text x="1333.9" y="1321.8" font-size="24.5" font-weight="bold"  text-anchor="middle" fill="#000" >5</text>
<line x1="1453.3" y1="1283.7" x2="1453.3" y2="1292.7" stroke="#000" stroke-width="3.2" />
<text x="1453.3" y="1321.8" font-size="24.5" font-weight="bold"  text-anchor="middle" fill="#000" >10</text>
<line x1="1572.7" y1="1283.7" x2="1572.7" y2="1292.7" stroke="#000" stroke-width="3.2" />
<text x="1572.7" y="1321.8" font-size="24.5" font-weight="bold"  text-anchor="middle" fill="#000" >15</text>
<line x1="1692.1" y1="1283.7" x2="1692.1" y2="1292.7" stroke="#000" stroke-width="3.2" />
<text x="1692.1" y="1321.8" font-size="24.5" font-weight="bold"  text-anchor="middle" fill="#000" >20</text>
<text transform="translate(1117.2,1125) rotate(-90)" font-size="28" font-weight="bold" text-anchor="middle" textLength="52.7" lengthAdjust="spacingAndGlyphs">RFU</text>
<text transform="translate(1767,1126) rotate(90)" font-size="27.5" font-weight="bold" text-anchor="middle">OD<tspan font-size="20.5" dy="6.3">595nm</tspan></text>
<text x="1397.8" y="1360" font-size="27" font-weight="bold" textLength="112.6" lengthAdjust="spacingAndGlyphs">Time (hr)</text>
<line x1="1828.0" y1="1009.7" x2="1862.0" y2="1009.7" stroke="#1a0ff2" stroke-width="2" />
<path d="M1839.8 1014.0L1850.2 1014.0L1845.0 1004.7Z" fill="#1a0ff2"/>
<text x="1881.2" y="1018.7" font-size="26.15"   text-anchor="start" fill="#000" >WT/HsdR:mCherry 37°C</text>
<line x1="1828.0" y1="1052.5" x2="1862.0" y2="1052.5" stroke="#f5200f" stroke-width="2" />
<rect x="1840.2" y="1047.7" width="9.6" height="9.6" fill="#f5200f"/>
<text x="1881.2" y="1061.5" font-size="26.15"   text-anchor="start" fill="#000" >WT/HsdR:mCherry 43°C</text>
<line x1="1829.2" y1="1101.0" x2="1863.2" y2="1101.0" stroke="#000" stroke-width="2" />
<path d="M1846.2 1095.8L1850.8 1101.0L1846.2 1106.2L1841.6 1101.0Z" fill="#000"/>
<text x="1890.3" y="1109.9" font-size="26.15"   text-anchor="start" fill="#000" >OD Post 43°C</text>
<line x1="1829.2" y1="1143.8" x2="1863.2" y2="1143.8" stroke="#bd26fa" stroke-width="2" />
<path d="M1841.0 1139.5L1851.4 1139.5L1846.2 1148.8Z" fill="#bd26fa"/>
<text x="1890.3" y="1152.3" font-size="26.15"   text-anchor="start" fill="#000" >OD Post 37°C</text>
</svg></body></html>
